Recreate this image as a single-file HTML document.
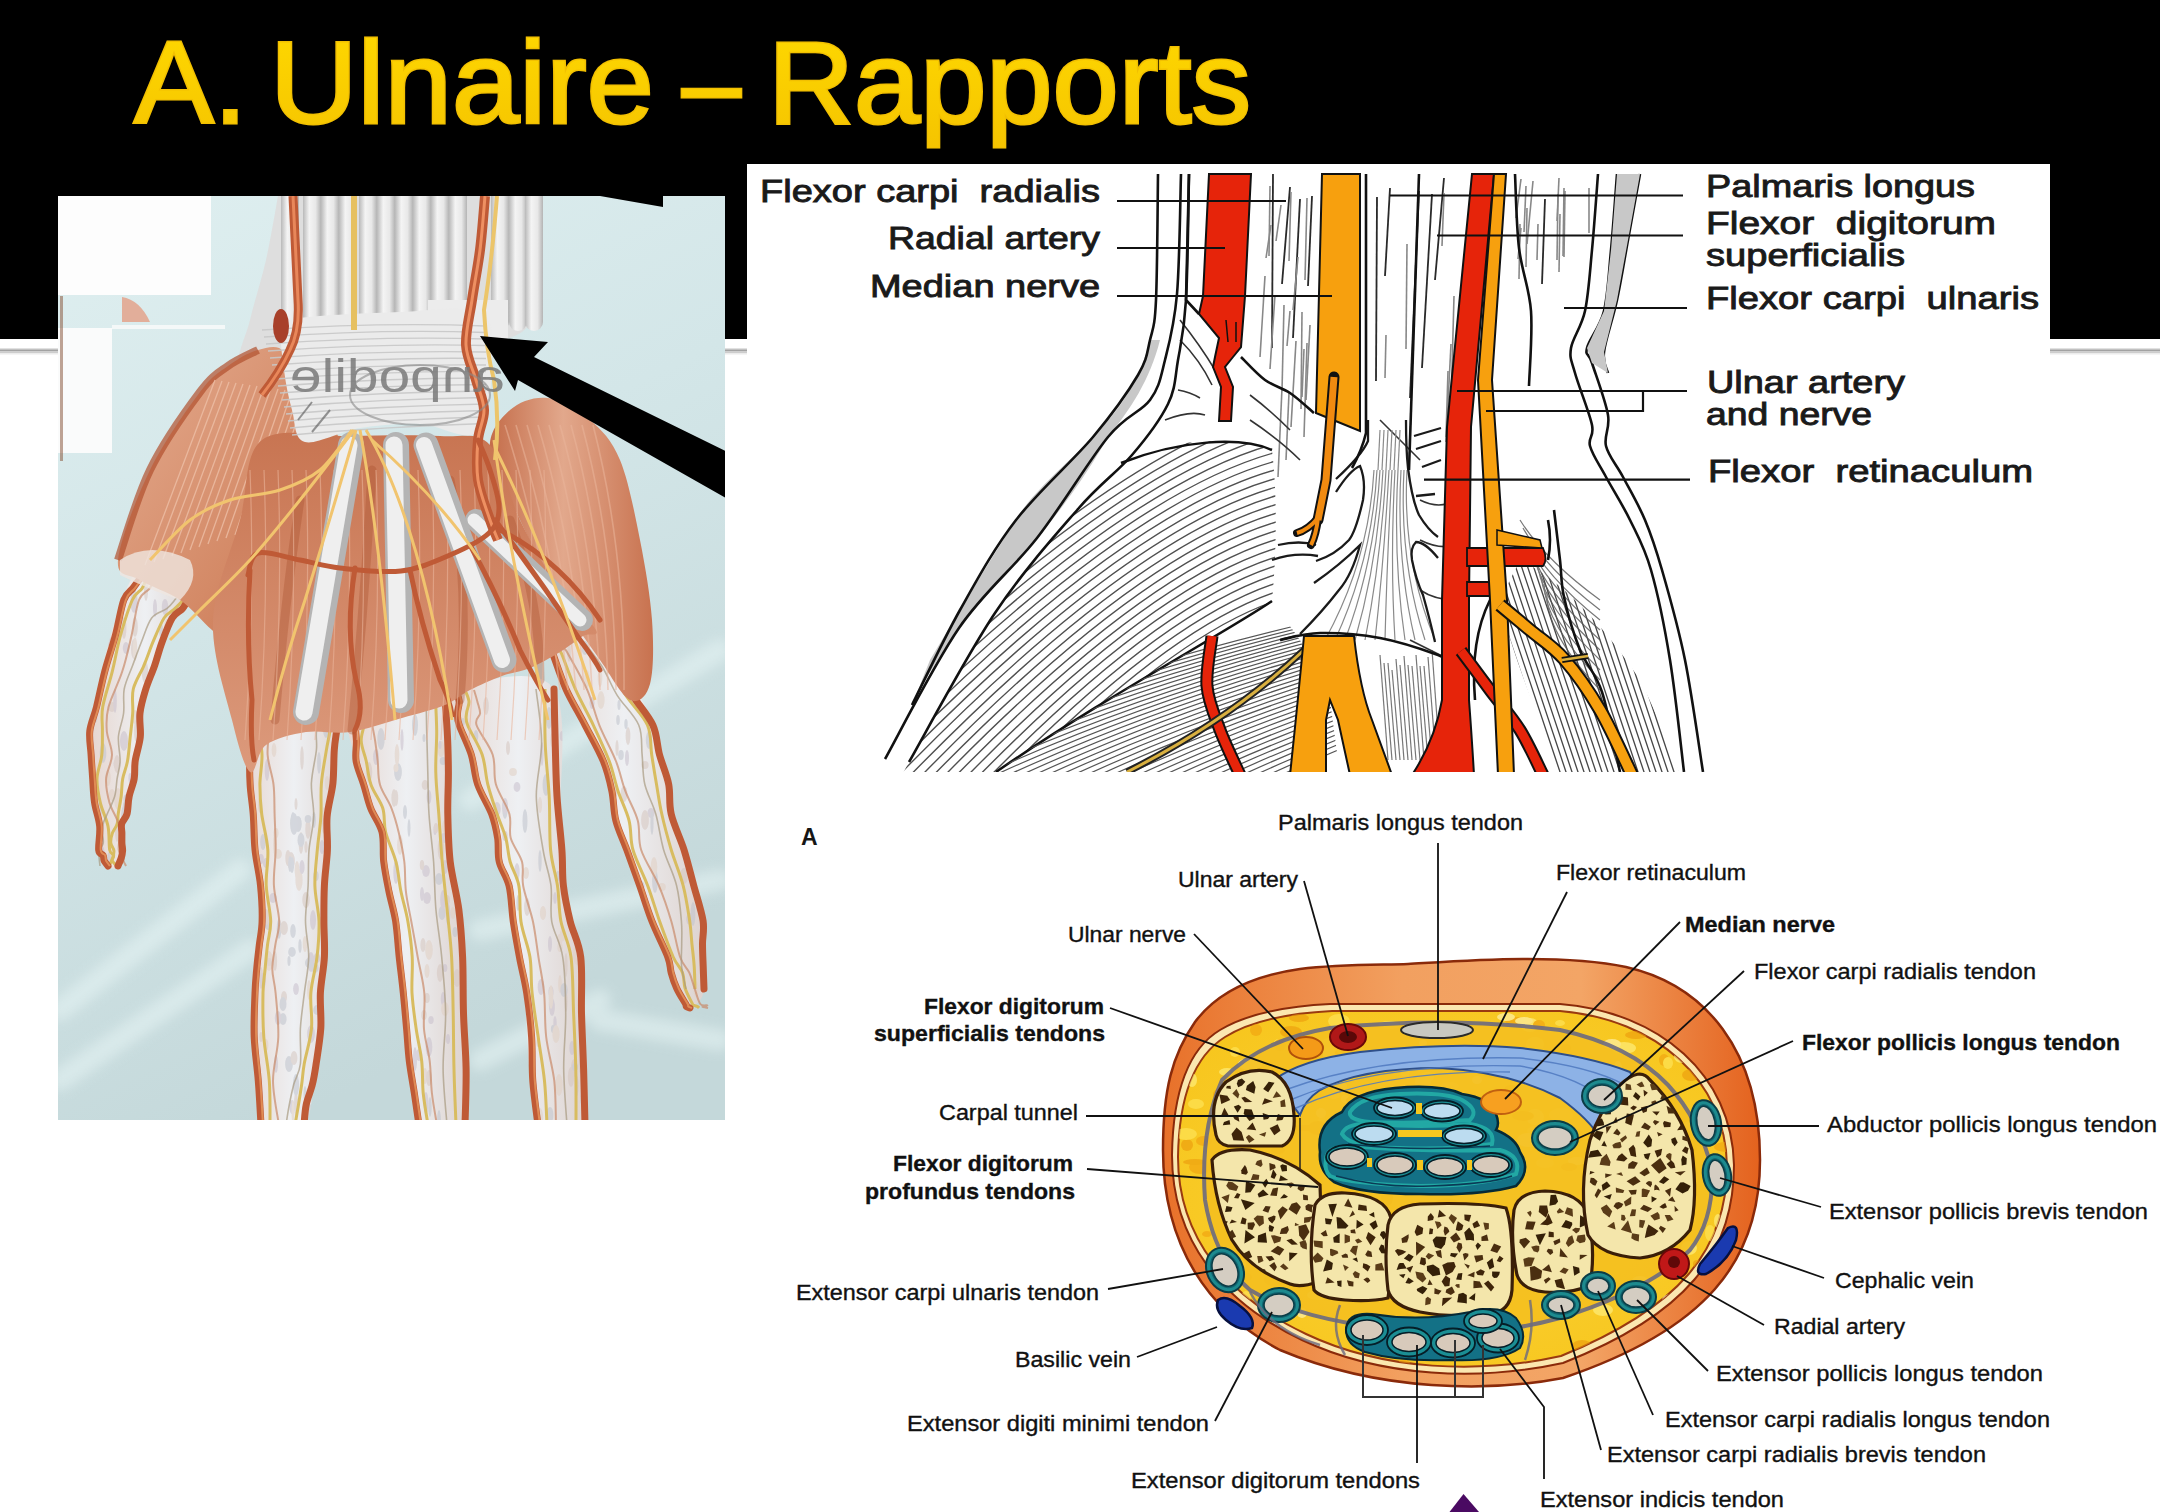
<!DOCTYPE html><html><head><meta charset="utf-8"><style>html,body{margin:0;padding:0}body{width:2160px;height:1512px;background:#fff;position:relative;overflow:hidden;font-family:"Liberation Sans",sans-serif}#title{position:absolute;left:132px;top:14px;font-size:116px;line-height:140px;color:#ffd300;white-space:nowrap;letter-spacing:0.5px;-webkit-text-stroke:3px #f9c800;text-shadow:0 0 1px #a07000}svg{position:absolute;left:0;top:0}</style></head><body><svg width="2160" height="1512" viewBox="0 0 2160 1512"><rect x="0" y="0" width="2160" height="339" fill="#000"/><rect x="0" y="348.5" width="2160" height="1" fill="#c4c4c4"/><rect x="0" y="349.5" width="2160" height="2" fill="#a2a2a2"/><rect x="0" y="351.5" width="2160" height="1.5" fill="#cdcdcd"/><rect x="0" y="353" width="2160" height="1.5" fill="#ececec"/><defs><clipPath id="hc"><rect x="58" y="196" width="667" height="924"/></clipPath><linearGradient id="hbg" x1="0" y1="0" x2="0.35" y2="1"><stop offset="0" stop-color="#dfeff0"/><stop offset="0.45" stop-color="#d3e6e8"/><stop offset="1" stop-color="#c4d8da"/></linearGradient><linearGradient id="msl" x1="0" y1="0" x2="1" y2="0"><stop offset="0" stop-color="#c46d4a"/><stop offset="0.45" stop-color="#e2a88c"/><stop offset="1" stop-color="#c8724f"/></linearGradient><linearGradient id="msl2" x1="0" y1="0" x2="1" y2="1"><stop offset="0" stop-color="#e4ab8f"/><stop offset="0.6" stop-color="#d48a67"/><stop offset="1" stop-color="#c46d4a"/></linearGradient><linearGradient id="palm" x1="0" y1="0" x2="0" y2="1"><stop offset="0" stop-color="#c87552"/><stop offset="1" stop-color="#dc9a7c"/></linearGradient><linearGradient id="tdn" x1="0" y1="0" x2="1" y2="0"><stop offset="0" stop-color="#b9b9b9"/><stop offset="0.35" stop-color="#f4f4f4"/><stop offset="0.7" stop-color="#e8e8e8"/><stop offset="1" stop-color="#b4b4b4"/></linearGradient><linearGradient id="fng" x1="0" y1="0" x2="1" y2="0"><stop offset="0" stop-color="#e6d6cf"/><stop offset="0.5" stop-color="#eef0f3"/><stop offset="1" stop-color="#ddd2ce"/></linearGradient></defs><g clip-path="url(#hc)"><rect x="58" y="196" width="667" height="924" fill="url(#hbg)"/><filter id="blr" x="-20%" y="-20%" width="140%" height="140%"><feGaussianBlur stdDeviation="6"/></filter><g opacity="0.55" stroke="#e6f4f4" stroke-width="22" fill="none" stroke-linecap="round" filter="url(#blr)"><path d="M60 1010 L240 870"/><path d="M60 1080 L250 950"/><path d="M470 800 L720 650"/><path d="M480 930 L720 880"/><path d="M600 1020 L720 1040"/><path d="M480 1060 L600 1000"/></g><rect x="58" y="196" width="153" height="99" fill="#fdfdfd"/><rect x="58" y="328" width="54" height="125" fill="#fafbfb"/><rect x="112" y="325" width="113" height="4" fill="#f4f8f8"/><path d="M122 297 Q140 300 150 322 L122 322Z" fill="#e2ae9a"/><rect x="60" y="296" width="3" height="165" fill="#8a5a40" opacity="0.55"/><path d="M278.0 196.0 C276.0 206.7 270.7 239.3 266.0 260.0 C261.3 280.7 254.2 302.0 250.0 320.0 C245.8 338.0 232.7 361.3 241.0 368.0 C249.3 374.7 270.2 363.0 300.0 360.0 C329.8 357.0 383.0 354.7 420.0 350.0 C457.0 345.3 502.7 345.3 522.0 332.0 C541.3 318.7 532.5 292.7 536.0 270.0 C539.5 247.3 541.8 208.3 543.0 196.0Z" fill="#dedede"/><rect x="281" y="180" width="18" height="151" rx="9" fill="url(#tdn)"/><rect x="303" y="180" width="18" height="151" rx="9" fill="url(#tdn)"/><rect x="321" y="180" width="18" height="151" rx="9" fill="url(#tdn)"/><rect x="339" y="180" width="18" height="151" rx="9" fill="url(#tdn)"/><rect x="359" y="180" width="18" height="151" rx="9" fill="url(#tdn)"/><rect x="377" y="180" width="18" height="151" rx="9" fill="url(#tdn)"/><rect x="395" y="180" width="18" height="151" rx="9" fill="url(#tdn)"/><rect x="413" y="180" width="18" height="151" rx="9" fill="url(#tdn)"/><rect x="431" y="180" width="18" height="151" rx="9" fill="url(#tdn)"/><rect x="449" y="180" width="18" height="151" rx="9" fill="url(#tdn)"/><rect x="491" y="180" width="18" height="151" rx="9" fill="url(#tdn)"/><rect x="509" y="180" width="18" height="151" rx="9" fill="url(#tdn)"/><rect x="525" y="180" width="18" height="151" rx="9" fill="url(#tdn)"/><rect x="428" y="300" width="80" height="40" fill="#ececec"/><path d="M150.0 565.0 C137.0 566.7 131.3 576.3 122.0 600.0 C112.7 623.7 99.3 677.2 94.0 707.0 C88.7 736.8 88.8 755.2 90.0 779.0 C91.2 802.8 98.0 835.5 101.0 850.0 C104.0 864.5 105.2 863.3 108.0 866.0 C110.8 868.7 115.7 869.8 118.0 866.0 C120.3 862.2 120.7 851.7 122.0 843.0 C123.3 834.3 123.7 827.7 126.0 814.0 C128.3 800.3 133.0 781.8 136.0 761.0 C139.0 740.2 138.0 712.8 144.0 689.0 C150.0 665.2 162.7 634.5 172.0 618.0 C181.3 601.5 203.7 598.8 200.0 590.0 C196.3 581.2 163.0 563.3 150.0 565.0Z" fill="url(#fng)"/><path d="M246.0 690.0 C230.8 695.8 249.7 704.3 251.0 725.0 C252.3 745.7 252.3 781.3 254.0 814.0 C255.7 846.7 261.0 891.2 261.0 921.0 C261.0 950.8 254.0 959.0 254.0 993.0 C254.0 1027.0 252.7 1103.0 261.0 1125.0 C269.3 1147.0 295.0 1135.2 304.0 1125.0 C313.0 1114.8 311.3 1092.0 315.0 1064.0 C318.7 1036.0 324.2 992.7 326.0 957.0 C327.8 921.3 324.3 884.5 326.0 850.0 C327.7 815.5 333.3 776.7 336.0 750.0 C338.7 723.3 357.0 700.0 342.0 690.0 C327.0 680.0 261.2 684.2 246.0 690.0Z" fill="url(#fng)"/><path d="M352.0 700.0 C337.3 712.0 351.5 739.0 356.0 761.0 C360.5 783.0 372.2 805.3 379.0 832.0 C385.8 858.7 392.2 888.2 397.0 921.0 C401.8 953.8 404.3 995.0 408.0 1029.0 C411.7 1063.0 409.5 1109.0 419.0 1125.0 C428.5 1141.0 458.0 1153.0 465.0 1125.0 C472.0 1097.0 464.0 1008.8 461.0 957.0 C458.0 905.2 449.8 858.7 447.0 814.0 C444.2 769.3 459.8 708.0 444.0 689.0 C428.2 670.0 366.7 688.0 352.0 700.0Z" fill="url(#fng)"/><path d="M456.0 690.0 C440.5 696.0 455.3 704.3 461.0 725.0 C466.7 745.7 482.2 787.2 490.0 814.0 C497.8 840.8 502.3 856.2 508.0 886.0 C513.7 915.8 519.0 953.2 524.0 993.0 C529.0 1032.8 527.8 1103.0 538.0 1125.0 C548.2 1147.0 578.3 1153.0 585.0 1125.0 C591.7 1097.0 582.2 1002.8 578.0 957.0 C573.8 911.2 564.0 894.7 560.0 850.0 C556.0 805.3 571.3 715.7 554.0 689.0 C536.7 662.3 471.5 684.0 456.0 690.0Z" fill="url(#fng)"/><path d="M548.0 640.0 C540.3 643.0 542.2 633.8 551.0 654.0 C559.8 674.2 588.5 728.3 601.0 761.0 C613.5 793.7 615.3 817.3 626.0 850.0 C636.7 882.7 655.5 931.3 665.0 957.0 C674.5 982.7 678.8 995.5 683.0 1004.0 C687.2 1012.5 686.5 1010.5 690.0 1008.0 C693.5 1005.5 702.2 1003.5 704.0 989.0 C705.8 974.5 706.3 950.2 701.0 921.0 C695.7 891.8 679.8 846.7 672.0 814.0 C664.2 781.3 666.5 754.7 654.0 725.0 C641.5 695.3 614.7 650.2 597.0 636.0 C579.3 621.8 555.7 637.0 548.0 640.0Z" fill="url(#fng)"/><clipPath id="fgc"><path d="M150.0 565.0 C137.0 566.7 131.3 576.3 122.0 600.0 C112.7 623.7 99.3 677.2 94.0 707.0 C88.7 736.8 88.8 755.2 90.0 779.0 C91.2 802.8 98.0 835.5 101.0 850.0 C104.0 864.5 105.2 863.3 108.0 866.0 C110.8 868.7 115.7 869.8 118.0 866.0 C120.3 862.2 120.7 851.7 122.0 843.0 C123.3 834.3 123.7 827.7 126.0 814.0 C128.3 800.3 133.0 781.8 136.0 761.0 C139.0 740.2 138.0 712.8 144.0 689.0 C150.0 665.2 162.7 634.5 172.0 618.0 C181.3 601.5 203.7 598.8 200.0 590.0 C196.3 581.2 163.0 563.3 150.0 565.0Z"/><path d="M246.0 690.0 C230.8 695.8 249.7 704.3 251.0 725.0 C252.3 745.7 252.3 781.3 254.0 814.0 C255.7 846.7 261.0 891.2 261.0 921.0 C261.0 950.8 254.0 959.0 254.0 993.0 C254.0 1027.0 252.7 1103.0 261.0 1125.0 C269.3 1147.0 295.0 1135.2 304.0 1125.0 C313.0 1114.8 311.3 1092.0 315.0 1064.0 C318.7 1036.0 324.2 992.7 326.0 957.0 C327.8 921.3 324.3 884.5 326.0 850.0 C327.7 815.5 333.3 776.7 336.0 750.0 C338.7 723.3 357.0 700.0 342.0 690.0 C327.0 680.0 261.2 684.2 246.0 690.0Z"/><path d="M352.0 700.0 C337.3 712.0 351.5 739.0 356.0 761.0 C360.5 783.0 372.2 805.3 379.0 832.0 C385.8 858.7 392.2 888.2 397.0 921.0 C401.8 953.8 404.3 995.0 408.0 1029.0 C411.7 1063.0 409.5 1109.0 419.0 1125.0 C428.5 1141.0 458.0 1153.0 465.0 1125.0 C472.0 1097.0 464.0 1008.8 461.0 957.0 C458.0 905.2 449.8 858.7 447.0 814.0 C444.2 769.3 459.8 708.0 444.0 689.0 C428.2 670.0 366.7 688.0 352.0 700.0Z"/><path d="M456.0 690.0 C440.5 696.0 455.3 704.3 461.0 725.0 C466.7 745.7 482.2 787.2 490.0 814.0 C497.8 840.8 502.3 856.2 508.0 886.0 C513.7 915.8 519.0 953.2 524.0 993.0 C529.0 1032.8 527.8 1103.0 538.0 1125.0 C548.2 1147.0 578.3 1153.0 585.0 1125.0 C591.7 1097.0 582.2 1002.8 578.0 957.0 C573.8 911.2 564.0 894.7 560.0 850.0 C556.0 805.3 571.3 715.7 554.0 689.0 C536.7 662.3 471.5 684.0 456.0 690.0Z"/><path d="M548.0 640.0 C540.3 643.0 542.2 633.8 551.0 654.0 C559.8 674.2 588.5 728.3 601.0 761.0 C613.5 793.7 615.3 817.3 626.0 850.0 C636.7 882.7 655.5 931.3 665.0 957.0 C674.5 982.7 678.8 995.5 683.0 1004.0 C687.2 1012.5 686.5 1010.5 690.0 1008.0 C693.5 1005.5 702.2 1003.5 704.0 989.0 C705.8 974.5 706.3 950.2 701.0 921.0 C695.7 891.8 679.8 846.7 672.0 814.0 C664.2 781.3 666.5 754.7 654.0 725.0 C641.5 695.3 614.7 650.2 597.0 636.0 C579.3 621.8 555.7 637.0 548.0 640.0Z"/></clipPath><g opacity="0.55" clip-path="url(#fgc)"><ellipse cx="311" cy="962" rx="3.6" ry="10" fill="#c8c0cc"/><ellipse cx="260" cy="805" rx="1.8" ry="8" fill="#d6c6c0"/><ellipse cx="296" cy="804" rx="1.5" ry="6" fill="#d6c6c0"/><ellipse cx="324" cy="817" rx="1.9" ry="10" fill="#e0cfc4"/><ellipse cx="302" cy="758" rx="1.8" ry="12" fill="#d6c6c0"/><ellipse cx="313" cy="702" rx="3.7" ry="6" fill="#d6c6c0"/><ellipse cx="296" cy="1104" rx="2.0" ry="12" fill="#d6c6c0"/><ellipse cx="327" cy="783" rx="2.2" ry="7" fill="#e0cfc4"/><ellipse cx="267" cy="770" rx="2.3" ry="11" fill="#c8c0cc"/><ellipse cx="300" cy="946" rx="1.7" ry="7" fill="#bfc4cc"/><ellipse cx="308" cy="829" rx="2.7" ry="10" fill="#d6c6c0"/><ellipse cx="328" cy="724" rx="3.9" ry="7" fill="#c8c0cc"/><ellipse cx="297" cy="870" rx="2.4" ry="9" fill="#e0cfc4"/><ellipse cx="259" cy="704" rx="3.1" ry="12" fill="#d6c6c0"/><ellipse cx="274" cy="750" rx="2.4" ry="7" fill="#e0cfc4"/><ellipse cx="313" cy="920" rx="3.0" ry="10" fill="#c8c0cc"/><ellipse cx="278" cy="854" rx="3.9" ry="5" fill="#e0cfc4"/><ellipse cx="301" cy="843" rx="2.3" ry="11" fill="#d6c6c0"/><ellipse cx="279" cy="929" rx="2.3" ry="10" fill="#bfc4cc"/><ellipse cx="309" cy="963" rx="4.0" ry="5" fill="#bfc4cc"/><ellipse cx="329" cy="720" rx="1.6" ry="10" fill="#e0cfc4"/><ellipse cx="275" cy="844" rx="1.9" ry="12" fill="#e0cfc4"/><ellipse cx="315" cy="968" rx="3.6" ry="5" fill="#bfc4cc"/><ellipse cx="326" cy="1007" rx="1.8" ry="7" fill="#e0cfc4"/><ellipse cx="319" cy="763" rx="1.9" ry="11" fill="#bfc4cc"/><ellipse cx="269" cy="961" rx="3.9" ry="10" fill="#e0cfc4"/><ellipse cx="276" cy="833" rx="2.5" ry="5" fill="#e0cfc4"/><ellipse cx="329" cy="858" rx="3.1" ry="8" fill="#d6c6c0"/><ellipse cx="263" cy="842" rx="2.8" ry="8" fill="#bfc4cc"/><ellipse cx="261" cy="911" rx="3.2" ry="9" fill="#bfc4cc"/><ellipse cx="283" cy="1019" rx="3.6" ry="6" fill="#bfc4cc"/><ellipse cx="309" cy="1112" rx="3.1" ry="9" fill="#bfc4cc"/><ellipse cx="296" cy="705" rx="2.3" ry="6" fill="#bfc4cc"/><ellipse cx="293" cy="821" rx="2.4" ry="9" fill="#bfc4cc"/><ellipse cx="317" cy="1010" rx="3.8" ry="5" fill="#bfc4cc"/><ellipse cx="289" cy="1064" rx="3.9" ry="8" fill="#bfc4cc"/><ellipse cx="268" cy="922" rx="3.8" ry="8" fill="#bfc4cc"/><ellipse cx="309" cy="990" rx="1.9" ry="10" fill="#e0cfc4"/><ellipse cx="305" cy="944" rx="2.3" ry="8" fill="#e0cfc4"/><ellipse cx="276" cy="1064" rx="2.0" ry="9" fill="#c8c0cc"/><ellipse cx="269" cy="962" rx="3.1" ry="4" fill="#d6c6c0"/><ellipse cx="273" cy="898" rx="3.7" ry="5" fill="#c8c0cc"/><ellipse cx="292" cy="1107" rx="2.5" ry="7" fill="#c8c0cc"/><ellipse cx="261" cy="978" rx="2.1" ry="11" fill="#d6c6c0"/><ellipse cx="286" cy="700" rx="3.6" ry="11" fill="#bfc4cc"/><ellipse cx="296" cy="989" rx="2.9" ry="6" fill="#c8c0cc"/><ellipse cx="294" cy="824" rx="3.9" ry="11" fill="#bfc4cc"/><ellipse cx="316" cy="876" rx="2.7" ry="5" fill="#bfc4cc"/><ellipse cx="291" cy="861" rx="3.9" ry="9" fill="#d6c6c0"/><ellipse cx="322" cy="847" rx="2.5" ry="7" fill="#c8c0cc"/><ellipse cx="296" cy="1085" rx="3.1" ry="11" fill="#bfc4cc"/><ellipse cx="288" cy="858" rx="2.7" ry="8" fill="#d6c6c0"/><ellipse cx="284" cy="997" rx="3.0" ry="6" fill="#d6c6c0"/><ellipse cx="293" cy="1112" rx="1.5" ry="12" fill="#e0cfc4"/><ellipse cx="325" cy="829" rx="2.7" ry="5" fill="#d6c6c0"/><ellipse cx="289" cy="961" rx="1.6" ry="5" fill="#bfc4cc"/><ellipse cx="292" cy="865" rx="2.1" ry="8" fill="#bfc4cc"/><ellipse cx="292" cy="715" rx="3.3" ry="6" fill="#d6c6c0"/><ellipse cx="329" cy="907" rx="1.5" ry="5" fill="#c8c0cc"/><ellipse cx="308" cy="819" rx="3.3" ry="4" fill="#bfc4cc"/><ellipse cx="306" cy="847" rx="1.6" ry="6" fill="#d6c6c0"/><ellipse cx="324" cy="891" rx="1.5" ry="10" fill="#d6c6c0"/><ellipse cx="299" cy="880" rx="3.6" ry="11" fill="#e0cfc4"/><ellipse cx="306" cy="900" rx="3.7" ry="8" fill="#d6c6c0"/><ellipse cx="278" cy="1018" rx="3.2" ry="7" fill="#c8c0cc"/><ellipse cx="314" cy="820" rx="1.9" ry="8" fill="#bfc4cc"/><ellipse cx="293" cy="931" rx="2.8" ry="7" fill="#bfc4cc"/><ellipse cx="260" cy="927" rx="2.2" ry="5" fill="#d6c6c0"/><ellipse cx="326" cy="726" rx="3.3" ry="12" fill="#bfc4cc"/><ellipse cx="308" cy="1119" rx="1.8" ry="5" fill="#c8c0cc"/><ellipse cx="317" cy="958" rx="3.3" ry="5" fill="#c8c0cc"/><ellipse cx="324" cy="823" rx="2.0" ry="5" fill="#d6c6c0"/><ellipse cx="261" cy="1037" rx="1.6" ry="5" fill="#d6c6c0"/><ellipse cx="261" cy="859" rx="2.9" ry="5" fill="#c8c0cc"/><ellipse cx="302" cy="867" rx="2.6" ry="7" fill="#c8c0cc"/><ellipse cx="292" cy="952" rx="3.8" ry="5" fill="#bfc4cc"/><ellipse cx="298" cy="824" rx="3.8" ry="8" fill="#bfc4cc"/><ellipse cx="275" cy="961" rx="2.1" ry="10" fill="#d6c6c0"/><ellipse cx="266" cy="917" rx="3.7" ry="8" fill="#d6c6c0"/><ellipse cx="266" cy="863" rx="3.1" ry="5" fill="#c8c0cc"/><ellipse cx="263" cy="981" rx="2.8" ry="8" fill="#c8c0cc"/><ellipse cx="290" cy="864" rx="1.8" ry="8" fill="#bfc4cc"/><ellipse cx="284" cy="928" rx="3.9" ry="7" fill="#d6c6c0"/><ellipse cx="311" cy="1034" rx="3.9" ry="9" fill="#c8c0cc"/><ellipse cx="266" cy="1045" rx="2.4" ry="6" fill="#e0cfc4"/><ellipse cx="301" cy="840" rx="3.5" ry="7" fill="#bfc4cc"/><ellipse cx="283" cy="1004" rx="3.5" ry="7" fill="#bfc4cc"/><ellipse cx="294" cy="1058" rx="3.4" ry="7" fill="#d6c6c0"/><ellipse cx="258" cy="741" rx="2.0" ry="8" fill="#d6c6c0"/><ellipse cx="305" cy="1094" rx="1.5" ry="8" fill="#bfc4cc"/><ellipse cx="425" cy="1076" rx="2.3" ry="8" fill="#e0cfc4"/><ellipse cx="429" cy="797" rx="2.4" ry="7" fill="#c8c0cc"/><ellipse cx="376" cy="1072" rx="1.8" ry="11" fill="#bfc4cc"/><ellipse cx="431" cy="1020" rx="2.7" ry="4" fill="#c8c0cc"/><ellipse cx="399" cy="1090" rx="3.2" ry="9" fill="#c8c0cc"/><ellipse cx="459" cy="909" rx="3.5" ry="7" fill="#c8c0cc"/><ellipse cx="385" cy="902" rx="1.6" ry="10" fill="#d6c6c0"/><ellipse cx="429" cy="950" rx="3.8" ry="10" fill="#e0cfc4"/><ellipse cx="379" cy="992" rx="2.2" ry="10" fill="#bfc4cc"/><ellipse cx="377" cy="1007" rx="1.9" ry="6" fill="#d6c6c0"/><ellipse cx="424" cy="738" rx="1.5" ry="4" fill="#bfc4cc"/><ellipse cx="403" cy="1032" rx="1.6" ry="11" fill="#c8c0cc"/><ellipse cx="419" cy="1055" rx="3.3" ry="6" fill="#c8c0cc"/><ellipse cx="370" cy="1041" rx="1.6" ry="6" fill="#e0cfc4"/><ellipse cx="402" cy="740" rx="1.6" ry="11" fill="#c8c0cc"/><ellipse cx="427" cy="898" rx="3.9" ry="6" fill="#c8c0cc"/><ellipse cx="427" cy="998" rx="2.8" ry="5" fill="#d6c6c0"/><ellipse cx="371" cy="846" rx="3.0" ry="11" fill="#d6c6c0"/><ellipse cx="362" cy="806" rx="2.7" ry="9" fill="#bfc4cc"/><ellipse cx="426" cy="871" rx="3.8" ry="6" fill="#c8c0cc"/><ellipse cx="447" cy="900" rx="2.9" ry="5" fill="#d6c6c0"/><ellipse cx="442" cy="913" rx="3.5" ry="7" fill="#bfc4cc"/><ellipse cx="369" cy="772" rx="3.2" ry="10" fill="#d6c6c0"/><ellipse cx="430" cy="1107" rx="1.7" ry="10" fill="#bfc4cc"/><ellipse cx="381" cy="739" rx="3.7" ry="11" fill="#bfc4cc"/><ellipse cx="441" cy="749" rx="3.4" ry="8" fill="#e0cfc4"/><ellipse cx="429" cy="1078" rx="2.9" ry="8" fill="#d6c6c0"/><ellipse cx="429" cy="1047" rx="3.3" ry="10" fill="#c8c0cc"/><ellipse cx="445" cy="827" rx="2.9" ry="7" fill="#e0cfc4"/><ellipse cx="374" cy="843" rx="3.2" ry="6" fill="#e0cfc4"/><ellipse cx="440" cy="745" rx="1.6" ry="4" fill="#c8c0cc"/><ellipse cx="398" cy="772" rx="3.9" ry="9" fill="#bfc4cc"/><ellipse cx="405" cy="812" rx="2.0" ry="7" fill="#bfc4cc"/><ellipse cx="425" cy="785" rx="3.3" ry="5" fill="#d6c6c0"/><ellipse cx="378" cy="932" rx="2.6" ry="12" fill="#d6c6c0"/><ellipse cx="372" cy="1038" rx="2.6" ry="6" fill="#bfc4cc"/><ellipse cx="378" cy="958" rx="3.4" ry="11" fill="#c8c0cc"/><ellipse cx="462" cy="933" rx="1.8" ry="11" fill="#c8c0cc"/><ellipse cx="365" cy="888" rx="1.6" ry="9" fill="#c8c0cc"/><ellipse cx="453" cy="913" rx="2.7" ry="6" fill="#e0cfc4"/><ellipse cx="392" cy="1049" rx="3.4" ry="10" fill="#bfc4cc"/><ellipse cx="445" cy="867" rx="3.0" ry="7" fill="#c8c0cc"/><ellipse cx="447" cy="777" rx="2.5" ry="5" fill="#e0cfc4"/><ellipse cx="439" cy="879" rx="3.8" ry="6" fill="#bfc4cc"/><ellipse cx="394" cy="1039" rx="3.7" ry="9" fill="#e0cfc4"/><ellipse cx="400" cy="1040" rx="1.8" ry="9" fill="#c8c0cc"/><ellipse cx="445" cy="968" rx="2.3" ry="4" fill="#c8c0cc"/><ellipse cx="400" cy="845" rx="2.9" ry="10" fill="#e0cfc4"/><ellipse cx="443" cy="900" rx="2.8" ry="10" fill="#c8c0cc"/><ellipse cx="422" cy="865" rx="2.2" ry="5" fill="#d6c6c0"/><ellipse cx="397" cy="755" rx="2.3" ry="11" fill="#e0cfc4"/><ellipse cx="435" cy="830" rx="1.6" ry="5" fill="#c8c0cc"/><ellipse cx="392" cy="1105" rx="3.2" ry="11" fill="#bfc4cc"/><ellipse cx="424" cy="1015" rx="2.7" ry="5" fill="#d6c6c0"/><ellipse cx="396" cy="768" rx="2.5" ry="4" fill="#e0cfc4"/><ellipse cx="379" cy="876" rx="3.8" ry="9" fill="#d6c6c0"/><ellipse cx="371" cy="875" rx="2.1" ry="5" fill="#bfc4cc"/><ellipse cx="444" cy="838" rx="3.7" ry="5" fill="#c8c0cc"/><ellipse cx="440" cy="973" rx="3.1" ry="9" fill="#d6c6c0"/><ellipse cx="427" cy="971" rx="2.5" ry="7" fill="#e0cfc4"/><ellipse cx="455" cy="932" rx="2.5" ry="5" fill="#bfc4cc"/><ellipse cx="395" cy="1076" rx="1.6" ry="5" fill="#e0cfc4"/><ellipse cx="423" cy="945" rx="2.6" ry="7" fill="#d6c6c0"/><ellipse cx="443" cy="761" rx="3.3" ry="4" fill="#bfc4cc"/><ellipse cx="448" cy="914" rx="2.3" ry="11" fill="#c8c0cc"/><ellipse cx="457" cy="978" rx="3.7" ry="9" fill="#d6c6c0"/><ellipse cx="448" cy="1039" rx="2.0" ry="5" fill="#c8c0cc"/><ellipse cx="376" cy="757" rx="2.9" ry="8" fill="#c8c0cc"/><ellipse cx="441" cy="849" rx="3.3" ry="11" fill="#d6c6c0"/><ellipse cx="426" cy="1103" rx="2.4" ry="11" fill="#c8c0cc"/><ellipse cx="394" cy="798" rx="2.6" ry="9" fill="#d6c6c0"/><ellipse cx="369" cy="1017" rx="3.9" ry="8" fill="#e0cfc4"/><ellipse cx="463" cy="722" rx="1.8" ry="4" fill="#bfc4cc"/><ellipse cx="396" cy="872" rx="2.7" ry="12" fill="#c8c0cc"/><ellipse cx="362" cy="1005" rx="4.0" ry="10" fill="#e0cfc4"/><ellipse cx="396" cy="798" rx="2.2" ry="8" fill="#d6c6c0"/><ellipse cx="443" cy="999" rx="2.2" ry="7" fill="#c8c0cc"/><ellipse cx="415" cy="1059" rx="2.1" ry="12" fill="#c8c0cc"/><ellipse cx="436" cy="828" rx="2.2" ry="5" fill="#d6c6c0"/><ellipse cx="463" cy="911" rx="3.6" ry="6" fill="#e0cfc4"/><ellipse cx="374" cy="901" rx="1.5" ry="10" fill="#c8c0cc"/><ellipse cx="362" cy="864" rx="2.9" ry="12" fill="#bfc4cc"/><ellipse cx="368" cy="1067" rx="2.0" ry="10" fill="#d6c6c0"/><ellipse cx="415" cy="725" rx="3.0" ry="11" fill="#bfc4cc"/><ellipse cx="362" cy="908" rx="2.5" ry="10" fill="#d6c6c0"/><ellipse cx="422" cy="894" rx="2.0" ry="7" fill="#c8c0cc"/><ellipse cx="445" cy="1009" rx="3.8" ry="7" fill="#e0cfc4"/><ellipse cx="439" cy="1120" rx="1.9" ry="10" fill="#bfc4cc"/><ellipse cx="462" cy="889" rx="2.0" ry="7" fill="#bfc4cc"/><ellipse cx="409" cy="828" rx="1.5" ry="9" fill="#bfc4cc"/><ellipse cx="555" cy="1023" rx="1.7" ry="7" fill="#c8c0cc"/><ellipse cx="571" cy="1077" rx="3.1" ry="10" fill="#d6c6c0"/><ellipse cx="500" cy="907" rx="1.8" ry="6" fill="#e0cfc4"/><ellipse cx="577" cy="1086" rx="1.5" ry="10" fill="#c8c0cc"/><ellipse cx="476" cy="736" rx="2.3" ry="6" fill="#bfc4cc"/><ellipse cx="572" cy="823" rx="2.2" ry="5" fill="#c8c0cc"/><ellipse cx="498" cy="868" rx="2.9" ry="8" fill="#e0cfc4"/><ellipse cx="581" cy="1066" rx="2.2" ry="8" fill="#d6c6c0"/><ellipse cx="477" cy="1007" rx="3.2" ry="4" fill="#e0cfc4"/><ellipse cx="486" cy="706" rx="2.8" ry="9" fill="#d6c6c0"/><ellipse cx="467" cy="1033" rx="1.6" ry="7" fill="#d6c6c0"/><ellipse cx="463" cy="845" rx="2.6" ry="5" fill="#bfc4cc"/><ellipse cx="573" cy="752" rx="3.3" ry="11" fill="#bfc4cc"/><ellipse cx="584" cy="1099" rx="3.6" ry="9" fill="#bfc4cc"/><ellipse cx="541" cy="987" rx="3.3" ry="8" fill="#c8c0cc"/><ellipse cx="576" cy="863" rx="3.5" ry="7" fill="#bfc4cc"/><ellipse cx="517" cy="872" rx="2.7" ry="9" fill="#c8c0cc"/><ellipse cx="517" cy="787" rx="3.4" ry="5" fill="#c8c0cc"/><ellipse cx="507" cy="1072" rx="2.2" ry="6" fill="#bfc4cc"/><ellipse cx="553" cy="1029" rx="2.1" ry="4" fill="#bfc4cc"/><ellipse cx="481" cy="806" rx="3.3" ry="9" fill="#d6c6c0"/><ellipse cx="574" cy="1068" rx="3.0" ry="9" fill="#d6c6c0"/><ellipse cx="504" cy="1079" rx="1.5" ry="4" fill="#c8c0cc"/><ellipse cx="522" cy="1046" rx="1.6" ry="7" fill="#c8c0cc"/><ellipse cx="526" cy="873" rx="3.0" ry="6" fill="#e0cfc4"/><ellipse cx="474" cy="1099" rx="3.3" ry="9" fill="#c8c0cc"/><ellipse cx="549" cy="718" rx="3.1" ry="11" fill="#bfc4cc"/><ellipse cx="469" cy="1003" rx="1.8" ry="10" fill="#bfc4cc"/><ellipse cx="497" cy="809" rx="3.7" ry="7" fill="#c8c0cc"/><ellipse cx="522" cy="976" rx="1.9" ry="6" fill="#e0cfc4"/><ellipse cx="578" cy="811" rx="2.6" ry="5" fill="#d6c6c0"/><ellipse cx="540" cy="1117" rx="3.1" ry="9" fill="#e0cfc4"/><ellipse cx="477" cy="773" rx="1.9" ry="8" fill="#e0cfc4"/><ellipse cx="503" cy="1093" rx="1.9" ry="6" fill="#c8c0cc"/><ellipse cx="527" cy="907" rx="2.9" ry="9" fill="#d6c6c0"/><ellipse cx="558" cy="876" rx="2.2" ry="5" fill="#bfc4cc"/><ellipse cx="505" cy="809" rx="2.7" ry="10" fill="#bfc4cc"/><ellipse cx="562" cy="736" rx="2.3" ry="5" fill="#c8c0cc"/><ellipse cx="566" cy="965" rx="1.6" ry="12" fill="#d6c6c0"/><ellipse cx="540" cy="861" rx="1.7" ry="11" fill="#bfc4cc"/><ellipse cx="499" cy="1071" rx="3.3" ry="7" fill="#bfc4cc"/><ellipse cx="468" cy="1065" rx="1.7" ry="4" fill="#bfc4cc"/><ellipse cx="552" cy="740" rx="1.8" ry="7" fill="#e0cfc4"/><ellipse cx="463" cy="795" rx="3.1" ry="9" fill="#bfc4cc"/><ellipse cx="505" cy="836" rx="2.7" ry="5" fill="#c8c0cc"/><ellipse cx="474" cy="1023" rx="1.7" ry="12" fill="#c8c0cc"/><ellipse cx="515" cy="928" rx="2.3" ry="8" fill="#bfc4cc"/><ellipse cx="465" cy="1045" rx="2.5" ry="9" fill="#d6c6c0"/><ellipse cx="501" cy="1086" rx="1.8" ry="4" fill="#c8c0cc"/><ellipse cx="518" cy="1094" rx="2.9" ry="10" fill="#e0cfc4"/><ellipse cx="492" cy="967" rx="3.4" ry="6" fill="#d6c6c0"/><ellipse cx="555" cy="898" rx="1.8" ry="6" fill="#c8c0cc"/><ellipse cx="551" cy="992" rx="2.6" ry="6" fill="#c8c0cc"/><ellipse cx="540" cy="805" rx="2.1" ry="8" fill="#e0cfc4"/><ellipse cx="560" cy="984" rx="1.8" ry="9" fill="#e0cfc4"/><ellipse cx="505" cy="806" rx="2.9" ry="8" fill="#c8c0cc"/><ellipse cx="463" cy="787" rx="3.1" ry="8" fill="#e0cfc4"/><ellipse cx="575" cy="1067" rx="3.0" ry="4" fill="#bfc4cc"/><ellipse cx="525" cy="821" rx="2.5" ry="12" fill="#bfc4cc"/><ellipse cx="542" cy="754" rx="1.5" ry="12" fill="#c8c0cc"/><ellipse cx="567" cy="831" rx="2.6" ry="11" fill="#bfc4cc"/><ellipse cx="502" cy="984" rx="3.3" ry="9" fill="#bfc4cc"/><ellipse cx="480" cy="1034" rx="3.1" ry="8" fill="#e0cfc4"/><ellipse cx="518" cy="903" rx="1.6" ry="8" fill="#bfc4cc"/><ellipse cx="475" cy="901" rx="1.9" ry="5" fill="#d6c6c0"/><ellipse cx="543" cy="913" rx="3.1" ry="7" fill="#e0cfc4"/><ellipse cx="489" cy="971" rx="3.8" ry="6" fill="#bfc4cc"/><ellipse cx="468" cy="799" rx="2.6" ry="6" fill="#bfc4cc"/><ellipse cx="507" cy="1009" rx="3.5" ry="10" fill="#e0cfc4"/><ellipse cx="526" cy="1075" rx="1.9" ry="4" fill="#c8c0cc"/><ellipse cx="556" cy="706" rx="1.9" ry="11" fill="#c8c0cc"/><ellipse cx="519" cy="1078" rx="2.8" ry="4" fill="#bfc4cc"/><ellipse cx="556" cy="1034" rx="3.6" ry="9" fill="#e0cfc4"/><ellipse cx="566" cy="1001" rx="1.6" ry="11" fill="#d6c6c0"/><ellipse cx="485" cy="1116" rx="3.2" ry="6" fill="#c8c0cc"/><ellipse cx="571" cy="924" rx="2.1" ry="4" fill="#d6c6c0"/><ellipse cx="498" cy="880" rx="2.5" ry="10" fill="#e0cfc4"/><ellipse cx="508" cy="748" rx="2.0" ry="7" fill="#d6c6c0"/><ellipse cx="511" cy="889" rx="2.2" ry="8" fill="#c8c0cc"/><ellipse cx="546" cy="785" rx="3.4" ry="11" fill="#bfc4cc"/><ellipse cx="559" cy="1085" rx="3.6" ry="11" fill="#e0cfc4"/><ellipse cx="563" cy="935" rx="3.3" ry="6" fill="#e0cfc4"/><ellipse cx="550" cy="944" rx="2.0" ry="8" fill="#c8c0cc"/><ellipse cx="506" cy="1053" rx="3.3" ry="7" fill="#c8c0cc"/><ellipse cx="538" cy="1042" rx="1.5" ry="5" fill="#d6c6c0"/><ellipse cx="473" cy="879" rx="3.3" ry="8" fill="#c8c0cc"/><ellipse cx="572" cy="1048" rx="2.7" ry="7" fill="#c8c0cc"/><ellipse cx="550" cy="1115" rx="3.4" ry="8" fill="#bfc4cc"/><ellipse cx="516" cy="1037" rx="3.0" ry="8" fill="#bfc4cc"/><ellipse cx="513" cy="772" rx="3.9" ry="4" fill="#e0cfc4"/><ellipse cx="567" cy="818" rx="3.4" ry="8" fill="#c8c0cc"/><ellipse cx="652" cy="671" rx="1.7" ry="10" fill="#bfc4cc"/><ellipse cx="600" cy="791" rx="2.3" ry="9" fill="#c8c0cc"/><ellipse cx="630" cy="686" rx="3.4" ry="11" fill="#c8c0cc"/><ellipse cx="563" cy="892" rx="2.8" ry="8" fill="#e0cfc4"/><ellipse cx="573" cy="804" rx="3.0" ry="9" fill="#bfc4cc"/><ellipse cx="630" cy="999" rx="3.6" ry="9" fill="#bfc4cc"/><ellipse cx="608" cy="667" rx="1.7" ry="7" fill="#e0cfc4"/><ellipse cx="564" cy="990" rx="3.7" ry="7" fill="#bfc4cc"/><ellipse cx="600" cy="678" rx="2.3" ry="9" fill="#e0cfc4"/><ellipse cx="685" cy="808" rx="3.0" ry="11" fill="#c8c0cc"/><ellipse cx="621" cy="755" rx="2.8" ry="5" fill="#bfc4cc"/><ellipse cx="687" cy="829" rx="3.1" ry="9" fill="#e0cfc4"/><ellipse cx="616" cy="790" rx="1.7" ry="7" fill="#d6c6c0"/><ellipse cx="672" cy="654" rx="3.0" ry="9" fill="#e0cfc4"/><ellipse cx="619" cy="705" rx="1.6" ry="5" fill="#bfc4cc"/><ellipse cx="690" cy="919" rx="3.8" ry="6" fill="#c8c0cc"/><ellipse cx="617" cy="748" rx="1.6" ry="8" fill="#d6c6c0"/><ellipse cx="601" cy="700" rx="3.6" ry="9" fill="#e0cfc4"/><ellipse cx="577" cy="954" rx="4.0" ry="11" fill="#e0cfc4"/><ellipse cx="618" cy="673" rx="2.4" ry="10" fill="#bfc4cc"/><ellipse cx="696" cy="989" rx="2.5" ry="8" fill="#e0cfc4"/><ellipse cx="572" cy="738" rx="2.4" ry="5" fill="#e0cfc4"/><ellipse cx="551" cy="1004" rx="2.3" ry="6" fill="#e0cfc4"/><ellipse cx="691" cy="698" rx="1.8" ry="7" fill="#e0cfc4"/><ellipse cx="580" cy="712" rx="2.1" ry="8" fill="#e0cfc4"/><ellipse cx="628" cy="855" rx="3.4" ry="6" fill="#c8c0cc"/><ellipse cx="645" cy="765" rx="3.6" ry="4" fill="#d6c6c0"/><ellipse cx="555" cy="713" rx="2.8" ry="4" fill="#e0cfc4"/><ellipse cx="703" cy="723" rx="2.1" ry="8" fill="#bfc4cc"/><ellipse cx="569" cy="652" rx="1.8" ry="10" fill="#d6c6c0"/><ellipse cx="689" cy="684" rx="3.4" ry="11" fill="#c8c0cc"/><ellipse cx="693" cy="856" rx="3.5" ry="6" fill="#bfc4cc"/><ellipse cx="592" cy="703" rx="2.5" ry="6" fill="#c8c0cc"/><ellipse cx="680" cy="996" rx="2.7" ry="6" fill="#bfc4cc"/><ellipse cx="666" cy="660" rx="2.5" ry="9" fill="#d6c6c0"/><ellipse cx="556" cy="744" rx="1.5" ry="5" fill="#bfc4cc"/><ellipse cx="693" cy="914" rx="2.4" ry="12" fill="#bfc4cc"/><ellipse cx="680" cy="820" rx="3.0" ry="7" fill="#c8c0cc"/><ellipse cx="599" cy="785" rx="3.6" ry="10" fill="#d6c6c0"/><ellipse cx="573" cy="749" rx="3.0" ry="6" fill="#c8c0cc"/><ellipse cx="637" cy="977" rx="2.1" ry="6" fill="#c8c0cc"/><ellipse cx="641" cy="886" rx="3.6" ry="5" fill="#bfc4cc"/><ellipse cx="576" cy="921" rx="2.1" ry="8" fill="#e0cfc4"/><ellipse cx="589" cy="753" rx="3.0" ry="10" fill="#d6c6c0"/><ellipse cx="655" cy="881" rx="2.9" ry="12" fill="#bfc4cc"/><ellipse cx="552" cy="1007" rx="2.9" ry="9" fill="#c8c0cc"/><ellipse cx="598" cy="882" rx="3.6" ry="11" fill="#bfc4cc"/><ellipse cx="602" cy="864" rx="2.6" ry="8" fill="#d6c6c0"/><ellipse cx="566" cy="712" rx="3.8" ry="5" fill="#c8c0cc"/><ellipse cx="581" cy="842" rx="2.2" ry="11" fill="#d6c6c0"/><ellipse cx="649" cy="740" rx="3.2" ry="9" fill="#bfc4cc"/><ellipse cx="585" cy="648" rx="3.5" ry="7" fill="#bfc4cc"/><ellipse cx="560" cy="939" rx="2.7" ry="5" fill="#e0cfc4"/><ellipse cx="662" cy="887" rx="3.8" ry="4" fill="#e0cfc4"/><ellipse cx="612" cy="1006" rx="2.0" ry="10" fill="#c8c0cc"/><ellipse cx="628" cy="736" rx="2.4" ry="9" fill="#d6c6c0"/><ellipse cx="654" cy="867" rx="3.3" ry="10" fill="#e0cfc4"/><ellipse cx="586" cy="901" rx="2.2" ry="12" fill="#c8c0cc"/><ellipse cx="624" cy="794" rx="3.4" ry="8" fill="#d6c6c0"/><ellipse cx="619" cy="988" rx="4.0" ry="7" fill="#d6c6c0"/><ellipse cx="698" cy="904" rx="1.8" ry="8" fill="#c8c0cc"/><ellipse cx="651" cy="813" rx="3.6" ry="5" fill="#c8c0cc"/><ellipse cx="645" cy="820" rx="3.9" ry="10" fill="#d6c6c0"/><ellipse cx="560" cy="947" rx="2.6" ry="5" fill="#e0cfc4"/><ellipse cx="553" cy="684" rx="2.8" ry="9" fill="#e0cfc4"/><ellipse cx="684" cy="876" rx="3.9" ry="8" fill="#d6c6c0"/><ellipse cx="652" cy="823" rx="1.6" ry="12" fill="#bfc4cc"/><ellipse cx="627" cy="758" rx="2.0" ry="8" fill="#c8c0cc"/><ellipse cx="701" cy="734" rx="3.5" ry="6" fill="#d6c6c0"/><ellipse cx="638" cy="887" rx="2.1" ry="7" fill="#e0cfc4"/><ellipse cx="618" cy="720" rx="1.8" ry="5" fill="#bfc4cc"/><ellipse cx="669" cy="756" rx="3.4" ry="12" fill="#bfc4cc"/><ellipse cx="637" cy="679" rx="1.8" ry="8" fill="#bfc4cc"/><ellipse cx="572" cy="740" rx="1.8" ry="6" fill="#c8c0cc"/><ellipse cx="694" cy="694" rx="2.3" ry="12" fill="#d6c6c0"/><ellipse cx="689" cy="656" rx="2.5" ry="5" fill="#e0cfc4"/><ellipse cx="631" cy="949" rx="3.3" ry="10" fill="#e0cfc4"/><ellipse cx="598" cy="642" rx="1.8" ry="10" fill="#e0cfc4"/><ellipse cx="606" cy="872" rx="2.2" ry="7" fill="#bfc4cc"/><ellipse cx="551" cy="997" rx="2.3" ry="12" fill="#e0cfc4"/><ellipse cx="598" cy="816" rx="2.1" ry="7" fill="#c8c0cc"/><ellipse cx="587" cy="679" rx="2.8" ry="9" fill="#e0cfc4"/><ellipse cx="631" cy="889" rx="2.0" ry="10" fill="#bfc4cc"/><ellipse cx="646" cy="649" rx="1.5" ry="9" fill="#e0cfc4"/><ellipse cx="586" cy="765" rx="3.8" ry="6" fill="#bfc4cc"/><ellipse cx="626" cy="724" rx="1.7" ry="5" fill="#bfc4cc"/><ellipse cx="640" cy="969" rx="4.0" ry="7" fill="#bfc4cc"/><ellipse cx="623" cy="888" rx="3.2" ry="4" fill="#c8c0cc"/><ellipse cx="680" cy="798" rx="2.0" ry="6" fill="#d6c6c0"/><ellipse cx="146" cy="589" rx="2.1" ry="12" fill="#d6c6c0"/><ellipse cx="160" cy="857" rx="2.6" ry="5" fill="#d6c6c0"/><ellipse cx="101" cy="677" rx="2.2" ry="12" fill="#e0cfc4"/><ellipse cx="192" cy="666" rx="1.7" ry="6" fill="#d6c6c0"/><ellipse cx="190" cy="764" rx="3.4" ry="7" fill="#c8c0cc"/><ellipse cx="183" cy="803" rx="2.8" ry="7" fill="#e0cfc4"/><ellipse cx="134" cy="649" rx="3.0" ry="10" fill="#d6c6c0"/><ellipse cx="91" cy="846" rx="1.7" ry="6" fill="#c8c0cc"/><ellipse cx="172" cy="789" rx="3.2" ry="5" fill="#e0cfc4"/><ellipse cx="129" cy="865" rx="1.8" ry="4" fill="#e0cfc4"/><ellipse cx="194" cy="852" rx="1.9" ry="7" fill="#bfc4cc"/><ellipse cx="123" cy="818" rx="1.9" ry="11" fill="#bfc4cc"/><ellipse cx="93" cy="845" rx="2.3" ry="5" fill="#e0cfc4"/><ellipse cx="196" cy="717" rx="2.3" ry="9" fill="#c8c0cc"/><ellipse cx="143" cy="719" rx="2.7" ry="12" fill="#d6c6c0"/><ellipse cx="177" cy="700" rx="3.5" ry="10" fill="#c8c0cc"/><ellipse cx="135" cy="627" rx="2.8" ry="10" fill="#d6c6c0"/><ellipse cx="166" cy="740" rx="3.6" ry="11" fill="#c8c0cc"/><ellipse cx="194" cy="736" rx="3.3" ry="6" fill="#c8c0cc"/><ellipse cx="109" cy="863" rx="2.2" ry="11" fill="#bfc4cc"/><ellipse cx="168" cy="751" rx="3.0" ry="8" fill="#d6c6c0"/><ellipse cx="133" cy="865" rx="2.3" ry="6" fill="#e0cfc4"/><ellipse cx="198" cy="668" rx="2.7" ry="8" fill="#e0cfc4"/><ellipse cx="117" cy="764" rx="3.5" ry="5" fill="#c8c0cc"/><ellipse cx="134" cy="601" rx="3.6" ry="12" fill="#c8c0cc"/><ellipse cx="135" cy="717" rx="3.0" ry="7" fill="#e0cfc4"/><ellipse cx="117" cy="764" rx="3.0" ry="9" fill="#d6c6c0"/><ellipse cx="103" cy="604" rx="2.4" ry="5" fill="#c8c0cc"/><ellipse cx="172" cy="811" rx="2.5" ry="5" fill="#c8c0cc"/><ellipse cx="112" cy="795" rx="3.2" ry="6" fill="#e0cfc4"/><ellipse cx="154" cy="571" rx="3.0" ry="12" fill="#d6c6c0"/><ellipse cx="170" cy="638" rx="2.8" ry="8" fill="#e0cfc4"/><ellipse cx="104" cy="602" rx="3.0" ry="11" fill="#e0cfc4"/><ellipse cx="144" cy="749" rx="3.1" ry="7" fill="#d6c6c0"/><ellipse cx="164" cy="649" rx="3.4" ry="7" fill="#e0cfc4"/><ellipse cx="154" cy="863" rx="3.1" ry="8" fill="#e0cfc4"/><ellipse cx="125" cy="812" rx="2.7" ry="12" fill="#bfc4cc"/><ellipse cx="101" cy="855" rx="3.9" ry="10" fill="#c8c0cc"/><ellipse cx="90" cy="774" rx="3.8" ry="7" fill="#e0cfc4"/><ellipse cx="160" cy="767" rx="2.3" ry="7" fill="#c8c0cc"/><ellipse cx="165" cy="607" rx="3.2" ry="8" fill="#c8c0cc"/><ellipse cx="188" cy="592" rx="2.6" ry="11" fill="#e0cfc4"/><ellipse cx="155" cy="683" rx="4.0" ry="6" fill="#d6c6c0"/><ellipse cx="187" cy="838" rx="2.2" ry="10" fill="#bfc4cc"/><ellipse cx="154" cy="838" rx="3.7" ry="7" fill="#d6c6c0"/><ellipse cx="155" cy="608" rx="2.0" ry="9" fill="#c8c0cc"/><ellipse cx="88" cy="584" rx="3.5" ry="8" fill="#bfc4cc"/><ellipse cx="139" cy="716" rx="3.2" ry="7" fill="#c8c0cc"/><ellipse cx="147" cy="742" rx="3.1" ry="9" fill="#c8c0cc"/><ellipse cx="99" cy="814" rx="2.7" ry="11" fill="#c8c0cc"/><ellipse cx="148" cy="821" rx="3.0" ry="11" fill="#d6c6c0"/><ellipse cx="130" cy="778" rx="1.6" ry="5" fill="#c8c0cc"/><ellipse cx="124" cy="628" rx="2.4" ry="11" fill="#d6c6c0"/><ellipse cx="112" cy="707" rx="3.9" ry="5" fill="#d6c6c0"/><ellipse cx="170" cy="628" rx="3.1" ry="4" fill="#e0cfc4"/><ellipse cx="192" cy="830" rx="2.0" ry="6" fill="#e0cfc4"/><ellipse cx="136" cy="731" rx="1.9" ry="11" fill="#d6c6c0"/><ellipse cx="126" cy="648" rx="3.2" ry="6" fill="#c8c0cc"/><ellipse cx="161" cy="630" rx="2.0" ry="7" fill="#bfc4cc"/><ellipse cx="116" cy="619" rx="1.6" ry="12" fill="#bfc4cc"/><ellipse cx="150" cy="850" rx="3.5" ry="12" fill="#bfc4cc"/><ellipse cx="197" cy="839" rx="2.8" ry="6" fill="#c8c0cc"/><ellipse cx="118" cy="799" rx="3.9" ry="11" fill="#e0cfc4"/><ellipse cx="192" cy="637" rx="3.5" ry="6" fill="#e0cfc4"/><ellipse cx="106" cy="622" rx="3.1" ry="6" fill="#bfc4cc"/><ellipse cx="194" cy="765" rx="2.2" ry="7" fill="#c8c0cc"/><ellipse cx="153" cy="680" rx="3.3" ry="10" fill="#c8c0cc"/><ellipse cx="124" cy="741" rx="4.0" ry="10" fill="#c8c0cc"/><ellipse cx="144" cy="706" rx="3.0" ry="6" fill="#c8c0cc"/><ellipse cx="143" cy="767" rx="4.0" ry="12" fill="#d6c6c0"/><ellipse cx="93" cy="851" rx="2.4" ry="7" fill="#c8c0cc"/><ellipse cx="200" cy="679" rx="1.8" ry="6" fill="#d6c6c0"/><ellipse cx="104" cy="608" rx="2.0" ry="5" fill="#c8c0cc"/><ellipse cx="103" cy="753" rx="3.3" ry="10" fill="#bfc4cc"/><ellipse cx="135" cy="649" rx="2.2" ry="12" fill="#e0cfc4"/><ellipse cx="115" cy="701" rx="1.8" ry="12" fill="#c8c0cc"/><ellipse cx="182" cy="679" rx="2.2" ry="5" fill="#d6c6c0"/><ellipse cx="181" cy="674" rx="3.0" ry="6" fill="#e0cfc4"/><ellipse cx="145" cy="672" rx="3.2" ry="11" fill="#d6c6c0"/><ellipse cx="159" cy="773" rx="1.8" ry="11" fill="#e0cfc4"/><ellipse cx="91" cy="657" rx="2.8" ry="4" fill="#e0cfc4"/><ellipse cx="95" cy="717" rx="2.3" ry="6" fill="#bfc4cc"/><ellipse cx="150" cy="757" rx="1.9" ry="5" fill="#bfc4cc"/><ellipse cx="127" cy="799" rx="3.7" ry="5" fill="#bfc4cc"/><ellipse cx="117" cy="831" rx="2.0" ry="11" fill="#d6c6c0"/><ellipse cx="108" cy="778" rx="2.7" ry="8" fill="#e0cfc4"/><ellipse cx="108" cy="641" rx="3.7" ry="5" fill="#c8c0cc"/><ellipse cx="154" cy="803" rx="3.4" ry="12" fill="#c8c0cc"/><ellipse cx="167" cy="631" rx="3.1" ry="12" fill="#e0cfc4"/><ellipse cx="175" cy="752" rx="1.8" ry="8" fill="#c8c0cc"/></g><path d="M159.0 565.0 C157.1 566.9 150.7 572.8 147.8 576.7 C145.0 580.6 144.7 584.4 142.1 588.3 C139.5 592.2 135.9 592.1 132.3 600.0 C128.7 607.9 123.8 623.8 120.4 635.7 C117.1 647.6 115.3 659.4 112.3 671.3 C109.4 683.2 104.4 697.1 102.7 707.0 C101.1 716.9 102.6 723.0 102.4 731.0 C102.3 739.0 102.7 747.0 101.8 755.0 C100.9 763.0 97.2 771.1 97.0 779.0 C96.7 786.9 98.5 794.8 100.3 802.7 C102.1 810.6 106.5 818.4 108.0 826.3 C109.6 834.2 108.7 845.2 109.7 850.0 C110.6 854.8 113.2 853.6 113.6 855.3 C114.1 857.1 111.6 858.9 112.2 860.7 C112.7 862.4 116.2 865.1 117.0 866.0" stroke="#d8bc60" stroke-width="3" fill="none"/><path d="M109.0 866.0 C109.6 864.7 111.8 860.9 112.6 858.3 C113.4 855.8 114.2 853.2 113.9 850.7 C113.6 848.1 111.1 845.9 110.8 843.0 C110.5 840.1 111.2 836.6 112.3 833.3 C113.4 830.1 116.4 826.9 117.3 823.7 C118.3 820.4 117.5 818.6 118.2 814.0 C118.8 809.4 120.4 802.2 121.2 796.3 C121.9 790.4 121.6 784.6 122.7 778.7 C123.8 772.8 126.3 767.9 127.5 761.0 C128.8 754.1 129.3 745.0 130.2 737.0 C131.1 729.0 132.2 721.0 132.7 713.0 C133.3 705.0 131.4 696.9 133.3 689.0 C135.2 681.1 140.7 673.2 144.0 665.3 C147.3 657.4 149.8 649.6 153.1 641.7 C156.5 633.8 160.5 623.5 164.1 618.0 C167.7 612.5 171.5 611.8 174.8 608.7 C178.1 605.6 181.2 602.4 183.9 599.3 C186.6 596.2 189.8 591.6 191.0 590.0" stroke="#d8bc60" stroke-width="3" fill="none"/><path d="M168.0 565.0 C166.1 566.9 159.6 572.8 156.6 576.7 C153.5 580.6 152.6 584.4 149.7 588.3 C146.8 592.2 142.0 592.1 139.0 600.0 C135.9 607.9 134.3 623.8 131.5 635.7 C128.7 647.6 126.2 659.4 122.3 671.3 C118.5 683.2 111.1 697.1 108.5 707.0 C105.9 716.9 106.2 723.0 106.8 731.0 C107.4 739.0 112.1 747.0 112.0 755.0 C111.9 763.0 106.5 771.1 106.1 779.0 C105.7 786.9 107.3 794.8 109.5 802.7 C111.7 810.6 117.8 818.4 119.3 826.3 C120.8 834.2 118.0 845.2 118.8 850.0 C119.5 854.8 123.2 853.6 124.0 855.3 C124.8 857.1 123.1 858.9 123.5 860.7 C123.8 862.4 125.6 865.1 126.0 866.0" stroke="#c98a6a" stroke-width="2" fill="none" opacity="0.7"/><path d="M100.0 866.0 C99.9 864.7 99.3 860.9 99.2 858.3 C99.1 855.8 98.8 853.2 99.5 850.7 C100.1 848.1 102.7 845.9 103.2 843.0 C103.7 840.1 102.6 836.6 102.6 833.3 C102.6 830.1 102.4 826.9 103.2 823.7 C104.0 820.4 105.3 818.6 107.2 814.0 C109.1 809.4 113.0 802.2 114.7 796.3 C116.3 790.4 116.2 784.6 117.1 778.7 C118.0 772.8 119.9 767.9 120.1 761.0 C120.3 754.1 117.9 745.0 118.4 737.0 C119.0 729.0 122.7 721.0 123.6 713.0 C124.6 705.0 122.7 696.9 124.2 689.0 C125.7 681.1 129.8 673.2 132.7 665.3 C135.6 657.4 138.3 649.6 141.5 641.7 C144.7 633.8 147.5 623.5 151.7 618.0 C155.9 612.5 162.8 611.8 166.8 608.7 C170.7 605.6 172.8 602.4 175.3 599.3 C177.8 596.2 180.9 591.6 182.0 590.0" stroke="#a89a80" stroke-width="1.6" fill="none" opacity="0.7"/><path d="M150.0 565.0 C148.6 566.9 144.3 572.8 141.4 576.7 C138.5 580.6 135.7 584.4 132.8 588.3 C129.8 592.2 126.7 592.1 123.8 600.0 C120.9 607.9 118.5 623.8 115.3 635.7 C112.2 647.6 107.9 659.4 104.8 671.3 C101.6 683.2 99.0 697.1 96.5 707.0 C94.0 716.9 90.7 723.0 89.8 731.0 C88.9 739.0 90.7 747.0 91.1 755.0 C91.6 763.0 92.1 771.1 92.7 779.0 C93.2 786.9 93.4 794.8 94.6 802.7 C95.7 810.6 99.1 818.4 99.7 826.3 C100.4 834.2 98.1 845.2 98.7 850.0 C99.2 854.8 102.2 853.6 103.1 855.3 C104.1 857.1 103.3 858.9 104.1 860.7 C105.0 862.4 107.4 865.1 108.0 866.0" stroke="#bf5a36" stroke-width="7" fill="none" stroke-linecap="round"/><path d="M118.0 866.0 C118.5 864.7 120.3 860.9 121.1 858.3 C121.9 855.8 122.5 853.2 122.6 850.7 C122.7 848.1 122.0 845.9 121.9 843.0 C121.8 840.1 121.9 836.6 121.9 833.3 C121.9 830.1 120.8 826.9 121.7 823.7 C122.5 820.4 125.7 818.6 127.0 814.0 C128.2 809.4 127.9 802.2 129.2 796.3 C130.4 790.4 133.2 784.6 134.2 778.7 C135.2 772.8 134.2 767.9 135.2 761.0 C136.2 754.1 139.5 745.0 140.3 737.0 C141.1 729.0 139.0 721.0 140.0 713.0 C140.9 705.0 143.4 696.9 145.8 689.0 C148.3 681.1 152.0 673.2 154.7 665.3 C157.4 657.4 159.2 649.6 162.2 641.7 C165.1 633.8 168.9 623.5 172.2 618.0 C175.6 612.5 179.7 611.8 182.4 608.7 C185.2 605.6 185.9 602.4 188.8 599.3 C191.8 596.2 198.1 591.6 200.0 590.0" stroke="#bf5a36" stroke-width="7" fill="none" stroke-linecap="round"/><path d="M152.0 565.0 C150.6 566.9 146.3 572.8 143.4 576.7 C140.5 580.6 137.7 584.4 134.8 588.3 C131.8 592.2 128.7 592.1 125.8 600.0 C122.9 607.9 120.5 623.8 117.3 635.7 C114.2 647.6 109.9 659.4 106.8 671.3 C103.6 683.2 101.0 697.1 98.5 707.0 C96.0 716.9 92.7 723.0 91.8 731.0 C90.9 739.0 92.7 747.0 93.1 755.0 C93.6 763.0 94.1 771.1 94.7 779.0 C95.2 786.9 95.4 794.8 96.6 802.7 C97.7 810.6 101.1 818.4 101.7 826.3 C102.4 834.2 100.1 845.2 100.7 850.0 C101.2 854.8 104.2 853.6 105.1 855.3 C106.1 857.1 105.3 858.9 106.1 860.7 C107.0 862.4 109.4 865.1 110.0 866.0" stroke="#e8975e" stroke-width="2" fill="none" opacity="0.8"/><path d="M255.0 690.0 C255.1 691.9 254.4 697.8 255.3 701.7 C256.2 705.6 260.2 709.4 260.6 713.3 C261.1 717.2 257.9 718.1 258.1 725.0 C258.4 731.9 261.7 744.8 262.0 754.7 C262.3 764.6 260.0 774.4 259.9 784.3 C259.9 794.2 260.4 803.1 261.7 814.0 C263.1 824.9 267.1 837.8 267.8 849.7 C268.6 861.6 265.7 873.4 266.2 885.3 C266.7 897.2 270.5 911.1 270.7 921.0 C270.9 930.9 268.4 937.0 267.5 945.0 C266.5 953.0 265.8 961.0 265.1 969.0 C264.4 977.0 263.2 981.7 263.0 993.0 C262.8 1004.3 262.7 1022.3 263.8 1037.0 C264.9 1051.7 268.3 1066.3 269.3 1081.0 C270.4 1095.7 269.9 1117.7 270.0 1125.0" stroke="#d8bc60" stroke-width="3" fill="none"/><path d="M295.0 1125.0 C295.6 1121.6 297.4 1111.4 298.5 1104.7 C299.6 1097.9 300.7 1091.1 301.7 1084.3 C302.7 1077.6 302.6 1073.3 304.2 1064.0 C305.8 1054.7 310.4 1040.2 311.5 1028.3 C312.6 1016.4 309.9 1004.6 310.9 992.7 C311.8 980.8 315.7 968.9 317.0 957.0 C318.4 945.1 319.3 933.2 319.0 921.3 C318.6 909.4 315.2 897.6 314.9 885.7 C314.6 873.8 316.3 861.5 317.3 850.0 C318.3 838.5 320.2 827.8 320.9 816.7 C321.6 805.6 320.5 794.4 321.4 783.3 C322.3 772.2 325.0 758.9 326.4 750.0 C327.8 741.1 329.3 736.7 330.0 730.0 C330.7 723.3 330.3 716.7 330.8 710.0 C331.3 703.3 332.6 693.3 333.0 690.0" stroke="#d8bc60" stroke-width="3" fill="none"/><path d="M264.0 690.0 C264.4 691.9 265.8 697.8 266.2 701.7 C266.7 705.6 266.2 709.4 266.8 713.3 C267.3 717.2 269.5 718.1 269.6 725.0 C269.8 731.9 267.0 744.8 267.6 754.7 C268.3 764.6 272.3 774.4 273.5 784.3 C274.7 794.2 274.2 803.1 274.6 814.0 C274.9 824.9 275.7 837.8 275.6 849.7 C275.5 861.6 273.3 873.4 273.9 885.3 C274.5 897.2 278.9 911.1 279.2 921.0 C279.4 930.9 276.4 937.0 275.3 945.0 C274.2 953.0 272.3 961.0 272.3 969.0 C272.4 977.0 274.6 981.7 275.6 993.0 C276.6 1004.3 278.7 1022.3 278.3 1037.0 C277.9 1051.7 272.9 1066.3 273.0 1081.0 C273.1 1095.7 278.0 1117.7 279.0 1125.0" stroke="#c98a6a" stroke-width="2" fill="none" opacity="0.7"/><path d="M286.0 1125.0 C286.5 1121.6 288.0 1111.4 289.3 1104.7 C290.6 1097.9 292.0 1091.1 293.8 1084.3 C295.7 1077.6 299.3 1073.3 300.4 1064.0 C301.5 1054.7 299.7 1040.2 300.4 1028.3 C301.1 1016.4 303.0 1004.6 304.4 992.7 C305.8 980.8 308.5 968.9 308.7 957.0 C308.9 945.1 305.6 933.2 305.5 921.3 C305.4 909.4 307.5 897.6 308.1 885.7 C308.7 873.8 308.1 861.5 309.0 850.0 C310.0 838.5 313.3 827.8 313.7 816.7 C314.1 805.6 311.0 794.4 311.4 783.3 C311.9 772.2 315.5 758.9 316.4 750.0 C317.3 741.1 315.4 736.7 316.7 730.0 C318.1 723.3 323.3 716.7 324.5 710.0 C325.7 703.3 324.1 693.3 324.0 690.0" stroke="#a89a80" stroke-width="1.6" fill="none" opacity="0.7"/><path d="M246.0 690.0 C246.3 691.9 246.8 697.8 247.5 701.7 C248.2 705.6 249.5 709.4 250.3 713.3 C251.0 717.2 252.1 718.1 252.0 725.0 C251.9 731.9 250.2 744.8 249.9 754.7 C249.5 764.6 249.5 774.4 250.1 784.3 C250.6 794.2 252.4 803.1 253.2 814.0 C254.1 824.9 253.8 837.8 255.0 849.7 C256.2 861.6 259.3 873.4 260.5 885.3 C261.7 897.2 262.4 911.1 262.1 921.0 C261.9 930.9 260.2 937.0 259.3 945.0 C258.4 953.0 257.4 961.0 256.7 969.0 C256.0 977.0 255.4 981.7 255.0 993.0 C254.6 1004.3 253.6 1022.3 254.2 1037.0 C254.8 1051.7 257.2 1066.3 258.3 1081.0 C259.4 1095.7 260.6 1117.7 261.0 1125.0" stroke="#bf5a36" stroke-width="7" fill="none" stroke-linecap="round"/><path d="M304.0 1125.0 C304.4 1121.6 304.8 1111.4 306.2 1104.7 C307.6 1097.9 310.8 1091.1 312.4 1084.3 C314.1 1077.6 314.7 1073.3 316.1 1064.0 C317.5 1054.7 320.0 1040.2 320.8 1028.3 C321.5 1016.4 319.8 1004.6 320.4 992.7 C321.1 980.8 323.8 968.9 324.4 957.0 C325.0 945.1 323.9 933.2 323.9 921.3 C323.9 909.4 323.8 897.6 324.4 885.7 C324.9 873.8 326.9 861.5 327.4 850.0 C327.9 838.5 326.2 827.8 327.1 816.7 C328.0 805.6 331.7 794.4 332.9 783.3 C334.0 772.2 333.6 758.9 334.3 750.0 C334.9 741.1 335.9 736.7 336.8 730.0 C337.7 723.3 338.7 716.7 339.6 710.0 C340.5 703.3 341.6 693.3 342.0 690.0" stroke="#bf5a36" stroke-width="7" fill="none" stroke-linecap="round"/><path d="M248.0 690.0 C248.3 691.9 248.8 697.8 249.5 701.7 C250.2 705.6 251.5 709.4 252.3 713.3 C253.0 717.2 254.1 718.1 254.0 725.0 C253.9 731.9 252.2 744.8 251.9 754.7 C251.5 764.6 251.5 774.4 252.1 784.3 C252.6 794.2 254.4 803.1 255.2 814.0 C256.1 824.9 255.8 837.8 257.0 849.7 C258.2 861.6 261.3 873.4 262.5 885.3 C263.7 897.2 264.4 911.1 264.1 921.0 C263.9 930.9 262.2 937.0 261.3 945.0 C260.4 953.0 259.4 961.0 258.7 969.0 C258.0 977.0 257.4 981.7 257.0 993.0 C256.6 1004.3 255.6 1022.3 256.2 1037.0 C256.8 1051.7 259.2 1066.3 260.3 1081.0 C261.4 1095.7 262.6 1117.7 263.0 1125.0" stroke="#e8975e" stroke-width="2" fill="none" opacity="0.8"/><path d="M361.0 700.0 C361.6 703.4 364.6 713.6 364.7 720.3 C364.7 727.1 361.0 733.9 361.2 740.7 C361.5 747.4 364.6 753.7 366.2 761.0 C367.8 768.3 368.2 776.8 371.0 784.7 C373.7 792.6 380.3 800.4 382.8 808.3 C385.2 816.2 383.4 823.1 385.6 832.0 C387.8 840.9 393.3 851.8 395.9 861.7 C398.5 871.6 398.9 881.4 400.9 891.3 C402.9 901.2 405.9 910.1 407.8 921.0 C409.7 931.9 411.5 945.0 412.2 957.0 C412.9 969.0 411.4 981.0 412.0 993.0 C412.7 1005.0 414.6 1017.7 416.2 1029.0 C417.8 1040.3 420.5 1050.3 421.7 1061.0 C422.9 1071.7 422.2 1082.3 423.2 1093.0 C424.3 1103.7 427.2 1119.7 428.0 1125.0" stroke="#d8bc60" stroke-width="3" fill="none"/><path d="M456.0 1125.0 C455.7 1115.7 454.4 1087.7 454.0 1069.0 C453.5 1050.3 453.6 1031.7 453.2 1013.0 C452.8 994.3 452.6 974.3 451.6 957.0 C450.6 939.7 448.6 925.2 447.1 909.3 C445.5 893.4 443.6 877.6 442.2 861.7 C440.8 845.8 439.9 828.9 438.8 814.0 C437.7 799.1 436.1 786.2 435.8 772.3 C435.4 758.4 436.8 744.6 436.7 730.7 C436.5 716.8 435.3 695.9 435.0 689.0" stroke="#d8bc60" stroke-width="3" fill="none"/><path d="M370.0 700.0 C370.3 703.4 370.7 713.6 371.5 720.3 C372.4 727.1 374.1 733.9 375.1 740.7 C376.1 747.4 376.9 753.7 377.7 761.0 C378.5 768.3 377.7 776.8 380.0 784.7 C382.3 792.6 388.4 800.4 391.5 808.3 C394.6 816.2 396.5 823.1 398.6 832.0 C400.8 840.9 403.1 851.8 404.3 861.7 C405.5 871.6 404.7 881.4 405.9 891.3 C407.0 901.2 409.2 910.1 411.2 921.0 C413.2 931.9 415.6 945.0 417.7 957.0 C419.9 969.0 423.3 981.0 424.3 993.0 C425.4 1005.0 423.1 1017.7 424.0 1029.0 C424.9 1040.3 428.4 1050.3 429.7 1061.0 C431.0 1071.7 430.7 1082.3 431.9 1093.0 C433.1 1103.7 436.1 1119.7 437.0 1125.0" stroke="#c98a6a" stroke-width="2" fill="none" opacity="0.7"/><path d="M447.0 1125.0 C446.4 1115.7 443.3 1087.7 443.1 1069.0 C442.9 1050.3 445.9 1031.7 445.6 1013.0 C445.4 994.3 443.3 974.3 441.7 957.0 C440.1 939.7 437.3 925.2 435.9 909.3 C434.6 893.4 434.7 877.6 433.6 861.7 C432.4 845.8 429.9 828.9 429.0 814.0 C428.0 799.1 428.2 786.2 427.8 772.3 C427.5 758.4 427.0 744.6 426.7 730.7 C426.4 716.8 426.1 695.9 426.0 689.0" stroke="#a89a80" stroke-width="1.6" fill="none" opacity="0.7"/><path d="M352.0 700.0 C352.4 703.4 353.7 713.6 354.4 720.3 C355.1 727.1 356.1 733.9 356.4 740.7 C356.7 747.4 354.9 753.7 356.1 761.0 C357.3 768.3 361.3 776.8 363.7 784.7 C366.2 792.6 367.7 800.4 370.7 808.3 C373.7 816.2 379.8 823.1 382.0 832.0 C384.2 840.9 382.6 851.8 383.7 861.7 C384.9 871.6 386.9 881.4 388.9 891.3 C390.9 901.2 393.8 910.1 395.6 921.0 C397.3 931.9 397.9 945.0 399.2 957.0 C400.5 969.0 402.1 981.0 403.3 993.0 C404.5 1005.0 405.6 1017.7 406.6 1029.0 C407.6 1040.3 408.0 1050.3 409.3 1061.0 C410.6 1071.7 412.7 1082.3 414.3 1093.0 C415.9 1103.7 418.2 1119.7 419.0 1125.0" stroke="#bf5a36" stroke-width="7" fill="none" stroke-linecap="round"/><path d="M465.0 1125.0 C465.2 1115.7 466.4 1087.7 466.1 1069.0 C465.8 1050.3 464.0 1031.7 463.5 1013.0 C462.9 994.3 463.4 974.3 462.6 957.0 C461.8 939.7 460.8 925.2 458.8 909.3 C456.7 893.4 452.1 877.6 450.2 861.7 C448.4 845.8 448.1 828.9 447.8 814.0 C447.5 799.1 448.5 786.2 448.4 772.3 C448.3 758.4 448.0 744.6 447.2 730.7 C446.5 716.8 444.5 695.9 444.0 689.0" stroke="#bf5a36" stroke-width="7" fill="none" stroke-linecap="round"/><path d="M354.0 700.0 C354.4 703.4 355.7 713.6 356.4 720.3 C357.1 727.1 358.1 733.9 358.4 740.7 C358.7 747.4 356.9 753.7 358.1 761.0 C359.3 768.3 363.3 776.8 365.7 784.7 C368.2 792.6 369.7 800.4 372.7 808.3 C375.7 816.2 381.8 823.1 384.0 832.0 C386.2 840.9 384.6 851.8 385.7 861.7 C386.9 871.6 388.9 881.4 390.9 891.3 C392.9 901.2 395.8 910.1 397.6 921.0 C399.3 931.9 399.9 945.0 401.2 957.0 C402.5 969.0 404.1 981.0 405.3 993.0 C406.5 1005.0 407.6 1017.7 408.6 1029.0 C409.6 1040.3 410.0 1050.3 411.3 1061.0 C412.6 1071.7 414.7 1082.3 416.3 1093.0 C417.9 1103.7 420.2 1119.7 421.0 1125.0" stroke="#e8975e" stroke-width="2" fill="none" opacity="0.8"/><path d="M465.0 690.0 C465.7 691.9 468.7 697.8 469.0 701.7 C469.2 705.6 466.8 709.4 466.5 713.3 C466.3 717.2 465.0 718.1 467.6 725.0 C470.2 731.9 478.8 744.8 482.2 754.7 C485.5 764.6 485.3 774.4 487.8 784.3 C490.2 794.2 494.1 805.1 497.1 814.0 C500.1 822.9 503.6 830.0 505.8 838.0 C507.9 846.0 508.0 854.0 510.2 862.0 C512.4 870.0 517.2 876.1 518.9 886.0 C520.7 895.9 519.2 909.8 521.0 921.7 C522.8 933.6 528.1 945.4 530.0 957.3 C531.8 969.2 530.7 979.7 532.1 993.0 C533.5 1006.3 536.1 1022.3 538.2 1037.0 C540.2 1051.7 543.0 1066.3 544.5 1081.0 C546.0 1095.7 546.6 1117.7 547.0 1125.0" stroke="#d8bc60" stroke-width="3" fill="none"/><path d="M576.0 1125.0 C576.0 1115.7 576.2 1087.7 575.8 1069.0 C575.4 1050.3 574.4 1031.7 573.6 1013.0 C572.8 994.3 573.1 972.3 571.0 957.0 C568.9 941.7 563.2 933.2 560.9 921.3 C558.7 909.4 559.2 897.6 557.5 885.7 C555.7 873.8 552.0 864.9 550.6 850.0 C549.2 835.1 550.1 814.2 549.2 796.3 C548.2 778.4 545.8 760.6 545.2 742.7 C544.5 724.8 545.0 697.9 545.0 689.0" stroke="#d8bc60" stroke-width="3" fill="none"/><path d="M474.0 690.0 C474.6 691.9 476.4 697.8 477.4 701.7 C478.4 705.6 480.2 709.4 480.1 713.3 C479.9 717.2 474.4 718.1 476.5 725.0 C478.6 731.9 489.4 744.8 492.7 754.7 C495.9 764.6 493.1 774.4 495.9 784.3 C498.7 794.2 506.9 805.1 509.4 814.0 C511.8 822.9 508.6 830.0 510.7 838.0 C512.9 846.0 520.0 854.0 522.1 862.0 C524.1 870.0 521.4 876.1 523.2 886.0 C525.0 895.9 530.4 909.8 533.0 921.7 C535.5 933.6 536.6 945.4 538.5 957.3 C540.3 969.2 542.8 979.7 544.1 993.0 C545.4 1006.3 544.5 1022.3 546.2 1037.0 C547.9 1051.7 552.6 1066.3 554.3 1081.0 C555.9 1095.7 555.7 1117.7 556.0 1125.0" stroke="#c98a6a" stroke-width="2" fill="none" opacity="0.7"/><path d="M567.0 1125.0 C566.4 1115.7 563.9 1087.7 563.7 1069.0 C563.5 1050.3 565.9 1031.7 565.7 1013.0 C565.6 994.3 565.1 972.3 562.7 957.0 C560.4 941.7 553.7 933.2 551.7 921.3 C549.8 909.4 552.4 897.6 551.0 885.7 C549.5 873.8 545.5 864.9 543.1 850.0 C540.7 835.1 536.6 814.2 536.3 796.3 C536.1 778.4 541.7 760.6 541.6 742.7 C541.6 724.8 536.9 697.9 536.0 689.0" stroke="#a89a80" stroke-width="1.6" fill="none" opacity="0.7"/><path d="M456.0 690.0 C456.5 691.9 458.9 697.8 459.2 701.7 C459.4 705.6 457.5 709.4 457.5 713.3 C457.6 717.2 456.9 718.1 459.2 725.0 C461.5 731.9 468.2 744.8 471.3 754.7 C474.3 764.6 474.3 774.4 477.7 784.3 C481.1 794.2 488.3 805.1 491.7 814.0 C495.0 822.9 496.3 830.0 497.6 838.0 C498.9 846.0 497.3 854.0 499.3 862.0 C501.2 870.0 506.8 876.1 509.1 886.0 C511.5 895.9 511.6 909.8 513.3 921.7 C515.1 933.6 517.3 945.4 519.5 957.3 C521.7 969.2 524.7 979.7 526.7 993.0 C528.7 1006.3 530.6 1022.3 531.6 1037.0 C532.6 1051.7 531.7 1066.3 532.8 1081.0 C533.9 1095.7 537.1 1117.7 538.0 1125.0" stroke="#bf5a36" stroke-width="7" fill="none" stroke-linecap="round"/><path d="M585.0 1125.0 C584.8 1115.7 584.1 1087.7 583.6 1069.0 C583.0 1050.3 582.0 1031.7 581.5 1013.0 C581.1 994.3 582.6 972.3 580.7 957.0 C578.8 941.7 573.1 933.2 570.2 921.3 C567.3 909.4 564.8 897.6 563.4 885.7 C562.0 873.8 563.0 864.9 561.9 850.0 C560.9 835.1 558.1 814.2 557.0 796.3 C555.9 778.4 555.7 760.6 555.2 742.7 C554.7 724.8 554.2 697.9 554.0 689.0" stroke="#bf5a36" stroke-width="7" fill="none" stroke-linecap="round"/><path d="M458.0 690.0 C458.5 691.9 460.9 697.8 461.2 701.7 C461.4 705.6 459.5 709.4 459.5 713.3 C459.6 717.2 458.9 718.1 461.2 725.0 C463.5 731.9 470.2 744.8 473.3 754.7 C476.3 764.6 476.3 774.4 479.7 784.3 C483.1 794.2 490.3 805.1 493.7 814.0 C497.0 822.9 498.3 830.0 499.6 838.0 C500.9 846.0 499.3 854.0 501.3 862.0 C503.2 870.0 508.8 876.1 511.1 886.0 C513.5 895.9 513.6 909.8 515.3 921.7 C517.1 933.6 519.3 945.4 521.5 957.3 C523.7 969.2 526.7 979.7 528.7 993.0 C530.7 1006.3 532.6 1022.3 533.6 1037.0 C534.6 1051.7 533.7 1066.3 534.8 1081.0 C535.9 1095.7 539.1 1117.7 540.0 1125.0" stroke="#e8975e" stroke-width="2" fill="none" opacity="0.8"/><path d="M557.0 640.0 C557.2 640.8 558.0 643.1 558.2 644.7 C558.4 646.2 557.6 647.8 558.2 649.3 C558.8 650.9 558.8 647.3 561.7 654.0 C564.6 660.7 570.3 677.8 575.6 689.7 C580.9 701.6 587.8 713.4 593.4 725.3 C599.0 737.2 605.1 750.1 609.2 761.0 C613.3 771.9 614.6 780.8 617.9 790.7 C621.2 800.6 626.5 810.4 629.0 820.3 C631.6 830.2 629.9 839.1 633.0 850.0 C636.1 860.9 643.3 873.8 647.7 885.7 C652.2 897.6 655.4 909.4 659.6 921.3 C663.9 933.2 669.4 948.4 673.2 957.0 C677.1 965.6 680.5 967.4 682.5 972.7 C684.5 977.9 683.5 983.1 685.1 988.3 C686.8 993.6 691.1 1001.2 692.5 1004.0 C694.0 1006.8 693.1 1004.9 693.9 1005.3 C694.8 1005.8 697.0 1006.2 697.8 1006.7 C698.7 1007.1 698.8 1007.8 699.0 1008.0" stroke="#d8bc60" stroke-width="3" fill="none"/><path d="M695.0 989.0 C694.9 985.2 694.7 973.9 694.2 966.3 C693.7 958.8 692.7 951.2 691.9 943.7 C691.2 936.1 691.1 930.7 689.7 921.0 C688.2 911.3 686.2 897.2 683.1 885.3 C680.0 873.4 674.8 861.6 671.2 849.7 C667.7 837.8 664.2 824.9 661.8 814.0 C659.3 803.1 658.2 794.2 656.5 784.3 C654.8 774.4 653.2 764.6 651.7 754.7 C650.2 744.8 651.8 734.9 647.4 725.0 C643.1 715.1 632.1 705.2 625.8 695.3 C619.5 685.4 615.8 675.6 609.5 665.7 C603.2 655.8 591.6 640.9 588.0 636.0" stroke="#d8bc60" stroke-width="3" fill="none"/><path d="M566.0 640.0 C565.5 640.8 563.3 643.1 563.1 644.7 C562.9 646.2 564.1 647.8 564.9 649.3 C565.7 650.9 564.4 647.3 568.1 654.0 C571.8 660.7 581.9 677.8 587.1 689.7 C592.4 701.6 594.6 713.4 599.4 725.3 C604.2 737.2 611.6 750.1 615.9 761.0 C620.2 771.9 621.5 780.8 625.2 790.7 C628.8 800.6 635.1 810.4 637.7 820.3 C640.4 830.2 637.6 839.1 641.2 850.0 C644.7 860.9 653.9 873.8 658.9 885.7 C663.9 897.6 667.8 909.4 671.3 921.3 C674.8 933.2 677.1 948.4 680.1 957.0 C683.1 965.6 686.9 967.4 689.3 972.7 C691.7 977.9 692.7 983.1 694.6 988.3 C696.4 993.6 698.2 1001.2 700.3 1004.0 C702.4 1006.8 707.0 1004.9 707.3 1005.3 C707.7 1005.8 702.3 1006.2 702.4 1006.7 C702.5 1007.1 707.1 1007.8 708.0 1008.0" stroke="#c98a6a" stroke-width="2" fill="none" opacity="0.7"/><path d="M686.0 989.0 C685.3 985.2 682.3 973.9 681.6 966.3 C680.9 958.8 681.7 951.2 681.7 943.7 C681.7 936.1 682.3 930.7 681.4 921.0 C680.6 911.3 679.5 897.2 676.5 885.3 C673.6 873.4 667.1 861.6 663.6 849.7 C660.2 837.8 658.9 824.9 655.8 814.0 C652.6 803.1 647.1 794.2 644.8 784.3 C642.5 774.4 643.1 764.6 642.1 754.7 C641.1 744.8 642.9 734.9 638.7 725.0 C634.6 715.1 623.4 705.2 617.2 695.3 C611.0 685.4 607.9 675.6 601.6 665.7 C595.2 655.8 582.8 640.9 579.0 636.0" stroke="#a89a80" stroke-width="1.6" fill="none" opacity="0.7"/><path d="M548.0 640.0 C548.2 640.8 549.0 643.1 549.4 644.7 C549.9 646.2 550.2 647.8 550.8 649.3 C551.4 650.9 550.3 647.3 552.9 654.0 C555.5 660.7 560.9 677.8 566.3 689.7 C571.7 701.6 579.1 713.4 585.2 725.3 C591.4 737.2 598.9 750.1 603.3 761.0 C607.8 771.9 609.7 780.8 611.8 790.7 C613.9 800.6 613.3 810.4 615.8 820.3 C618.3 830.2 622.9 839.1 626.9 850.0 C630.9 860.9 635.5 873.8 639.7 885.7 C643.9 897.6 647.3 909.4 652.0 921.3 C656.7 933.2 664.6 948.4 667.8 957.0 C671.0 965.6 669.7 967.4 671.2 972.7 C672.6 977.9 674.3 983.1 676.7 988.3 C679.1 993.6 684.1 1001.2 685.7 1004.0 C687.2 1006.8 686.0 1004.9 686.1 1005.3 C686.3 1005.8 685.8 1006.2 686.5 1006.7 C687.1 1007.1 689.4 1007.8 690.0 1008.0" stroke="#bf5a36" stroke-width="7" fill="none" stroke-linecap="round"/><path d="M704.0 989.0 C703.9 985.2 703.4 973.9 703.2 966.3 C702.9 958.8 702.5 951.2 702.5 943.7 C702.5 936.1 704.5 930.7 703.1 921.0 C701.6 911.3 696.9 897.2 693.7 885.3 C690.5 873.4 687.7 861.6 684.0 849.7 C680.2 837.8 673.7 824.9 671.2 814.0 C668.6 803.1 670.6 794.2 668.7 784.3 C666.8 774.4 662.2 764.6 659.5 754.7 C656.9 744.8 657.3 734.9 652.8 725.0 C648.3 715.1 638.7 705.2 632.6 695.3 C626.4 685.4 622.0 675.6 616.1 665.7 C610.1 655.8 600.2 640.9 597.0 636.0" stroke="#bf5a36" stroke-width="7" fill="none" stroke-linecap="round"/><path d="M550.0 640.0 C550.2 640.8 551.0 643.1 551.4 644.7 C551.9 646.2 552.2 647.8 552.8 649.3 C553.4 650.9 552.3 647.3 554.9 654.0 C557.5 660.7 562.9 677.8 568.3 689.7 C573.7 701.6 581.1 713.4 587.2 725.3 C593.4 737.2 600.9 750.1 605.3 761.0 C609.8 771.9 611.7 780.8 613.8 790.7 C615.9 800.6 615.3 810.4 617.8 820.3 C620.3 830.2 624.9 839.1 628.9 850.0 C632.9 860.9 637.5 873.8 641.7 885.7 C645.9 897.6 649.3 909.4 654.0 921.3 C658.7 933.2 666.6 948.4 669.8 957.0 C673.0 965.6 671.7 967.4 673.2 972.7 C674.6 977.9 676.3 983.1 678.7 988.3 C681.1 993.6 686.1 1001.2 687.7 1004.0 C689.2 1006.8 688.0 1004.9 688.1 1005.3 C688.3 1005.8 687.8 1006.2 688.5 1006.7 C689.1 1007.1 691.4 1007.8 692.0 1008.0" stroke="#e8975e" stroke-width="2" fill="none" opacity="0.8"/><path d="M200.0 392.0 C213.0 374.7 218.3 373.0 228.0 366.0 C237.7 359.0 248.7 352.3 258.0 350.0 C267.3 347.7 277.7 343.7 284.0 352.0 C290.3 360.3 287.0 386.0 296.0 400.0 C305.0 414.0 334.0 422.7 338.0 436.0 C342.0 449.3 328.0 462.7 320.0 480.0 C312.0 497.3 299.7 520.0 290.0 540.0 C280.3 560.0 270.7 581.7 262.0 600.0 C253.3 618.3 246.3 645.0 238.0 650.0 C229.7 655.0 221.7 638.3 212.0 630.0 C202.3 621.7 192.0 608.3 180.0 600.0 C168.0 591.7 150.3 586.7 140.0 580.0 C129.7 573.3 116.3 578.3 118.0 560.0 C119.7 541.7 136.3 498.0 150.0 470.0 C163.7 442.0 187.0 409.3 200.0 392.0Z" fill="url(#msl2)"/><path d="M118.0 560.0 C123.3 545.0 136.3 498.0 150.0 470.0 C163.7 442.0 187.0 409.3 200.0 392.0 C213.0 374.7 218.3 373.0 228.0 366.0 C237.7 359.0 253.0 352.7 258.0 350.0" stroke="#b0502e" stroke-width="8" fill="none" opacity="0.7"/><g stroke="#efc2aa" stroke-width="1.3" opacity="0.75"><path d="M145 565 L215 380"/><path d="M154 562 L222 381"/><path d="M163 559 L229 382"/><path d="M172 556 L236 383"/><path d="M181 553 L243 384"/><path d="M190 550 L250 385"/><path d="M199 547 L257 386"/><path d="M208 544 L264 387"/><path d="M217 541 L271 388"/><path d="M226 538 L278 389"/><path d="M235 535 L285 390"/><path d="M244 532 L292 391"/><path d="M253 529 L299 392"/><path d="M262 526 L306 393"/><path d="M271 523 L313 394"/></g><path d="M120 560 Q150 540 190 560 Q200 580 180 600 Q150 590 120 575Z" fill="#efe6e0" opacity="0.8"/><path d="M548.0 398.0 C561.3 399.7 578.0 409.7 590.0 420.0 C602.0 430.3 611.7 440.0 620.0 460.0 C628.3 480.0 634.7 513.3 640.0 540.0 C645.3 566.7 650.3 596.0 652.0 620.0 C653.7 644.0 653.7 670.7 650.0 684.0 C646.3 697.3 638.3 704.0 630.0 700.0 C621.7 696.0 611.7 676.7 600.0 660.0 C588.3 643.3 573.3 623.3 560.0 600.0 C546.7 576.7 531.7 545.0 520.0 520.0 C508.3 495.0 491.7 468.3 490.0 450.0 C488.3 431.7 500.3 418.7 510.0 410.0 C519.7 401.3 534.7 396.3 548.0 398.0Z" fill="url(#msl)"/><g stroke="#eab59b" stroke-width="1.6" opacity="0.55" fill="none"><path d="M505 425 Q545 550 560 690"/><path d="M516 425 Q555 550 568 690"/><path d="M527 425 Q565 550 576 690"/><path d="M538 425 Q575 550 584 690"/><path d="M549 425 Q585 550 592 690"/><path d="M560 425 Q595 550 600 690"/><path d="M571 425 Q605 550 608 690"/><path d="M582 425 Q615 550 616 690"/><path d="M593 425 Q625 550 624 690"/></g><path d="M262.0 440.0 C280.3 426.0 320.3 436.7 350.0 436.0 C379.7 435.3 416.7 434.5 440.0 436.0 C463.3 437.5 476.7 431.0 490.0 445.0 C503.3 459.0 508.3 495.8 520.0 520.0 C531.7 544.2 547.3 571.7 560.0 590.0 C572.7 608.3 592.2 622.3 596.0 630.0 C599.8 637.7 589.0 632.3 583.0 636.0 C577.0 639.7 568.8 646.7 560.0 652.0 C551.2 657.3 539.7 664.0 530.0 668.0 C520.3 672.0 512.0 672.3 502.0 676.0 C492.0 679.7 479.5 685.2 470.0 690.0 C460.5 694.8 456.3 700.3 445.0 705.0 C433.7 709.7 417.8 713.5 402.0 718.0 C386.2 722.5 366.0 729.7 350.0 732.0 C334.0 734.3 320.0 729.8 306.0 732.0 C292.0 734.2 275.3 738.3 266.0 745.0 C256.7 751.7 255.7 776.2 250.0 772.0 C244.3 767.8 238.2 745.2 232.0 720.0 C225.8 694.8 211.7 654.3 213.0 621.0 C214.3 587.7 231.8 550.2 240.0 520.0 C248.2 489.8 243.7 454.0 262.0 440.0Z" fill="url(#palm)"/><g stroke="#a8502e" stroke-width="9" opacity="0.35" fill="none" stroke-linecap="round"><path d="M300 500 Q285 600 275 720"/><path d="M372 470 Q365 600 352 730"/><path d="M450 480 Q470 580 460 700"/><path d="M510 520 Q540 600 540 680"/></g><g stroke="#eab49a" stroke-width="1.2" opacity="0.6" fill="none"><path d="M250 470 Q255 600 245 740"/><path d="M264 470 Q269 600 259 740"/><path d="M278 470 Q283 600 273 740"/><path d="M292 470 Q297 600 287 740"/><path d="M306 470 Q311 600 301 740"/><path d="M320 470 Q325 600 315 740"/><path d="M334 470 Q339 600 329 740"/><path d="M348 470 Q353 600 343 740"/><path d="M362 470 Q367 600 357 740"/><path d="M376 470 Q381 600 371 740"/><path d="M390 470 Q395 600 385 740"/><path d="M404 470 Q409 600 399 740"/><path d="M418 470 Q423 600 413 740"/><path d="M432 470 Q437 600 427 740"/><path d="M446 470 Q451 600 441 740"/><path d="M460 470 Q465 600 455 740"/><path d="M474 470 Q479 600 469 740"/><path d="M488 470 Q493 600 483 740"/><path d="M502 470 Q507 600 497 740"/><path d="M516 470 Q521 600 511 740"/><path d="M530 470 Q535 600 525 740"/><path d="M544 470 Q549 600 539 740"/></g><path d="M351 445 L306 712" stroke="#b4b4b4" stroke-width="26" stroke-linecap="round"/><path d="M349 445 L304 712" stroke="#efefef" stroke-width="17" stroke-linecap="round"/><path d="M396 445 L401 700" stroke="#b4b4b4" stroke-width="26" stroke-linecap="round"/><path d="M394 445 L399 700" stroke="#efefef" stroke-width="17" stroke-linecap="round"/><path d="M426 445 L504 660" stroke="#b4b4b4" stroke-width="25" stroke-linecap="round"/><path d="M424 445 L502 660" stroke="#efefef" stroke-width="16" stroke-linecap="round"/><path d="M476 520 L582 620" stroke="#b4b4b4" stroke-width="22" stroke-linecap="round"/><path d="M474 520 L580 620" stroke="#efefef" stroke-width="13" stroke-linecap="round"/><path d="M282.0 330.0 C284.7 321.3 280.3 321.0 300.0 318.0 C319.7 315.0 370.0 313.0 400.0 312.0 C430.0 311.0 464.7 304.0 480.0 312.0 C495.3 320.0 492.3 340.0 492.0 360.0 C491.7 380.0 490.0 421.3 478.0 432.0 C466.0 442.7 439.7 424.7 420.0 424.0 C400.3 423.3 379.2 425.0 360.0 428.0 C340.8 431.0 316.3 445.0 305.0 442.0 C293.7 439.0 295.5 422.0 292.0 410.0 C288.5 398.0 285.7 383.3 284.0 370.0 C282.3 356.7 279.3 338.7 282.0 330.0Z" fill="#ebebeb"/><g stroke="#c8c8c8" stroke-width="1.3" fill="none" opacity="0.9"><path d="M262 330 Q380 322 486 326.0"/><path d="M264 337 Q380 329 486 332.5"/><path d="M266 344 Q380 336 486 339.0"/><path d="M268 351 Q380 343 486 345.5"/><path d="M270 358 Q380 350 486 352.0"/><path d="M272 365 Q380 357 486 358.5"/><path d="M274 372 Q380 364 486 365.0"/><path d="M276 379 Q380 371 486 371.5"/><path d="M278 386 Q380 378 486 378.0"/><path d="M280 393 Q380 385 486 384.5"/><path d="M282 400 Q380 392 486 391.0"/><path d="M284 407 Q380 399 486 397.5"/><path d="M286 414 Q380 406 486 404.0"/><path d="M288 421 Q380 413 486 410.5"/><path d="M290 428 Q380 420 486 417.0"/><path d="M292 435 Q380 427 486 423.5"/></g><g stroke="#555" stroke-width="2" opacity="0.6"><path d="M298 420 L312 402"/><path d="M312 432 L330 410"/></g><path d="M293 196 L298 300 Q300 330 290 350 Q280 372 262 395" stroke="#bf5a36" stroke-width="9" fill="none"/><path d="M293 196 L298 300 Q300 330 290 350 Q280 372 262 395" stroke="#e8875a" stroke-width="3" fill="none"/><ellipse cx="281" cy="326" rx="8" ry="17" fill="#a8402a"/><path d="M354 196 L354 330" stroke="#e6c060" stroke-width="6" fill="none"/><path d="M485.0 196.0 C484.2 205.0 482.2 232.7 480.0 250.0 C477.8 267.3 474.3 284.2 472.0 300.0 C469.7 315.8 465.3 331.7 466.0 345.0 C466.7 358.3 473.0 369.2 476.0 380.0 C479.0 390.8 483.7 400.0 484.0 410.0 C484.3 420.0 479.0 428.3 478.0 440.0 C477.0 451.7 476.0 466.7 478.0 480.0 C480.0 493.3 486.7 510.0 490.0 520.0 C493.3 530.0 496.7 536.7 498.0 540.0" stroke="#bf5a36" stroke-width="10" fill="none"/><path d="M485.0 196.0 C484.2 205.0 482.2 232.7 480.0 250.0 C477.8 267.3 474.3 284.2 472.0 300.0 C469.7 315.8 465.3 331.7 466.0 345.0 C466.7 358.3 473.0 369.2 476.0 380.0 C479.0 390.8 483.7 400.0 484.0 410.0 C484.3 420.0 479.0 428.3 478.0 440.0 C477.0 451.7 476.0 466.7 478.0 480.0 C480.0 493.3 486.7 510.0 490.0 520.0 C493.3 530.0 496.7 536.7 498.0 540.0" stroke="#ee9062" stroke-width="3" fill="none"/><path d="M497 196 Q492 260 484 310 Q486 350 494 380 Q500 420 495 460" stroke="#ecc56a" stroke-width="4" fill="none"/><text x="-505" y="392" transform="scale(-1,1)" font-family="Liberation Sans" font-size="46" fill="#7a7a7a" opacity="0.85" textLength="215" lengthAdjust="spacingAndGlyphs">anpodile</text><ellipse cx="420" cy="395" rx="70" ry="30" fill="none" stroke="#888" stroke-width="2" opacity="0.6"/><g stroke="#bf5a36" stroke-width="5" fill="none" stroke-linecap="round"><path d="M248.0 575.0 C249.7 571.3 249.3 555.5 258.0 553.0 C266.7 550.5 286.3 557.5 300.0 560.0 C313.7 562.5 323.2 566.2 340.0 568.0 C356.8 569.8 382.7 573.2 401.0 571.0 C419.3 568.8 435.3 561.3 450.0 555.0 C464.7 548.7 480.8 540.8 489.0 533.0 C497.2 525.2 498.8 518.5 499.0 508.0 C499.2 497.5 493.5 481.3 490.0 470.0 C486.5 458.7 480.0 445.0 478.0 440.0"/><path d="M250 570 Q246 640 252 700 Q250 740 254 760"/><path d="M355 568 Q345 630 356 680 Q365 710 355 730"/><path d="M410 570 Q420 620 440 680 Q450 700 452 715"/><path d="M470 545 Q500 600 520 650 Q535 680 548 700"/><path d="M495 520 Q540 580 580 640 Q595 660 600 670"/><path d="M500 530 Q560 560 600 620"/></g><g stroke="#f1c46e" stroke-width="3" fill="none"><path d="M352.0 430.0 C346.7 436.7 332.0 460.0 320.0 470.0 C308.0 480.0 295.0 485.0 280.0 490.0 C265.0 495.0 245.0 495.0 230.0 500.0 C215.0 505.0 203.3 510.0 190.0 520.0 C176.7 530.0 156.7 553.3 150.0 560.0"/><path d="M354.0 430.0 C345.0 441.7 317.3 478.3 300.0 500.0 C282.7 521.7 266.7 541.7 250.0 560.0 C233.3 578.3 213.3 596.7 200.0 610.0 C186.7 623.3 175.0 635.0 170.0 640.0"/><path d="M356 430 Q330 520 305 600 Q285 660 270 720"/><path d="M360 430 Q380 540 395 720"/><path d="M366 430 Q420 520 452 720"/><path d="M372 440 Q440 500 480 560"/><path d="M494 440 Q510 560 548 720"/><path d="M496 450 Q550 560 595 700"/></g><path d="M480 336 L548 342 L534 357 L740 458 L740 506 L518 380 L515 391 Z" fill="#000"/><path d="M600 196 L663 196 L663 207 Z" fill="#000"/></g><rect x="747" y="164" width="1303" height="620" fill="#fff"/><clipPath id="tc"><rect x="747" y="164" width="1303" height="608"/></clipPath><g clip-path="url(#tc)"><clipPath id="thc"><path d="M906.0 775.0 C906.5 772.8 894.2 789.0 909.0 762.0 C923.8 735.0 966.8 655.2 995.0 613.0 C1023.2 570.8 1055.2 535.3 1078.0 509.0 C1100.8 482.7 1121.7 464.5 1132.0 455.0 C1142.3 445.5 1138.7 452.5 1140.0 452.0 C1180 440 1240 436 1272 450 C1278 500 1276 560 1272 601 C1230 630 1100 700 996 772Z"/></clipPath><g clip-path="url(#thc)" stroke="#505050" stroke-width="1.4" fill="none"><path d="M760.0 800 Q1136.2 405.0 1330 401.0"/><path d="M771.5 800 Q1139.5 413.6 1330 409.6"/><path d="M783.0 800 Q1142.8 422.2 1330 418.2"/><path d="M794.5 800 Q1146.1 430.8 1330 426.8"/><path d="M806.0 800 Q1149.4 439.4 1330 435.4"/><path d="M817.5 800 Q1152.7 448.0 1330 444.0"/><path d="M829.0 800 Q1156.0 456.6 1330 452.6"/><path d="M840.5 800 Q1159.4 465.2 1330 461.2"/><path d="M852.0 800 Q1162.7 473.8 1330 469.8"/><path d="M863.5 800 Q1166.0 482.4 1330 478.4"/><path d="M875.0 800 Q1169.3 491.0 1330 487.0"/><path d="M886.5 800 Q1172.6 499.6 1330 495.6"/><path d="M898.0 800 Q1175.9 508.2 1330 504.2"/><path d="M909.5 800 Q1179.2 516.8 1330 512.8"/><path d="M921.0 800 Q1182.5 525.4 1330 521.4"/><path d="M932.5 800 Q1185.8 534.0 1330 530.0"/><path d="M944.0 800 Q1189.1 542.6 1330 538.6"/><path d="M955.5 800 Q1192.5 551.2 1330 547.2"/><path d="M967.0 800 Q1195.8 559.8 1330 555.8"/><path d="M978.5 800 Q1199.1 568.4 1330 564.4"/><path d="M990.0 800 Q1202.4 577.0 1330 573.0"/><path d="M1001.5 800 Q1205.7 585.6 1330 581.6"/><path d="M1013.0 800 Q1209.0 594.2 1330 590.2"/><path d="M1024.5 800 Q1212.3 602.8 1330 598.8"/><path d="M1036.0 800 Q1215.6 611.4 1330 607.4"/><path d="M1047.5 800 Q1218.9 620.0 1330 616.0"/><path d="M1059.0 800 Q1222.2 628.6 1330 624.6"/><path d="M1070.5 800 Q1225.5 637.2 1330 633.2"/><path d="M1082.0 800 Q1228.9 645.8 1330 641.8"/><path d="M1093.5 800 Q1232.2 654.4 1330 650.4"/><path d="M1105.0 800 Q1235.5 663.0 1330 659.0"/><path d="M1116.5 800 Q1238.8 671.6 1330 667.6"/><path d="M1128.0 800 Q1240.0 680.2 1330 676.2"/><path d="M1139.5 800 Q1240.0 688.8 1330 684.8"/><path d="M1151.0 800 Q1240.0 697.4 1330 693.4"/><path d="M1162.5 800 Q1240.0 706.0 1330 702.0"/><path d="M1174.0 800 Q1240.0 714.6 1330 710.6"/><path d="M1185.5 800 Q1240.0 723.2 1330 719.2"/><path d="M1197.0 800 Q1240.0 731.8 1330 727.8"/><path d="M1208.5 800 Q1240.0 740.4 1330 736.4"/><path d="M1220.0 800 Q1240.0 749.0 1330 745.0"/><path d="M1231.5 800 Q1240.0 757.6 1330 753.6"/><path d="M1243.0 800 Q1240.0 766.2 1330 762.2"/><path d="M1254.5 800 Q1240.0 774.8 1330 770.8"/><path d="M1266.0 800 Q1240.0 783.4 1330 779.4"/><path d="M1277.5 800 Q1240.0 792.0 1330 788.0"/><path d="M1289.0 800 Q1240.0 800.6 1330 796.6"/><path d="M1300.5 800 Q1240.0 809.2 1330 805.2"/><path d="M1312.0 800 Q1240.0 817.8 1330 813.8"/><path d="M1323.5 800 Q1240.0 826.4 1330 822.4"/><path d="M1335.0 800 Q1240.0 835.0 1330 831.0"/><path d="M1346.5 800 Q1240.0 843.6 1330 839.6"/></g><path d="M1121 463 C1180 440 1240 436 1272 450" fill="none" stroke="#111" stroke-width="2.5"/><path d="M1272 601 C1230 630 1100 700 996 772" fill="none" stroke="#111" stroke-width="2.5"/><clipPath id="m2c"><path d="M996 772 C1100 700 1230 630 1272 601 L1300 640 L1330 700 L1340 775Z"/></clipPath><g clip-path="url(#m2c)" stroke="#555" stroke-width="1.2" fill="none"><path d="M800 800 Q1020 690 1320 620"/><path d="M813 800 Q1033 690 1333 620"/><path d="M826 800 Q1046 690 1346 620"/><path d="M839 800 Q1059 690 1359 620"/><path d="M852 800 Q1072 690 1372 620"/><path d="M865 800 Q1085 690 1385 620"/><path d="M878 800 Q1098 690 1398 620"/><path d="M891 800 Q1111 690 1411 620"/><path d="M904 800 Q1124 690 1424 620"/><path d="M917 800 Q1137 690 1437 620"/><path d="M930 800 Q1150 690 1450 620"/><path d="M943 800 Q1163 690 1463 620"/><path d="M956 800 Q1176 690 1476 620"/><path d="M969 800 Q1189 690 1489 620"/><path d="M982 800 Q1202 690 1502 620"/><path d="M995 800 Q1215 690 1515 620"/><path d="M1008 800 Q1228 690 1528 620"/><path d="M1021 800 Q1241 690 1541 620"/><path d="M1034 800 Q1254 690 1554 620"/><path d="M1047 800 Q1267 690 1567 620"/><path d="M1060 800 Q1280 690 1580 620"/><path d="M1073 800 Q1293 690 1593 620"/><path d="M1086 800 Q1306 690 1606 620"/><path d="M1099 800 Q1319 690 1619 620"/><path d="M1112 800 Q1332 690 1632 620"/><path d="M1125 800 Q1345 690 1645 620"/><path d="M1138 800 Q1358 690 1658 620"/><path d="M1151 800 Q1371 690 1671 620"/><path d="M1164 800 Q1384 690 1684 620"/><path d="M1177 800 Q1397 690 1697 620"/><path d="M1190 800 Q1410 690 1710 620"/><path d="M1203 800 Q1423 690 1723 620"/><path d="M1216 800 Q1436 690 1736 620"/><path d="M1229 800 Q1449 690 1749 620"/></g><clipPath id="hyc"><path d="M1520 560 C1560 580 1600 620 1640 680 C1660 720 1670 750 1680 775 L1560 775 C1540 720 1510 650 1500 600Z"/></clipPath><g clip-path="url(#hyc)" stroke="#444" stroke-width="1.3" fill="none"><path d="M1440 520 Q1480 640 1530 790"/><path d="M1446 520 Q1486 640 1536 790"/><path d="M1452 520 Q1492 640 1542 790"/><path d="M1458 520 Q1498 640 1548 790"/><path d="M1464 520 Q1504 640 1554 790"/><path d="M1470 520 Q1510 640 1560 790"/><path d="M1476 520 Q1516 640 1566 790"/><path d="M1482 520 Q1522 640 1572 790"/><path d="M1488 520 Q1528 640 1578 790"/><path d="M1494 520 Q1534 640 1584 790"/><path d="M1500 520 Q1540 640 1590 790"/><path d="M1506 520 Q1546 640 1596 790"/><path d="M1512 520 Q1552 640 1602 790"/><path d="M1518 520 Q1558 640 1608 790"/><path d="M1524 520 Q1564 640 1614 790"/><path d="M1530 520 Q1570 640 1620 790"/><path d="M1536 520 Q1576 640 1626 790"/><path d="M1542 520 Q1582 640 1632 790"/><path d="M1548 520 Q1588 640 1638 790"/><path d="M1554 520 Q1594 640 1644 790"/><path d="M1560 520 Q1600 640 1650 790"/><path d="M1566 520 Q1606 640 1656 790"/><path d="M1572 520 Q1612 640 1662 790"/><path d="M1578 520 Q1618 640 1668 790"/><path d="M1584 520 Q1624 640 1674 790"/><path d="M1590 520 Q1630 640 1680 790"/><path d="M1596 520 Q1636 640 1686 790"/><path d="M1602 520 Q1642 640 1692 790"/><path d="M1608 520 Q1648 640 1698 790"/><path d="M1614 520 Q1654 640 1704 790"/><path d="M1620 520 Q1660 640 1710 790"/><path d="M1626 520 Q1666 640 1716 790"/><path d="M1632 520 Q1672 640 1722 790"/><path d="M1638 520 Q1678 640 1728 790"/><path d="M1644 520 Q1684 640 1734 790"/><path d="M1650 520 Q1690 640 1740 790"/><path d="M1656 520 Q1696 640 1746 790"/><path d="M1662 520 Q1702 640 1752 790"/><path d="M1668 520 Q1708 640 1758 790"/><path d="M1674 520 Q1714 640 1764 790"/></g><g stroke="#555" stroke-width="1.2" fill="none" opacity="0.8"><path d="M1380 655 L1388 760"/><path d="M1384 663 L1392 760"/><path d="M1388 663 L1396 760"/><path d="M1392 670 L1400 760"/><path d="M1396 659 L1404 760"/><path d="M1400 665 L1408 760"/><path d="M1404 656 L1412 760"/><path d="M1408 665 L1416 760"/><path d="M1412 666 L1420 760"/><path d="M1416 655 L1424 760"/><path d="M1420 666 L1428 760"/><path d="M1424 666 L1432 760"/><path d="M1428 657 L1436 760"/><path d="M1432 650 L1440 760"/><path d="M1520 520 Q1545 560 1600 600"/><path d="M1523 528 Q1545 568 1600 610"/><path d="M1526 536 Q1545 576 1600 620"/><path d="M1529 544 Q1545 584 1600 630"/><path d="M1532 552 Q1545 592 1600 640"/><path d="M1535 560 Q1545 600 1600 650"/><path d="M1538 568 Q1545 608 1600 660"/><path d="M1541 576 Q1545 616 1600 670"/><path d="M1544 584 Q1545 624 1600 680"/><path d="M1547 592 Q1545 632 1600 690"/></g><g stroke="#2a2a2a" stroke-width="1.8" fill="none"><path d="M1273 174 L1272 348"/><path d="M1290 187 L1282 284"/><path d="M1300 199 L1293 338"/><path d="M1312 196 L1308 286"/><path d="M1377 197 L1376 381"/><path d="M1390 188 L1385 276"/><path d="M1419 191 L1410 398"/><path d="M1432 194 L1422 368"/><path d="M1444 178 L1435 280"/><path d="M1545 199 L1542 284"/></g><g stroke="#888" stroke-width="1.6" fill="none"><path d="M1271 225 L1266 258"/><path d="M1527 208 L1526 267"/><path d="M1289 393 L1286 460"/><path d="M1407 244 L1406 349"/><path d="M1302 312 L1301 409"/><path d="M1296 341 L1291 427"/><path d="M1281 205 L1276 241"/><path d="M1565 191 L1564 257"/><path d="M1538 224 L1537 260"/><path d="M1444 193 L1442 246"/><path d="M1386 335 L1385 378"/><path d="M1521 179 L1516 218"/><path d="M1454 296 L1451 408"/><path d="M1521 228 L1518 259"/><path d="M1451 344 L1446 442"/><path d="M1270 186 L1269 256"/><path d="M1520 224 L1519 279"/><path d="M1310 325 L1306 400"/><path d="M1265 276 L1260 357"/><path d="M1558 194 L1557 260"/><path d="M1290 311 L1287 346"/><path d="M1533 181 L1527 244"/><path d="M1282 388 L1278 477"/><path d="M1307 343 L1304 437"/><path d="M1291 192 L1289 261"/><path d="M1448 371 L1446 437"/><path d="M1275 295 L1270 369"/><path d="M1560 214 L1559 272"/><path d="M1559 178 L1557 221"/><path d="M1284 305 L1282 391"/><path d="M1304 349 L1302 397"/><path d="M1298 257 L1293 310"/><path d="M1526 186 L1524 232"/><path d="M1564 188 L1563 256"/><path d="M1307 198 L1305 280"/><path d="M1589 188 L1589 233"/></g><g stroke="#333" stroke-width="1.6" fill="none"><path d="M1180 320 Q1200 345 1215 370"/><path d="M1180 340 Q1200 360 1212 385"/><path d="M1178 390 Q1190 392 1200 398"/><path d="M1165 420 Q1190 410 1205 415"/><path d="M1250 395 Q1270 410 1290 430"/><path d="M1250 420 Q1280 440 1300 460"/><path d="M1380 420 Q1400 440 1420 460"/><path d="M1420 500 Q1440 510 1455 500"/><path d="M1420 540 Q1440 550 1455 545"/><path d="M1420 590 Q1435 600 1455 600"/><path d="M1410 640 Q1430 650 1450 660"/></g><path d="M1150 340 C1140 380 1120 410 1093 437 C1060 470 1030 495 1016 520 C990 560 960 610 930 660 L912 705 C930 670 950 640 959 628 C990 590 1010 570 1037 538 C1070 500 1095 460 1108 437 C1130 410 1150 380 1160 340Z" fill="#c8c8c8"/><g stroke="#8a8a8a" stroke-width="1.2" fill="none"><path d="M1374 470 Q1369 560 1325 640"/><path d="M1377 470 Q1372 560 1335 640"/><path d="M1380 470 Q1375 560 1345 640"/><path d="M1383 470 Q1378 560 1355 640"/><path d="M1386 470 Q1381 560 1365 640"/><path d="M1389 470 Q1384 560 1375 640"/><path d="M1392 470 Q1387 560 1385 640"/><path d="M1395 470 Q1390 560 1395 640"/><path d="M1398 470 Q1393 560 1405 640"/><path d="M1401 470 Q1396 560 1415 640"/><path d="M1404 470 Q1399 560 1425 640"/><path d="M1407 470 Q1402 560 1435 640"/><path d="M1380 430 L1378 470"/><path d="M1384 430 L1382 470"/><path d="M1388 430 L1386 470"/><path d="M1392 430 L1390 470"/><path d="M1396 430 L1394 470"/><path d="M1400 430 L1398 470"/></g><g stroke="#1a1a1a" stroke-width="2.3" fill="none"><path d="M1368 420 L1368 441 Q1362 455 1336 479"/><path d="M1336 492 Q1350 470 1360 466 Q1366 480 1363 500 Q1356 531 1349 540 Q1335 555 1316 561"/><path d="M1314 583 Q1340 565 1360 545 Q1352 575 1339 590 Q1322 612 1300 634"/><path d="M1406 420 Q1406 450 1408 468 Q1412 500 1419 515 Q1428 530 1438 537"/><path d="M1438 558 Q1425 542 1416 542 Q1410 548 1412 560 Q1416 580 1423 595 Q1430 620 1435 642"/><path d="M1414 436 L1441 428 M1416 449 L1441 441 M1422 467 L1441 460 M1416 496 L1435 494"/><path d="M1278 545 Q1300 540 1316 545 M1272 560 Q1295 552 1318 556"/></g><g stroke="#111" fill="none" stroke-width="2.6"><path d="M1158.0 174.0 C1157.7 195.0 1157.3 272.3 1156.0 300.0 C1154.7 327.7 1153.0 327.5 1150.0 340.0 C1147.0 352.5 1147.5 358.8 1138.0 375.0 C1128.5 391.2 1113.3 412.8 1093.0 437.0 C1072.7 461.2 1038.2 491.2 1016.0 520.0 C993.8 548.8 977.3 579.2 960.0 610.0 C942.7 640.8 920.0 689.2 912.0 705.0"/><path d="M1181.0 174.0 C1180.3 194.0 1179.7 263.0 1177.0 294.0 C1174.3 325.0 1169.5 342.3 1165.0 360.0 C1160.5 377.7 1159.5 387.2 1150.0 400.0 C1140.5 412.8 1126.8 414.0 1108.0 437.0 C1089.2 460.0 1061.8 506.2 1037.0 538.0 C1012.2 569.8 984.3 591.2 959.0 628.0 C933.7 664.8 897.3 737.2 885.0 759.0"/><path d="M1189.0 174.0 C1188.5 195.0 1187.8 269.0 1186.0 300.0 C1184.2 331.0 1181.0 342.7 1178.0 360.0 C1175.0 377.3 1175.7 388.2 1168.0 404.0 C1160.3 419.8 1147.0 437.5 1132.0 455.0 C1117.0 472.5 1100.8 482.7 1078.0 509.0 C1055.2 535.3 1023.2 570.8 995.0 613.0 C966.8 655.2 923.3 737.2 909.0 762.0"/><path d="M1189 174 L1186 300 L1199 314"/><path d="M1241.0 357.0 C1245.0 360.8 1256.8 374.0 1265.0 380.0 C1273.2 386.0 1281.8 387.5 1290.0 393.0 C1298.2 398.5 1310.0 409.7 1314.0 413.0"/><path d="M1366 174 L1366 433 Q1362 450 1352 468"/><path d="M1419 174 L1409 470"/><path d="M1280.0 640.0 C1286.7 638.8 1303.3 633.3 1320.0 633.0 C1336.7 632.7 1360.3 634.3 1380.0 638.0 C1399.7 641.7 1424.3 650.0 1438.0 655.0 C1451.7 660.0 1458.0 665.8 1462.0 668.0"/><path d="M1598.0 174.0 C1597.0 186.7 1594.2 227.2 1592.0 250.0 C1589.8 272.8 1588.5 294.7 1585.0 311.0 C1581.5 327.3 1572.7 337.7 1571.0 348.0 C1569.3 358.3 1571.5 360.2 1575.0 373.0 C1578.5 385.8 1589.5 412.8 1592.0 425.0 C1594.5 437.2 1587.7 437.3 1590.0 446.0 C1592.3 454.7 1599.3 464.7 1606.0 477.0 C1612.7 489.3 1622.5 504.5 1630.0 520.0 C1637.5 535.5 1644.3 546.7 1651.0 570.0 C1657.7 593.3 1664.5 626.3 1670.0 660.0 C1675.5 693.7 1681.7 753.3 1684.0 772.0"/><path d="M1617.0 174.0 C1616.0 186.7 1613.2 227.2 1611.0 250.0 C1608.8 272.8 1608.0 294.7 1604.0 311.0 C1600.0 327.3 1589.0 339.3 1587.0 348.0 C1585.0 356.7 1588.5 351.8 1592.0 363.0 C1595.5 374.2 1605.7 401.2 1608.0 415.0 C1610.3 428.8 1603.5 435.7 1606.0 446.0 C1608.5 456.3 1616.5 464.7 1623.0 477.0 C1629.5 489.3 1638.5 504.5 1645.0 520.0 C1651.5 535.5 1655.3 546.7 1662.0 570.0 C1668.7 593.3 1678.2 626.3 1685.0 660.0 C1691.8 693.7 1700.0 753.3 1703.0 772.0"/><path d="M1640.0 174.0 C1638.0 185.0 1631.8 219.0 1628.0 240.0 C1624.2 261.0 1621.0 281.3 1617.0 300.0 C1613.0 318.7 1605.5 339.8 1604.0 352.0 C1602.5 364.2 1607.3 369.5 1608.0 373.0"/><path d="M1515.0 174.0 C1515.7 186.3 1516.3 225.2 1519.0 248.0 C1521.7 270.8 1529.3 288.0 1531.0 311.0 C1532.7 334.0 1529.3 373.5 1529.0 386.0"/><path d="M1554.0 510.0 C1555.0 518.3 1558.3 545.5 1560.0 560.0 C1561.7 574.5 1560.7 582.0 1564.0 597.0 C1567.3 612.0 1573.7 634.2 1580.0 650.0 C1586.3 665.8 1595.3 671.7 1602.0 692.0 C1608.7 712.3 1617.0 758.7 1620.0 772.0"/><path d="M1548 520 Q1552 540 1548 560"/><path d="M1490 600 Q1470 640 1475 700"/></g><path d="M1617 174 L1611 250 L1604 311 L1587 348 L1592 363 L1608 373 L1604 352 L1617 300 L1628 240 L1640 174Z" fill="#c8c8c8"/><path d="M1209 174 L1251 174 L1245 296 L1241 347 L1233 357 L1225 367 L1233 387 L1231 421 L1219 421 L1221 387 L1213 367 L1215 357 L1219 338 L1199 314 L1203 296 Z" fill="#e6240a" stroke="#111" stroke-width="2"/><path d="M1228 342 L1226 320 M1236 342 L1236 322" stroke="#111" stroke-width="1.5"/><path d="M1212.0 636.0 C1211.2 644.3 1205.7 670.3 1207.0 686.0 C1208.3 701.7 1214.5 715.2 1220.0 730.0 C1225.5 744.8 1236.7 767.5 1240.0 775.0" stroke="#111" stroke-width="13" fill="none"/><path d="M1212.0 636.0 C1211.2 644.3 1205.7 670.3 1207.0 686.0 C1208.3 701.7 1214.5 715.2 1220.0 730.0 C1225.5 744.8 1236.7 767.5 1240.0 775.0" stroke="#e6240a" stroke-width="9" fill="none"/><path d="M1304 650 Q1230 720 1127 772" stroke="#222" stroke-width="7" fill="none"/><path d="M1304 650 Q1230 720 1127 772" stroke="#d9b040" stroke-width="3" fill="none"/><path d="M1322 174 L1360 174 L1360 431 L1316 413 Z" fill="#f7a00e" stroke="#111" stroke-width="2"/><path d="M1334 377 L1326 480 L1318 520" stroke="#111" stroke-width="11" fill="none" stroke-linecap="round"/><path d="M1318 518 Q1308 530 1297 533 M1318 518 Q1316 535 1311 545" stroke="#111" stroke-width="8" fill="none" stroke-linecap="round"/><path d="M1334 377 L1326 480 L1318 520" stroke="#f08a10" stroke-width="7" fill="none"/><path d="M1318 518 Q1308 530 1297 533 M1318 518 Q1316 535 1311 545" stroke="#f08a10" stroke-width="4" fill="none"/><path d="M1304 636 L1354 636 Q1360 690 1372 720 L1392 775 L1350 775 L1338 720 L1330 700 L1326 720 L1326 775 L1290 775 Q1298 700 1304 636Z" fill="#f7a00e" stroke="#111" stroke-width="2"/><path d="M1472 174 L1494 174 L1471 427 L1469 600 L1469 700 Q1472 740 1474 775 L1412 775 Q1435 740 1442 700 L1442 600 L1447 427 Z" fill="#e6240a" stroke="#111" stroke-width="2"/><path d="M1467 548 L1543 548 Q1548 560 1543 566 L1467 566Z M1467 582 L1490 582 L1490 596 L1467 596Z" fill="#e6240a" stroke="#111" stroke-width="1.8"/><path d="M1461.0 651.0 C1465.8 657.5 1480.2 676.8 1490.0 690.0 C1499.8 703.2 1511.2 715.8 1520.0 730.0 C1528.8 744.2 1539.2 767.5 1543.0 775.0" stroke="#111" stroke-width="13" fill="none"/><path d="M1461.0 651.0 C1465.8 657.5 1480.2 676.8 1490.0 690.0 C1499.8 703.2 1511.2 715.8 1520.0 730.0 C1528.8 744.2 1539.2 767.5 1543.0 775.0" stroke="#e6240a" stroke-width="9" fill="none"/><path d="M1494 174 L1506 174 L1492 380 L1507 600 L1514 775 L1498 775 L1490 600 L1478 380 Z" fill="#f7a00e" stroke="#111" stroke-width="2"/><path d="M1497 530 L1540 540 L1542 548 L1497 545Z" fill="#f7a00e" stroke="#111" stroke-width="1.5"/><path d="M1500.0 605.0 C1505.0 609.2 1519.3 621.0 1530.0 630.0 C1540.7 639.0 1552.3 645.7 1564.0 659.0 C1575.7 672.3 1588.7 690.7 1600.0 710.0 C1611.3 729.3 1626.7 764.2 1632.0 775.0" stroke="#111" stroke-width="14" fill="none"/><path d="M1500.0 605.0 C1505.0 609.2 1519.3 621.0 1530.0 630.0 C1540.7 639.0 1552.3 645.7 1564.0 659.0 C1575.7 672.3 1588.7 690.7 1600.0 710.0 C1611.3 729.3 1626.7 764.2 1632.0 775.0" stroke="#f7a00e" stroke-width="10" fill="none"/><path d="M1562 660 L1588 656" stroke="#111" stroke-width="6"/><path d="M1562 660 L1588 656" stroke="#d9b040" stroke-width="2.5"/><g stroke="#111" stroke-width="2.2" fill="none"><path d="M1117 201 L1286 201"/><path d="M1117 248 L1225 248"/><path d="M1117 296 L1332 296"/><path d="M1390 195.5 L1683 195.5"/><path d="M1437 235.5 L1683 235.5"/><path d="M1564 308 L1687 308"/><path d="M1457 391 L1687 391"/><path d="M1486 411 L1643 411 L1643 391"/><path d="M1424 479.6 L1690 479.6"/></g></g><text x="760" y="202" font-family="Liberation Sans" font-size="31" fill="#1a1a1a" stroke="#1a1a1a" stroke-width="0.9" textLength="340" lengthAdjust="spacingAndGlyphs" xml:space="preserve">Flexor carpi  radialis</text><text x="888" y="249" font-family="Liberation Sans" font-size="31" fill="#1a1a1a" stroke="#1a1a1a" stroke-width="0.9" textLength="212" lengthAdjust="spacingAndGlyphs" xml:space="preserve">Radial artery</text><text x="870" y="297" font-family="Liberation Sans" font-size="31" fill="#1a1a1a" stroke="#1a1a1a" stroke-width="0.9" textLength="230" lengthAdjust="spacingAndGlyphs" xml:space="preserve">Median nerve</text><text x="1706" y="197" font-family="Liberation Sans" font-size="31" fill="#1a1a1a" stroke="#1a1a1a" stroke-width="0.9" textLength="269" lengthAdjust="spacingAndGlyphs" xml:space="preserve">Palmaris longus</text><text x="1706" y="234" font-family="Liberation Sans" font-size="31" fill="#1a1a1a" stroke="#1a1a1a" stroke-width="0.9" textLength="290" lengthAdjust="spacingAndGlyphs" xml:space="preserve">Flexor  digitorum</text><text x="1706" y="266" font-family="Liberation Sans" font-size="31" fill="#1a1a1a" stroke="#1a1a1a" stroke-width="0.9" textLength="199" lengthAdjust="spacingAndGlyphs" xml:space="preserve">superficialis</text><text x="1706" y="309" font-family="Liberation Sans" font-size="31" fill="#1a1a1a" stroke="#1a1a1a" stroke-width="0.9" textLength="333" lengthAdjust="spacingAndGlyphs" xml:space="preserve">Flexor carpi  ulnaris</text><text x="1707" y="392.5" font-family="Liberation Sans" font-size="31" fill="#1a1a1a" stroke="#1a1a1a" stroke-width="0.9" textLength="198" lengthAdjust="spacingAndGlyphs" xml:space="preserve">Ulnar artery</text><text x="1706" y="425" font-family="Liberation Sans" font-size="31" fill="#1a1a1a" stroke="#1a1a1a" stroke-width="0.9" textLength="166" lengthAdjust="spacingAndGlyphs" xml:space="preserve">and nerve</text><text x="1708" y="481.7" font-family="Liberation Sans" font-size="31" fill="#1a1a1a" stroke="#1a1a1a" stroke-width="0.9" textLength="325" lengthAdjust="spacingAndGlyphs" xml:space="preserve">Flexor  retinaculum</text><defs><linearGradient id="skin" x1="0" y1="0" x2="1" y2="0"><stop offset="0" stop-color="#e8712a"/><stop offset="0.4" stop-color="#f2a060"/><stop offset="0.7" stop-color="#f3a566"/><stop offset="1" stop-color="#e4621e"/></linearGradient><radialGradient id="fat" cx="0.5" cy="0.5" r="0.6"><stop offset="0" stop-color="#fbd43a"/><stop offset="1" stop-color="#f7c61e"/></radialGradient></defs><path d="M1163 1150 C1163 1090 1172 1055 1195 1022 C1215 995 1250 976 1300 969 C1340 964 1380 965 1408 964 C1460 961 1560 953 1626 967 C1705 985 1760 1050 1760 1160 C1760 1262 1705 1330 1563 1378 C1490 1392 1380 1392 1280 1350 C1208 1312 1163 1245 1163 1150Z" fill="url(#skin)" stroke="#8a2a0a" stroke-width="2.5"/><path d="M1172 1155 C1173 1090 1190 1048 1220 1030 C1250 1012 1290 1006 1330 1004 L1560 1004 C1660 1012 1732 1075 1734 1165 C1734 1255 1685 1315 1563 1363 C1480 1381 1382 1378 1302 1340 C1222 1302 1172 1240 1172 1155Z" fill="#fbe7b0" stroke="#8a2a0a" stroke-width="2"/><path d="M1178 1157 C1179 1094 1196 1055 1225 1037 C1254 1019 1292 1013 1332 1011 L1560 1011 C1656 1019 1726 1080 1727 1166 C1727 1250 1679 1308 1561 1356 C1480 1374 1384 1371 1306 1334 C1228 1297 1178 1238 1178 1157Z" fill="url(#fat)" stroke="#9a3a10" stroke-width="2"/><clipPath id="fc"><path d="M1178 1157 C1179 1094 1196 1055 1225 1037 C1254 1019 1292 1013 1332 1011 L1560 1011 C1656 1019 1726 1080 1727 1166 C1727 1250 1679 1308 1561 1356 C1480 1374 1384 1371 1306 1334 C1228 1297 1178 1238 1178 1157Z"/></clipPath><g clip-path="url(#fc)" opacity="0.6"><ellipse cx="1311" cy="1209" rx="11" ry="5" fill="#ffe860"/><ellipse cx="1506" cy="1231" rx="6" ry="4" fill="#ec9a0c"/><ellipse cx="1743" cy="1182" rx="8" ry="6" fill="#fff8c0"/><ellipse cx="1261" cy="1242" rx="7" ry="3" fill="#fff8c0"/><ellipse cx="1618" cy="1068" rx="4" ry="7" fill="#fff8c0"/><ellipse cx="1644" cy="1108" rx="10" ry="7" fill="#fff8c0"/><ellipse cx="1582" cy="1346" rx="10" ry="6" fill="#ec9a0c"/><ellipse cx="1725" cy="1059" rx="5" ry="4" fill="#ffe860"/><ellipse cx="1299" cy="1362" rx="10" ry="7" fill="#ec9a0c"/><ellipse cx="1415" cy="1314" rx="7" ry="6" fill="#fff8c0"/><ellipse cx="1508" cy="1340" rx="11" ry="8" fill="#fff48a"/><ellipse cx="1558" cy="1070" rx="12" ry="8" fill="#ffe860"/><ellipse cx="1499" cy="1271" rx="9" ry="8" fill="#f0a010"/><ellipse cx="1327" cy="1055" rx="11" ry="8" fill="#ec9a0c"/><ellipse cx="1225" cy="1302" rx="11" ry="3" fill="#ec9a0c"/><ellipse cx="1418" cy="1162" rx="4" ry="6" fill="#fff48a"/><ellipse cx="1201" cy="1272" rx="8" ry="8" fill="#ffe860"/><ellipse cx="1334" cy="1096" rx="6" ry="3" fill="#fff48a"/><ellipse cx="1517" cy="1021" rx="12" ry="4" fill="#f0a010"/><ellipse cx="1325" cy="1262" rx="7" ry="8" fill="#ffe860"/><ellipse cx="1686" cy="1148" rx="11" ry="5" fill="#ec9a0c"/><ellipse cx="1669" cy="1259" rx="9" ry="8" fill="#fff48a"/><ellipse cx="1464" cy="1167" rx="11" ry="5" fill="#f0a010"/><ellipse cx="1322" cy="1121" rx="4" ry="5" fill="#ffe860"/><ellipse cx="1506" cy="1017" rx="9" ry="4" fill="#fff8c0"/><ellipse cx="1536" cy="1131" rx="9" ry="5" fill="#ffe860"/><ellipse cx="1578" cy="1279" rx="9" ry="8" fill="#fff48a"/><ellipse cx="1187" cy="1145" rx="6" ry="6" fill="#ec9a0c"/><ellipse cx="1276" cy="1078" rx="11" ry="4" fill="#ffe860"/><ellipse cx="1624" cy="1048" rx="12" ry="6" fill="#fff48a"/><ellipse cx="1250" cy="1193" rx="6" ry="4" fill="#ffe860"/><ellipse cx="1423" cy="1265" rx="9" ry="8" fill="#fff48a"/><ellipse cx="1560" cy="1092" rx="5" ry="7" fill="#f0a010"/><ellipse cx="1299" cy="1217" rx="6" ry="4" fill="#ffe860"/><ellipse cx="1477" cy="1080" rx="5" ry="4" fill="#fff8c0"/><ellipse cx="1635" cy="1244" rx="7" ry="4" fill="#fff8c0"/><ellipse cx="1341" cy="1300" rx="8" ry="6" fill="#ffe860"/><ellipse cx="1341" cy="1217" rx="11" ry="4" fill="#fff48a"/><ellipse cx="1178" cy="1354" rx="12" ry="5" fill="#fff8c0"/><ellipse cx="1717" cy="1348" rx="4" ry="5" fill="#f0a010"/><ellipse cx="1604" cy="1283" rx="8" ry="7" fill="#ffe860"/><ellipse cx="1666" cy="1323" rx="5" ry="4" fill="#ffe860"/><ellipse cx="1195" cy="1303" rx="11" ry="7" fill="#fff8c0"/><ellipse cx="1688" cy="1221" rx="8" ry="4" fill="#fff48a"/><ellipse cx="1462" cy="1097" rx="8" ry="5" fill="#fff48a"/><ellipse cx="1710" cy="1233" rx="5" ry="8" fill="#ffe860"/><ellipse cx="1483" cy="1306" rx="7" ry="4" fill="#fff48a"/><ellipse cx="1480" cy="1308" rx="6" ry="4" fill="#f0a010"/><ellipse cx="1682" cy="1057" rx="8" ry="6" fill="#fff48a"/><ellipse cx="1403" cy="1286" rx="6" ry="6" fill="#f0a010"/><ellipse cx="1416" cy="1183" rx="11" ry="7" fill="#fff48a"/><ellipse cx="1201" cy="1028" rx="12" ry="7" fill="#ec9a0c"/><ellipse cx="1224" cy="1193" rx="5" ry="3" fill="#ffe860"/><ellipse cx="1395" cy="1152" rx="7" ry="4" fill="#ffe860"/><ellipse cx="1362" cy="1055" rx="4" ry="7" fill="#fff8c0"/><ellipse cx="1628" cy="1217" rx="7" ry="6" fill="#fff48a"/><ellipse cx="1621" cy="1149" rx="9" ry="5" fill="#fff48a"/><ellipse cx="1387" cy="1191" rx="7" ry="6" fill="#ffe860"/><ellipse cx="1438" cy="1099" rx="6" ry="6" fill="#fff8c0"/><ellipse cx="1633" cy="1092" rx="11" ry="8" fill="#f0a010"/><ellipse cx="1388" cy="1338" rx="5" ry="6" fill="#ffe860"/><ellipse cx="1710" cy="1277" rx="10" ry="6" fill="#fff8c0"/><ellipse cx="1593" cy="1216" rx="10" ry="7" fill="#fff48a"/><ellipse cx="1445" cy="1096" rx="4" ry="3" fill="#ec9a0c"/><ellipse cx="1232" cy="1331" rx="11" ry="5" fill="#f0a010"/><ellipse cx="1661" cy="1019" rx="9" ry="7" fill="#fff48a"/><ellipse cx="1718" cy="1221" rx="4" ry="7" fill="#fff48a"/><ellipse cx="1466" cy="1271" rx="8" ry="3" fill="#fff48a"/><ellipse cx="1490" cy="1211" rx="5" ry="3" fill="#fff8c0"/><ellipse cx="1744" cy="1246" rx="9" ry="7" fill="#ec9a0c"/><ellipse cx="1399" cy="1144" rx="12" ry="6" fill="#ec9a0c"/><ellipse cx="1726" cy="1147" rx="12" ry="5" fill="#f0a010"/><ellipse cx="1601" cy="1069" rx="10" ry="6" fill="#fff8c0"/><ellipse cx="1470" cy="1187" rx="11" ry="4" fill="#ec9a0c"/><ellipse cx="1230" cy="1283" rx="12" ry="6" fill="#fff8c0"/><ellipse cx="1664" cy="1060" rx="5" ry="6" fill="#f0a010"/><ellipse cx="1708" cy="1321" rx="12" ry="4" fill="#fff8c0"/><ellipse cx="1577" cy="1161" rx="9" ry="4" fill="#fff8c0"/><ellipse cx="1299" cy="1018" rx="10" ry="4" fill="#ec9a0c"/><ellipse cx="1500" cy="1097" rx="10" ry="4" fill="#ec9a0c"/><ellipse cx="1740" cy="1185" rx="6" ry="6" fill="#fff8c0"/><ellipse cx="1689" cy="1248" rx="8" ry="7" fill="#fff48a"/><ellipse cx="1663" cy="1156" rx="8" ry="4" fill="#fff48a"/><ellipse cx="1309" cy="1272" rx="12" ry="7" fill="#fff48a"/><ellipse cx="1313" cy="1079" rx="5" ry="6" fill="#ffe860"/><ellipse cx="1560" cy="1023" rx="5" ry="3" fill="#ffe860"/><ellipse cx="1279" cy="1043" rx="5" ry="4" fill="#fff48a"/><ellipse cx="1696" cy="1023" rx="9" ry="6" fill="#ec9a0c"/><ellipse cx="1179" cy="1132" rx="7" ry="3" fill="#ec9a0c"/><ellipse cx="1542" cy="1281" rx="7" ry="6" fill="#ec9a0c"/><ellipse cx="1243" cy="1110" rx="5" ry="7" fill="#ec9a0c"/><ellipse cx="1693" cy="1045" rx="9" ry="5" fill="#ffe860"/><ellipse cx="1432" cy="1252" rx="5" ry="8" fill="#ffe860"/><ellipse cx="1368" cy="1217" rx="5" ry="5" fill="#fff8c0"/><ellipse cx="1376" cy="1272" rx="10" ry="6" fill="#fff8c0"/><ellipse cx="1591" cy="1065" rx="11" ry="6" fill="#ffe860"/><ellipse cx="1245" cy="1350" rx="11" ry="6" fill="#f0a010"/><ellipse cx="1545" cy="1163" rx="9" ry="5" fill="#ffe860"/><ellipse cx="1353" cy="1074" rx="5" ry="4" fill="#fff48a"/><ellipse cx="1491" cy="1220" rx="7" ry="4" fill="#ec9a0c"/><ellipse cx="1394" cy="1328" rx="8" ry="4" fill="#fff48a"/><ellipse cx="1571" cy="1198" rx="12" ry="5" fill="#ffe860"/><ellipse cx="1636" cy="1035" rx="11" ry="4" fill="#ec9a0c"/><ellipse cx="1329" cy="1046" rx="9" ry="8" fill="#fff48a"/><ellipse cx="1239" cy="1265" rx="7" ry="7" fill="#fff8c0"/><ellipse cx="1640" cy="1283" rx="9" ry="7" fill="#fff8c0"/><ellipse cx="1630" cy="1209" rx="9" ry="4" fill="#f0a010"/><ellipse cx="1318" cy="1295" rx="11" ry="5" fill="#fff48a"/><ellipse cx="1407" cy="1307" rx="8" ry="6" fill="#ffe860"/><ellipse cx="1536" cy="1367" rx="11" ry="6" fill="#ffe860"/><ellipse cx="1192" cy="1080" rx="5" ry="7" fill="#fff48a"/><ellipse cx="1308" cy="1073" rx="6" ry="7" fill="#ec9a0c"/><ellipse cx="1296" cy="1307" rx="5" ry="4" fill="#ec9a0c"/><ellipse cx="1550" cy="1066" rx="10" ry="6" fill="#ec9a0c"/><ellipse cx="1204" cy="1141" rx="8" ry="5" fill="#f0a010"/><ellipse cx="1186" cy="1134" rx="11" ry="6" fill="#ffe860"/><ellipse cx="1252" cy="1323" rx="10" ry="3" fill="#fff8c0"/><ellipse cx="1221" cy="1373" rx="11" ry="7" fill="#f0a010"/><ellipse cx="1424" cy="1286" rx="7" ry="7" fill="#ec9a0c"/><ellipse cx="1408" cy="1319" rx="7" ry="5" fill="#f0a010"/><ellipse cx="1214" cy="1321" rx="9" ry="5" fill="#f0a010"/><ellipse cx="1440" cy="1286" rx="8" ry="5" fill="#ec9a0c"/><ellipse cx="1196" cy="1104" rx="8" ry="5" fill="#ffe860"/><ellipse cx="1404" cy="1364" rx="6" ry="5" fill="#f0a010"/><ellipse cx="1663" cy="1205" rx="6" ry="4" fill="#f0a010"/><ellipse cx="1405" cy="1071" rx="5" ry="6" fill="#fff48a"/><ellipse cx="1427" cy="1077" rx="7" ry="5" fill="#fff48a"/><ellipse cx="1194" cy="1271" rx="7" ry="5" fill="#f0a010"/><ellipse cx="1190" cy="1362" rx="6" ry="5" fill="#f0a010"/><ellipse cx="1284" cy="1132" rx="7" ry="4" fill="#fff48a"/><ellipse cx="1205" cy="1276" rx="12" ry="8" fill="#ffe860"/><ellipse cx="1625" cy="1361" rx="6" ry="4" fill="#ec9a0c"/><ellipse cx="1639" cy="1240" rx="7" ry="3" fill="#ffe860"/><ellipse cx="1423" cy="1043" rx="4" ry="3" fill="#fff8c0"/><ellipse cx="1227" cy="1072" rx="8" ry="4" fill="#fff48a"/><ellipse cx="1466" cy="1131" rx="7" ry="5" fill="#ec9a0c"/><ellipse cx="1375" cy="1250" rx="6" ry="6" fill="#ec9a0c"/><ellipse cx="1715" cy="1042" rx="5" ry="5" fill="#ffe860"/><ellipse cx="1464" cy="1210" rx="9" ry="8" fill="#fff8c0"/><ellipse cx="1275" cy="1280" rx="11" ry="6" fill="#ec9a0c"/><ellipse cx="1701" cy="1142" rx="8" ry="5" fill="#ec9a0c"/><ellipse cx="1576" cy="1136" rx="8" ry="7" fill="#f0a010"/><ellipse cx="1697" cy="1264" rx="4" ry="4" fill="#ec9a0c"/><ellipse cx="1603" cy="1310" rx="10" ry="6" fill="#fff48a"/><ellipse cx="1230" cy="1097" rx="11" ry="7" fill="#fff48a"/><ellipse cx="1431" cy="1337" rx="12" ry="3" fill="#ffe860"/><ellipse cx="1286" cy="1297" rx="7" ry="5" fill="#fff48a"/><ellipse cx="1432" cy="1310" rx="6" ry="3" fill="#f0a010"/><ellipse cx="1262" cy="1245" rx="12" ry="4" fill="#fff8c0"/><ellipse cx="1339" cy="1086" rx="8" ry="6" fill="#fff8c0"/><ellipse cx="1692" cy="1126" rx="10" ry="5" fill="#fff8c0"/><ellipse cx="1530" cy="1025" rx="9" ry="7" fill="#fff48a"/><ellipse cx="1233" cy="1354" rx="5" ry="5" fill="#ffe860"/><ellipse cx="1302" cy="1313" rx="5" ry="5" fill="#fff8c0"/><ellipse cx="1556" cy="1265" rx="9" ry="5" fill="#ec9a0c"/><ellipse cx="1238" cy="1315" rx="8" ry="5" fill="#fff8c0"/><ellipse cx="1242" cy="1013" rx="10" ry="3" fill="#ffe860"/><ellipse cx="1372" cy="1187" rx="11" ry="6" fill="#fff48a"/><ellipse cx="1383" cy="1296" rx="9" ry="4" fill="#fff48a"/><ellipse cx="1375" cy="1373" rx="6" ry="5" fill="#ffe860"/><ellipse cx="1318" cy="1128" rx="10" ry="7" fill="#f0a010"/><ellipse cx="1737" cy="1233" rx="11" ry="5" fill="#fff8c0"/><ellipse cx="1284" cy="1238" rx="8" ry="7" fill="#ec9a0c"/><ellipse cx="1407" cy="1374" rx="6" ry="8" fill="#fff48a"/><ellipse cx="1280" cy="1045" rx="6" ry="6" fill="#f0a010"/><ellipse cx="1539" cy="1025" rx="6" ry="5" fill="#f0a010"/><ellipse cx="1372" cy="1281" rx="5" ry="5" fill="#ffe860"/><ellipse cx="1693" cy="1172" rx="5" ry="7" fill="#f0a010"/><ellipse cx="1574" cy="1366" rx="12" ry="5" fill="#ffe860"/><ellipse cx="1711" cy="1183" rx="6" ry="8" fill="#fff8c0"/><ellipse cx="1339" cy="1021" rx="11" ry="7" fill="#ffe860"/><ellipse cx="1345" cy="1099" rx="4" ry="4" fill="#fff8c0"/><ellipse cx="1478" cy="1206" rx="12" ry="3" fill="#f0a010"/><ellipse cx="1736" cy="1299" rx="12" ry="7" fill="#ffe860"/><ellipse cx="1733" cy="1023" rx="6" ry="4" fill="#f0a010"/><ellipse cx="1691" cy="1315" rx="8" ry="3" fill="#fff8c0"/><ellipse cx="1353" cy="1100" rx="7" ry="4" fill="#ec9a0c"/><ellipse cx="1200" cy="1167" rx="11" ry="7" fill="#f0a010"/><ellipse cx="1316" cy="1060" rx="8" ry="7" fill="#ec9a0c"/><ellipse cx="1490" cy="1112" rx="4" ry="5" fill="#f0a010"/><ellipse cx="1209" cy="1308" rx="8" ry="6" fill="#ec9a0c"/><ellipse cx="1704" cy="1307" rx="8" ry="5" fill="#fff8c0"/><ellipse cx="1535" cy="1117" rx="9" ry="8" fill="#fff48a"/><ellipse cx="1487" cy="1159" rx="8" ry="4" fill="#ffe860"/><ellipse cx="1321" cy="1113" rx="5" ry="5" fill="#fff8c0"/><ellipse cx="1473" cy="1160" rx="11" ry="8" fill="#f0a010"/><ellipse cx="1524" cy="1021" rx="9" ry="4" fill="#fff8c0"/><ellipse cx="1246" cy="1297" rx="5" ry="6" fill="#ffe860"/><ellipse cx="1387" cy="1198" rx="6" ry="8" fill="#ec9a0c"/><ellipse cx="1278" cy="1150" rx="7" ry="4" fill="#ec9a0c"/><ellipse cx="1716" cy="1354" rx="9" ry="6" fill="#ffe860"/><ellipse cx="1195" cy="1162" rx="12" ry="3" fill="#ec9a0c"/><ellipse cx="1306" cy="1083" rx="10" ry="4" fill="#fff48a"/><ellipse cx="1535" cy="1055" rx="12" ry="8" fill="#fff48a"/><ellipse cx="1569" cy="1167" rx="8" ry="4" fill="#ec9a0c"/><ellipse cx="1494" cy="1074" rx="12" ry="4" fill="#ec9a0c"/><ellipse cx="1691" cy="1075" rx="9" ry="6" fill="#ec9a0c"/><ellipse cx="1256" cy="1030" rx="6" ry="6" fill="#f0a010"/><ellipse cx="1250" cy="1064" rx="12" ry="6" fill="#fff8c0"/><ellipse cx="1393" cy="1049" rx="5" ry="3" fill="#ec9a0c"/><ellipse cx="1235" cy="1052" rx="5" ry="5" fill="#ffe860"/><ellipse cx="1697" cy="1038" rx="4" ry="5" fill="#f0a010"/><ellipse cx="1256" cy="1185" rx="7" ry="8" fill="#fff48a"/><ellipse cx="1451" cy="1267" rx="8" ry="7" fill="#ffe860"/><ellipse cx="1478" cy="1322" rx="9" ry="5" fill="#ec9a0c"/><ellipse cx="1482" cy="1171" rx="8" ry="5" fill="#fff8c0"/><ellipse cx="1606" cy="1118" rx="6" ry="7" fill="#f0a010"/><ellipse cx="1722" cy="1126" rx="5" ry="6" fill="#f0a010"/><ellipse cx="1207" cy="1234" rx="5" ry="3" fill="#f0a010"/><ellipse cx="1671" cy="1300" rx="9" ry="6" fill="#fff8c0"/><ellipse cx="1612" cy="1044" rx="9" ry="5" fill="#fff8c0"/><ellipse cx="1512" cy="1090" rx="8" ry="5" fill="#ec9a0c"/><ellipse cx="1356" cy="1141" rx="10" ry="7" fill="#fff8c0"/><ellipse cx="1371" cy="1262" rx="6" ry="8" fill="#ffe860"/><ellipse cx="1329" cy="1055" rx="6" ry="8" fill="#fff8c0"/><ellipse cx="1590" cy="1101" rx="12" ry="5" fill="#ec9a0c"/><ellipse cx="1447" cy="1204" rx="12" ry="6" fill="#f0a010"/><ellipse cx="1427" cy="1235" rx="7" ry="6" fill="#fff48a"/><ellipse cx="1523" cy="1116" rx="11" ry="5" fill="#f0a010"/><ellipse cx="1734" cy="1144" rx="4" ry="5" fill="#f0a010"/><ellipse cx="1242" cy="1277" rx="10" ry="5" fill="#ec9a0c"/><ellipse cx="1346" cy="1194" rx="8" ry="8" fill="#ec9a0c"/><ellipse cx="1566" cy="1048" rx="5" ry="4" fill="#ec9a0c"/><ellipse cx="1386" cy="1234" rx="11" ry="4" fill="#f0a010"/><ellipse cx="1423" cy="1082" rx="8" ry="8" fill="#fff48a"/><ellipse cx="1480" cy="1279" rx="8" ry="6" fill="#f0a010"/><ellipse cx="1244" cy="1331" rx="6" ry="4" fill="#ec9a0c"/><ellipse cx="1350" cy="1212" rx="11" ry="6" fill="#fff48a"/><ellipse cx="1223" cy="1020" rx="7" ry="5" fill="#ffe860"/><ellipse cx="1737" cy="1183" rx="7" ry="6" fill="#f0a010"/><ellipse cx="1421" cy="1239" rx="7" ry="3" fill="#ffe860"/><ellipse cx="1733" cy="1262" rx="5" ry="7" fill="#fff48a"/><ellipse cx="1600" cy="1127" rx="7" ry="8" fill="#fff48a"/><ellipse cx="1535" cy="1044" rx="9" ry="7" fill="#ffe860"/><ellipse cx="1304" cy="1128" rx="12" ry="3" fill="#ec9a0c"/><ellipse cx="1470" cy="1340" rx="8" ry="6" fill="#fff8c0"/><ellipse cx="1224" cy="1095" rx="11" ry="8" fill="#ec9a0c"/><ellipse cx="1401" cy="1136" rx="9" ry="6" fill="#ec9a0c"/><ellipse cx="1290" cy="1119" rx="5" ry="6" fill="#fff8c0"/><ellipse cx="1528" cy="1140" rx="11" ry="7" fill="#fff8c0"/><ellipse cx="1291" cy="1032" rx="11" ry="6" fill="#ec9a0c"/><ellipse cx="1456" cy="1322" rx="11" ry="8" fill="#f0a010"/><ellipse cx="1243" cy="1343" rx="11" ry="5" fill="#ec9a0c"/><ellipse cx="1605" cy="1129" rx="7" ry="7" fill="#f0a010"/><ellipse cx="1650" cy="1031" rx="7" ry="4" fill="#ec9a0c"/><ellipse cx="1337" cy="1136" rx="10" ry="5" fill="#fff48a"/><ellipse cx="1238" cy="1090" rx="5" ry="4" fill="#ec9a0c"/><ellipse cx="1450" cy="1086" rx="9" ry="4" fill="#ffe860"/><ellipse cx="1603" cy="1154" rx="7" ry="4" fill="#fff8c0"/><ellipse cx="1347" cy="1147" rx="10" ry="7" fill="#fff48a"/><ellipse cx="1454" cy="1221" rx="8" ry="5" fill="#ffe860"/><ellipse cx="1457" cy="1152" rx="12" ry="5" fill="#fff8c0"/><ellipse cx="1742" cy="1186" rx="5" ry="5" fill="#f0a010"/><ellipse cx="1668" cy="1063" rx="5" ry="6" fill="#ffe860"/><ellipse cx="1660" cy="1184" rx="5" ry="8" fill="#fff8c0"/><ellipse cx="1389" cy="1025" rx="11" ry="4" fill="#ffe860"/><ellipse cx="1228" cy="1288" rx="9" ry="6" fill="#fff8c0"/><ellipse cx="1561" cy="1115" rx="12" ry="7" fill="#ffe860"/><ellipse cx="1601" cy="1116" rx="7" ry="6" fill="#fff48a"/><ellipse cx="1610" cy="1164" rx="9" ry="4" fill="#ffe860"/></g><path d="M1222 1080 Q1260 1040 1330 1028 Q1450 1016 1560 1030 Q1630 1045 1668 1085 Q1700 1120 1712 1170 Q1714 1220 1690 1250 Q1650 1290 1560 1318 Q1480 1340 1400 1330 Q1300 1320 1250 1290 Q1215 1260 1205 1200 Q1200 1130 1222 1080Z" fill="#f5c020" stroke="#6c6a80" stroke-width="4" opacity="0.9"/><path d="M1274 1080 Q1300 1060 1360 1052 Q1450 1042 1520 1048 Q1590 1056 1630 1072 L1640 1090 Q1612 1120 1600 1138 Q1590 1120 1560 1098 Q1510 1072 1440 1068 Q1360 1068 1320 1090 Q1305 1100 1300 1115 Z" fill="#8db2e6" stroke="#2e4f8a" stroke-width="2"/><g stroke="#4f79c0" stroke-width="1.4" fill="none" opacity="0.85"><path d="M1285 1090 Q1380 1055 1520 1058 Q1590 1066 1625 1085"/><path d="M1290 1100 Q1380 1062 1520 1066 Q1580 1076 1612 1105"/><path d="M1296 1108 Q1380 1070 1510 1072"/></g><path d="M1300 1118 L1300 1185 L1318 1185" stroke="#222" stroke-width="1.5" fill="none"/><path d="M1216 1135 Q1208 1100 1226 1082 Q1248 1066 1272 1072 Q1292 1082 1294 1115 Q1296 1140 1282 1146 L1228 1146 Q1218 1144 1216 1135Z" fill="#f4e6ab" stroke="#3a1e08" stroke-width="3.2"/><clipPath id="bc11"><path d="M1216 1135 Q1208 1100 1226 1082 Q1248 1066 1272 1072 Q1292 1082 1294 1115 Q1296 1140 1282 1146 L1228 1146 Q1218 1144 1216 1135Z"/></clipPath><g clip-path="url(#bc11)" fill="#4a2c0c"><polygon points="1243.7,1113.8 1244.5,1108.9 1251.7,1109.4 1254.9,1118.3 1249.4,1121.1" fill="#342008"/><polygon points="1264.9,1136.8 1259.0,1134.4 1266.2,1132.0" fill="#5a3c18"/><polygon points="1264.6,1098.3 1272.8,1101.2 1262.0,1104.8" fill="#3f250a"/><polygon points="1222.8,1125.3 1224.0,1121.9 1229.5,1120.0 1230.3,1124.5" fill="#342008"/><polygon points="1252.3,1101.9 1244.8,1102.3 1241.3,1097.8 1244.8,1096.7" fill="#3f250a"/><polygon points="1281.3,1096.5 1272.7,1098.1 1276.5,1091.3" fill="#5a3c18"/><polygon points="1284.1,1116.3 1282.4,1120.0 1276.3,1120.7 1277.9,1114.0" fill="#3f250a"/><polygon points="1230.2,1100.1 1221.3,1103.9 1219.4,1094.5 1227.3,1095.7" fill="#3f250a"/><polygon points="1256.2,1130.2 1246.6,1129.3 1252.6,1122.6" fill="#3f250a"/><polygon points="1253.2,1081.0 1255.6,1086.9 1254.3,1093.8 1245.9,1090.0 1246.9,1085.8" fill="#342008"/><polygon points="1233.4,1140.2 1231.5,1134.0 1236.6,1127.6 1241.6,1132.0 1244.2,1140.8" fill="#3f250a"/><polygon points="1268.7,1081.7 1274.5,1082.8 1268.2,1092.2 1263.2,1089.0" fill="#342008"/><polygon points="1280.5,1130.7 1274.3,1135.2 1269.7,1128.1 1277.7,1124.3" fill="#3f250a"/><polygon points="1239.3,1094.5 1238.0,1098.6 1232.4,1093.6 1236.5,1089.0" fill="#5a3c18"/><polygon points="1221.4,1115.1 1224.4,1107.8 1228.9,1115.7" fill="#3f250a"/><polygon points="1233.8,1106.5 1238.6,1104.8 1241.3,1107.0 1237.6,1112.7" fill="#342008"/><polygon points="1263.5,1119.7 1262.7,1113.0 1270.4,1115.8 1267.9,1119.1" fill="#342008"/><polygon points="1280.8,1107.1 1280.3,1101.3 1284.7,1099.2 1285.7,1106.8" fill="#5a3c18"/><polygon points="1254.5,1139.6 1249.2,1143.0 1245.9,1137.3 1248.9,1134.7" fill="#5a3c18"/><polygon points="1241.9,1078.6 1245.3,1081.8 1242.1,1085.6 1238.2,1087.2 1236.8,1083.8 1238.0,1079.9" fill="#342008"/><polygon points="1239.4,1121.8 1234.6,1119.3 1232.7,1115.9 1238.2,1115.0" fill="#3f250a"/><polygon points="1226.1,1088.3 1226.8,1086.0 1230.5,1085.7 1230.9,1089.1" fill="#3f250a"/></g><path d="M1212 1160 Q1220 1148 1250 1150 Q1290 1158 1320 1185 Q1322 1230 1318 1282 Q1300 1288 1290 1284 Q1250 1270 1232 1240 Q1215 1205 1212 1160Z" fill="#f4e6ab" stroke="#3a1e08" stroke-width="3.2"/><clipPath id="bc12"><path d="M1212 1160 Q1220 1148 1250 1150 Q1290 1158 1320 1185 Q1322 1230 1318 1282 Q1300 1288 1290 1284 Q1250 1270 1232 1240 Q1215 1205 1212 1160Z"/></clipPath><g clip-path="url(#bc12)" fill="#4a2c0c"><polygon points="1257.7,1242.2 1258.0,1235.6 1265.8,1232.6 1267.0,1242.8" fill="#342008"/><polygon points="1254.7,1203.1 1245.4,1210.1 1240.9,1199.2" fill="#342008"/><polygon points="1268.9,1220.4 1267.9,1218.1 1273.8,1215.5 1275.6,1216.3 1275.1,1219.6 1272.1,1223.6" fill="#3f250a"/><polygon points="1253.4,1271.9 1249.0,1268.2 1254.7,1267.2" fill="#4a2e10"/><polygon points="1279.6,1255.6 1270.6,1251.2 1277.8,1245.8 1284.3,1249.3" fill="#4a2e10"/><polygon points="1268.6,1182.6 1265.1,1187.7 1262.3,1183.5 1266.4,1178.7" fill="#342008"/><polygon points="1277.8,1211.0 1282.6,1206.3 1287.8,1209.8 1280.4,1219.4" fill="#4a2e10"/><polygon points="1296.7,1202.2 1300.9,1207.0 1296.7,1214.8 1288.5,1209.2 1291.6,1203.8" fill="#4a2e10"/><polygon points="1226.2,1185.7 1228.4,1181.4 1232.7,1182.2 1238.4,1186.5 1236.4,1191.1 1229.2,1189.5" fill="#5a3c18"/><polygon points="1245.5,1224.6 1240.4,1223.5 1242.3,1217.2 1246.6,1218.9" fill="#3f250a"/><polygon points="1299.2,1235.4 1298.4,1226.3 1306.0,1224.3 1309.5,1232.1 1303.5,1241.1" fill="#4a2e10"/><polygon points="1294.8,1226.0 1295.0,1222.7 1299.5,1225.0" fill="#5a3c18"/><polygon points="1263.1,1189.5 1268.6,1194.8 1258.9,1197.6 1257.6,1194.1" fill="#342008"/><polygon points="1236.1,1236.7 1228.1,1239.9 1227.2,1234.0 1232.4,1229.8" fill="#4a2e10"/><polygon points="1253.0,1174.1 1259.3,1175.1 1258.7,1179.8 1250.8,1180.1" fill="#5a3c18"/><polygon points="1231.0,1211.6 1225.0,1212.1 1226.4,1206.1 1232.5,1207.2" fill="#342008"/><polygon points="1241.4,1173.8 1241.3,1170.2 1244.9,1165.0 1246.4,1167.4 1247.9,1172.5 1246.1,1174.7" fill="#3f250a"/><polygon points="1276.9,1266.9 1274.6,1271.2 1269.2,1265.5 1274.3,1262.1" fill="#4a2e10"/><polygon points="1255.0,1237.3 1244.4,1243.5 1245.5,1230.1" fill="#342008"/><polygon points="1245.2,1192.7 1246.0,1180.7 1255.3,1184.9 1250.5,1192.3" fill="#342008"/><polygon points="1279.0,1181.0 1280.5,1175.2 1288.2,1179.9" fill="#342008"/><polygon points="1273.2,1229.4 1272.4,1231.8 1269.1,1231.3 1268.7,1227.4 1269.4,1224.7 1274.2,1227.0" fill="#342008"/><polygon points="1263.4,1216.1 1263.9,1223.6 1259.4,1226.6 1253.6,1218.8 1257.1,1215.6" fill="#5a3c18"/><polygon points="1262.6,1164.8 1260.9,1166.9 1255.3,1164.6 1257.0,1161.1 1261.4,1159.6" fill="#5a3c18"/><polygon points="1308.1,1204.0 1313.4,1204.9 1312.0,1208.0 1311.9,1212.6 1305.8,1209.8 1305.4,1206.0" fill="#4a2e10"/><polygon points="1258.4,1263.3 1257.2,1256.0 1261.7,1256.1 1263.5,1261.0" fill="#5a3c18"/><polygon points="1297.6,1188.9 1298.0,1186.5 1299.9,1185.6 1305.2,1185.7 1303.7,1190.2 1300.9,1191.2" fill="#4a2e10"/><polygon points="1289.3,1261.2 1289.2,1252.6 1297.7,1253.2" fill="#342008"/><polygon points="1272.8,1188.4 1278.2,1187.6 1276.8,1195.9 1270.2,1195.4" fill="#4a2e10"/><polygon points="1265.5,1205.9 1270.6,1206.4 1268.3,1212.8 1262.6,1210.8" fill="#4a2e10"/><polygon points="1279.8,1233.9 1281.3,1228.7 1287.8,1225.9 1288.9,1230.1 1286.7,1233.7" fill="#4a2e10"/><polygon points="1247.0,1259.3 1240.9,1255.1 1249.2,1250.5 1252.2,1256.9" fill="#3f250a"/><polygon points="1269.8,1170.7 1269.3,1162.9 1275.0,1164.8 1275.7,1167.9" fill="#4a2e10"/><polygon points="1231.4,1252.9 1232.9,1246.5 1238.8,1247.8 1237.5,1251.6" fill="#4a2e10"/><polygon points="1290.5,1187.9 1286.6,1183.3 1291.8,1182.6 1294.6,1184.3" fill="#5a3c18"/><polygon points="1225.2,1225.4 1221.6,1227.3 1218.6,1223.3 1219.6,1219.9 1227.9,1221.6" fill="#3f250a"/><polygon points="1286.4,1240.2 1291.5,1238.7 1297.9,1244.4 1291.8,1244.8" fill="#3f250a"/><polygon points="1304.0,1223.1 1304.2,1217.4 1312.5,1216.6 1309.5,1222.1" fill="#5a3c18"/><polygon points="1283.4,1263.6 1288.5,1268.3 1285.1,1270.2 1280.0,1266.6" fill="#5a3c18"/><polygon points="1237.0,1192.9 1240.4,1194.2 1238.4,1198.6 1234.0,1198.1" fill="#3f250a"/><polygon points="1300.6,1246.2 1299.5,1242.0 1305.3,1240.0 1306.8,1244.0 1306.9,1249.5 1302.5,1248.3" fill="#5a3c18"/><polygon points="1227.9,1203.0 1221.4,1197.2 1229.5,1194.3" fill="#5a3c18"/><polygon points="1284.0,1193.9 1288.0,1196.7 1285.6,1198.0 1280.1,1198.5" fill="#342008"/><polygon points="1247.8,1229.0 1247.6,1222.7 1253.9,1222.2 1255.0,1224.8 1252.4,1229.9" fill="#4a2e10"/><polygon points="1265.8,1272.2 1263.8,1277.8 1259.5,1272.5 1261.0,1268.7 1265.1,1269.5" fill="#3f250a"/><polygon points="1286.8,1165.5 1287.0,1170.9 1282.0,1171.6 1280.2,1165.7 1282.3,1164.2" fill="#342008"/><polygon points="1237.0,1222.0 1229.5,1223.6 1231.8,1219.4" fill="#3f250a"/><polygon points="1274.4,1178.9 1270.7,1177.2 1273.2,1169.2 1276.6,1174.4" fill="#342008"/><polygon points="1270.9,1235.4 1274.4,1235.2 1281.2,1237.3 1280.3,1241.6 1274.1,1243.4" fill="#5a3c18"/><polygon points="1307.8,1195.5 1308.1,1200.3 1303.3,1200.1 1302.9,1194.6" fill="#4a2e10"/><polygon points="1269.5,1261.2 1265.5,1256.6 1271.9,1256.0 1274.5,1259.5" fill="#3f250a"/></g><path d="M1315 1205 Q1322 1192 1345 1193 Q1385 1195 1391 1218 Q1394 1260 1388 1298 Q1370 1302 1345 1300 Q1320 1298 1314 1290 Q1308 1250 1315 1205Z" fill="#f4e6ab" stroke="#3a1e08" stroke-width="3.2"/><clipPath id="bc13"><path d="M1315 1205 Q1322 1192 1345 1193 Q1385 1195 1391 1218 Q1394 1260 1388 1298 Q1370 1302 1345 1300 Q1320 1298 1314 1290 Q1308 1250 1315 1205Z"/></clipPath><g clip-path="url(#bc13)" fill="#4a2c0c"><polygon points="1326.8,1259.6 1332.9,1263.0 1331.9,1269.5 1323.1,1271.5" fill="#342008"/><polygon points="1344.6,1243.6 1344.6,1234.2 1349.8,1236.1 1350.0,1241.4" fill="#5a3c18"/><polygon points="1352.7,1273.7 1355.0,1271.1 1359.8,1273.4 1358.8,1278.2 1354.8,1277.7" fill="#5a3c18"/><polygon points="1366.4,1205.8 1367.1,1210.9 1358.0,1209.9 1358.6,1204.6" fill="#3f250a"/><polygon points="1336.9,1203.8 1332.4,1217.0 1328.3,1204.3" fill="#342008"/><polygon points="1341.4,1287.1 1337.7,1285.8 1337.0,1281.0 1341.6,1280.5" fill="#342008"/><polygon points="1325.7,1223.9 1325.0,1218.2 1332.3,1219.2 1330.5,1224.6" fill="#342008"/><polygon points="1356.3,1228.7 1356.7,1219.8 1363.6,1224.6" fill="#342008"/><polygon points="1326.3,1231.8 1327.7,1236.0 1324.0,1236.3 1323.5,1236.3 1320.6,1233.6 1326.0,1229.9" fill="#4a2e10"/><polygon points="1357.9,1245.8 1356.0,1255.8 1349.9,1251.0 1352.9,1245.9" fill="#5a3c18"/><polygon points="1366.0,1237.9 1368.2,1231.9 1375.7,1237.2 1370.5,1245.2" fill="#3f250a"/><polygon points="1375.4,1264.5 1381.9,1262.8 1384.3,1270.6 1375.3,1270.5" fill="#5a3c18"/><polygon points="1381.1,1244.5 1383.7,1245.3 1386.0,1253.5 1381.5,1253.3 1378.8,1249.0" fill="#342008"/><polygon points="1357.9,1262.3 1352.4,1259.0 1356.9,1257.5" fill="#342008"/><polygon points="1373.5,1229.8 1369.5,1224.1 1375.7,1220.3 1377.8,1226.5" fill="#342008"/><polygon points="1322.7,1248.2 1314.3,1246.5 1313.5,1240.6 1322.7,1241.3" fill="#5a3c18"/><polygon points="1331.1,1248.8 1337.5,1251.1 1338.4,1253.2 1332.2,1256.2 1330.2,1255.2 1330.0,1249.0" fill="#5a3c18"/><polygon points="1344.2,1206.1 1348.2,1198.5 1352.5,1207.7" fill="#4a2e10"/><polygon points="1365.2,1254.7 1367.8,1250.3 1371.4,1251.8 1372.2,1257.0 1367.2,1256.6" fill="#4a2e10"/><polygon points="1345.6,1228.5 1337.3,1228.4 1336.5,1217.0 1340.7,1217.8 1348.5,1225.8" fill="#342008"/><polygon points="1353.5,1281.8 1353.3,1286.4 1348.7,1285.9 1346.9,1280.2" fill="#4a2e10"/><polygon points="1370.4,1266.6 1367.8,1271.5 1362.7,1267.6 1363.2,1263.2 1366.9,1264.2" fill="#3f250a"/><polygon points="1370.4,1280.7 1367.6,1283.1 1363.4,1279.6 1366.8,1277.6 1368.6,1277.9" fill="#4a2e10"/><polygon points="1315.0,1262.7 1312.3,1257.8 1317.7,1252.6 1323.5,1258.3 1321.6,1261.5" fill="#5a3c18"/><polygon points="1334.6,1282.6 1325.4,1283.6 1327.4,1277.2" fill="#4a2e10"/><polygon points="1343.0,1264.6 1348.8,1267.3 1345.0,1271.1" fill="#5a3c18"/><polygon points="1355.0,1240.1 1358.6,1238.5 1362.3,1241.7 1357.3,1243.6" fill="#5a3c18"/><polygon points="1333.2,1237.6 1339.7,1233.4 1339.6,1242.9 1333.8,1242.6" fill="#342008"/><polygon points="1379.9,1235.0 1381.2,1231.8 1384.1,1231.1 1387.2,1235.5 1383.4,1239.7 1381.8,1237.0" fill="#342008"/><polygon points="1349.2,1217.2 1352.7,1210.6 1355.0,1214.4" fill="#4a2e10"/><polygon points="1347.5,1254.6 1348.2,1257.7 1342.5,1257.8 1341.4,1255.5 1345.5,1253.5" fill="#4a2e10"/><polygon points="1350.5,1229.9 1354.8,1229.2 1355.8,1233.5 1350.8,1233.1" fill="#4a2e10"/><polygon points="1374.6,1217.5 1368.9,1214.7 1374.0,1211.9" fill="#342008"/></g><path d="M1388 1225 Q1392 1206 1420 1204 Q1480 1202 1506 1208 Q1514 1230 1512 1290 Q1510 1312 1490 1314 Q1450 1318 1420 1312 Q1392 1306 1388 1290 Q1384 1255 1388 1225Z" fill="#f4e6ab" stroke="#3a1e08" stroke-width="3.2"/><clipPath id="bc14"><path d="M1388 1225 Q1392 1206 1420 1204 Q1480 1202 1506 1208 Q1514 1230 1512 1290 Q1510 1312 1490 1314 Q1450 1318 1420 1312 Q1392 1306 1388 1290 Q1384 1255 1388 1225Z"/></clipPath><g clip-path="url(#bc14)" fill="#4a2c0c"><polygon points="1416.7,1236.0 1414.6,1231.9 1417.3,1224.8 1423.2,1227.9 1422.5,1233.7" fill="#3f250a"/><polygon points="1440.3,1274.8 1432.6,1276.2 1427.1,1270.7 1426.8,1265.9 1433.1,1264.6 1439.3,1268.6" fill="#342008"/><polygon points="1444.8,1286.5 1441.6,1281.5 1445.6,1275.4 1450.2,1278.5 1449.4,1286.1" fill="#3f250a"/><polygon points="1468.3,1256.1 1464.4,1260.4 1462.8,1253.9 1465.4,1253.0 1468.4,1253.7" fill="#4a2e10"/><polygon points="1427.4,1288.5 1424.8,1292.1 1422.6,1294.3 1417.2,1290.9 1416.7,1289.0 1422.7,1286.1" fill="#342008"/><polygon points="1405.4,1283.1 1408.3,1277.4 1413.8,1281.3 1409.6,1283.8" fill="#342008"/><polygon points="1457.2,1302.3 1458.5,1294.1 1463.1,1292.7 1466.8,1295.0 1466.8,1303.6 1464.3,1303.0" fill="#342008"/><polygon points="1441.9,1306.3 1442.7,1298.1 1452.3,1297.6" fill="#3f250a"/><polygon points="1494.0,1243.5 1501.2,1246.4 1497.2,1253.1 1490.4,1250.7" fill="#4a2e10"/><polygon points="1437.4,1228.9 1435.7,1223.8 1434.8,1221.3 1440.0,1222.1 1441.7,1225.2" fill="#5a3c18"/><polygon points="1473.4,1288.2 1473.5,1280.7 1479.8,1281.5 1482.8,1287.6" fill="#4a2e10"/><polygon points="1448.6,1218.1 1451.2,1213.9 1457.0,1218.0 1453.5,1224.3" fill="#5a3c18"/><polygon points="1499.2,1274.8 1497.0,1277.7 1494.0,1277.9 1492.1,1275.9 1492.1,1271.4 1499.9,1271.8" fill="#342008"/><polygon points="1406.6,1268.4 1400.6,1268.9 1396.6,1270.0 1398.7,1264.1 1399.9,1263.0 1403.5,1263.1" fill="#342008"/><polygon points="1446.4,1237.0 1444.9,1244.2 1441.2,1248.9 1435.0,1247.1 1432.6,1240.0 1436.1,1236.6" fill="#342008"/><polygon points="1470.6,1240.1 1466.0,1240.2 1464.2,1232.4 1469.2,1227.5 1473.8,1234.3 1474.1,1240.8" fill="#342008"/><polygon points="1442.2,1265.0 1447.5,1262.6 1454.1,1262.1 1455.7,1266.6 1452.5,1272.1 1446.0,1275.6" fill="#3f250a"/><polygon points="1487.0,1234.5 1488.5,1240.8 1481.5,1241.0 1481.4,1236.8" fill="#4a2e10"/><polygon points="1401.4,1238.6 1408.6,1234.2 1408.6,1237.7 1407.1,1242.2 1402.2,1243.0" fill="#4a2e10"/><polygon points="1425.2,1246.9 1416.2,1255.8 1416.0,1241.7" fill="#4a2e10"/><polygon points="1486.8,1262.5 1492.4,1258.0 1494.2,1267.1 1489.5,1269.5" fill="#342008"/><polygon points="1456.1,1232.5 1460.7,1239.3 1453.8,1242.5 1450.1,1237.5" fill="#4a2e10"/><polygon points="1491.0,1291.6 1484.0,1283.4 1488.2,1280.6 1494.3,1287.3" fill="#3f250a"/><polygon points="1461.5,1280.1 1456.2,1279.6 1458.0,1273.5 1462.4,1272.9" fill="#342008"/><polygon points="1450.1,1256.1 1450.9,1253.0 1458.0,1253.5 1455.0,1257.5" fill="#342008"/><polygon points="1474.1,1255.8 1482.6,1254.9 1483.3,1259.4 1476.1,1262.4" fill="#4a2e10"/><polygon points="1425.6,1298.4 1427.7,1296.8 1431.1,1299.0 1430.3,1303.9 1425.2,1305.3" fill="#5a3c18"/><polygon points="1409.9,1261.8 1403.9,1258.4 1408.7,1253.8 1413.7,1256.5" fill="#342008"/><polygon points="1475.9,1272.1 1480.6,1269.2 1484.8,1271.3 1483.0,1275.6 1477.5,1275.0" fill="#3f250a"/><polygon points="1474.1,1228.3 1472.4,1223.8 1477.2,1220.5 1480.1,1226.1" fill="#3f250a"/><polygon points="1435.5,1251.2 1440.9,1250.0 1442.0,1258.2 1437.5,1256.3" fill="#4a2e10"/><polygon points="1416.8,1278.1 1415.4,1271.5 1423.1,1273.1 1426.3,1278.7 1422.6,1282.4" fill="#5a3c18"/><polygon points="1434.3,1293.7 1434.6,1288.0 1437.7,1289.4 1441.6,1290.7 1438.6,1294.4" fill="#4a2e10"/><polygon points="1449.3,1231.8 1445.0,1235.8 1443.6,1231.2 1444.4,1226.4 1447.3,1227.6 1448.9,1229.9" fill="#4a2e10"/><polygon points="1468.1,1268.7 1464.1,1263.5 1469.8,1265.6" fill="#4a2e10"/><polygon points="1402.3,1249.9 1406.3,1251.8 1403.0,1254.0 1398.5,1256.1 1394.9,1250.7 1397.3,1249.0" fill="#3f250a"/><polygon points="1427.7,1220.9 1427.8,1216.4 1430.8,1212.9 1433.9,1217.0 1433.1,1220.0" fill="#3f250a"/><polygon points="1456.5,1226.1 1457.8,1221.2 1463.4,1225.3 1462.1,1229.8 1458.8,1231.1 1455.8,1230.1" fill="#3f250a"/><polygon points="1469.2,1221.8 1464.6,1220.0 1464.3,1214.5 1471.2,1215.1" fill="#3f250a"/><polygon points="1439.3,1209.8 1446.1,1215.9 1437.7,1217.4" fill="#3f250a"/><polygon points="1475.3,1293.1 1474.8,1300.8 1468.7,1298.3" fill="#342008"/><polygon points="1499.6,1255.8 1503.5,1258.6 1500.3,1262.2 1496.7,1261.0" fill="#3f250a"/><polygon points="1413.2,1265.8 1410.2,1272.8 1406.3,1268.1" fill="#3f250a"/><polygon points="1474.6,1271.7 1474.2,1277.6 1467.3,1275.3" fill="#4a2e10"/><polygon points="1457.5,1287.8 1455.1,1285.6 1456.2,1284.3 1459.4,1283.9 1459.7,1287.8" fill="#5a3c18"/><polygon points="1425.5,1258.2 1426.0,1263.5 1424.3,1265.5 1419.7,1263.9 1421.0,1257.2" fill="#3f250a"/><polygon points="1432.6,1284.7 1427.5,1285.0 1429.6,1279.6" fill="#4a2e10"/><polygon points="1433.1,1228.9 1432.5,1233.9 1429.0,1234.2 1429.7,1228.2" fill="#3f250a"/><polygon points="1403.4,1278.2 1398.9,1274.8 1405.4,1273.9" fill="#342008"/><polygon points="1452.0,1286.5 1454.9,1292.2 1450.9,1294.9 1445.6,1292.6 1446.3,1289.6" fill="#4a2e10"/><polygon points="1434.2,1255.4 1428.8,1259.4 1425.6,1256.6 1428.3,1252.9" fill="#5a3c18"/><polygon points="1459.4,1252.7 1456.5,1247.4 1458.0,1242.5 1461.7,1243.4 1462.3,1247.8" fill="#4a2e10"/><polygon points="1475.5,1245.6 1477.8,1242.4 1481.1,1245.5 1477.4,1250.0" fill="#342008"/><polygon points="1488.9,1223.3 1488.8,1228.9 1485.0,1229.9 1483.3,1222.6" fill="#5a3c18"/></g><path d="M1514 1210 Q1518 1192 1545 1191 Q1580 1192 1588 1215 Q1596 1250 1590 1285 Q1572 1294 1545 1292 Q1522 1290 1517 1275 Q1510 1240 1514 1210Z" fill="#f4e6ab" stroke="#3a1e08" stroke-width="3.2"/><clipPath id="bc15"><path d="M1514 1210 Q1518 1192 1545 1191 Q1580 1192 1588 1215 Q1596 1250 1590 1285 Q1572 1294 1545 1292 Q1522 1290 1517 1275 Q1510 1240 1514 1210Z"/></clipPath><g clip-path="url(#bc15)" fill="#4a2c0c"><polygon points="1525.1,1229.2 1526.9,1221.3 1535.6,1221.7 1533.0,1229.8" fill="#4a2e10"/><polygon points="1540.1,1224.5 1545.8,1219.5 1548.4,1213.3 1552.7,1223.1 1547.7,1225.3" fill="#3f250a"/><polygon points="1554.8,1245.2 1553.3,1241.3 1559.7,1238.6 1560.4,1242.3" fill="#4a2e10"/><polygon points="1530.1,1241.5 1524.1,1248.5 1519.5,1242.6 1519.7,1239.6 1525.8,1237.7" fill="#4a2e10"/><polygon points="1572.3,1224.7 1569.9,1228.9 1566.0,1228.0 1561.3,1227.1 1565.7,1219.9 1572.1,1222.4" fill="#342008"/><polygon points="1559.6,1256.4 1560.3,1248.0 1567.9,1257.6" fill="#4a2e10"/><polygon points="1550.6,1195.1 1555.9,1194.7 1558.1,1201.4 1555.6,1204.4 1549.4,1205.7" fill="#342008"/><polygon points="1523.3,1259.1 1528.5,1257.2 1534.8,1257.7 1531.5,1266.0 1524.6,1266.8" fill="#5a3c18"/><polygon points="1542.0,1269.9 1549.0,1264.2 1551.9,1272.2" fill="#4a2e10"/><polygon points="1559.5,1271.8 1563.7,1267.4 1568.7,1269.5 1565.4,1274.0" fill="#5a3c18"/><polygon points="1572.5,1209.1 1573.0,1216.7 1564.7,1213.4 1567.0,1207.3" fill="#5a3c18"/><polygon points="1577.6,1235.6 1584.8,1234.5 1585.7,1239.5 1584.8,1242.0 1579.8,1243.3 1576.2,1240.5" fill="#5a3c18"/><polygon points="1579.8,1254.8 1587.5,1254.9 1579.7,1259.8" fill="#4a2e10"/><polygon points="1548.3,1212.0 1546.1,1217.8 1538.7,1212.0 1539.5,1205.4 1547.1,1205.5" fill="#3f250a"/><polygon points="1531.2,1246.8 1536.1,1245.4 1539.3,1245.9 1539.2,1250.3 1537.7,1252.6 1533.7,1251.3" fill="#5a3c18"/><polygon points="1530.7,1280.8 1529.9,1266.9 1534.4,1265.9 1542.1,1270.8 1541.1,1278.1 1537.9,1279.3" fill="#4a2e10"/><polygon points="1550.8,1278.9 1545.8,1283.8 1543.8,1279.9 1548.6,1277.3" fill="#4a2e10"/><polygon points="1531.7,1213.1 1530.4,1217.1 1527.0,1212.5 1530.6,1210.7" fill="#5a3c18"/><polygon points="1552.4,1249.4 1553.2,1252.8 1550.2,1255.0 1546.6,1251.3 1548.1,1248.8" fill="#4a2e10"/><polygon points="1539.9,1245.3 1535.6,1234.8 1545.9,1233.3" fill="#342008"/><polygon points="1574.3,1242.2 1568.3,1247.1 1565.8,1243.3 1568.6,1237.2 1572.2,1235.2" fill="#5a3c18"/><polygon points="1585.7,1224.9 1579.8,1227.5 1580.1,1215.2 1587.3,1219.2" fill="#342008"/><polygon points="1579.1,1267.8 1579.8,1272.5 1574.2,1275.7 1572.9,1266.0" fill="#342008"/><polygon points="1574.1,1231.4 1572.0,1230.1 1575.2,1227.8 1580.2,1228.3 1579.0,1231.4 1576.1,1233.6" fill="#5a3c18"/><polygon points="1559.6,1207.9 1564.2,1212.1 1557.8,1213.5 1556.8,1211.6" fill="#5a3c18"/><polygon points="1553.8,1237.3 1548.5,1237.1 1548.8,1231.5 1553.7,1232.3" fill="#3f250a"/><polygon points="1556.7,1286.9 1554.6,1280.3 1561.9,1278.4 1565.1,1289.2" fill="#3f250a"/></g><path d="M1590 1140 Q1600 1110 1620 1085 Q1640 1066 1650 1080 Q1680 1110 1692 1150 Q1698 1200 1690 1230 Q1670 1255 1640 1258 Q1600 1256 1588 1235 Q1578 1190 1590 1140Z" fill="#f4e6ab" stroke="#3a1e08" stroke-width="3.2"/><clipPath id="bc16"><path d="M1590 1140 Q1600 1110 1620 1085 Q1640 1066 1650 1080 Q1680 1110 1692 1150 Q1698 1200 1690 1230 Q1670 1255 1640 1258 Q1600 1256 1588 1235 Q1578 1190 1590 1140Z"/></clipPath><g clip-path="url(#bc16)" fill="#4a2c0c"><polygon points="1627.5,1158.6 1624.1,1161.5 1616.2,1160.2 1618.4,1156.0 1622.0,1153.2" fill="#3f250a"/><polygon points="1635.2,1176.3 1640.6,1181.5 1633.1,1185.8 1626.6,1181.3" fill="#4a2e10"/><polygon points="1667.0,1207.2 1663.2,1208.7 1659.4,1206.9 1662.1,1204.7 1665.2,1202.9" fill="#3f250a"/><polygon points="1656.7,1115.6 1652.2,1111.6 1659.7,1111.6" fill="#3f250a"/><polygon points="1601.4,1145.8 1604.2,1140.8 1607.0,1146.5" fill="#342008"/><polygon points="1616.2,1116.7 1617.6,1122.2 1612.4,1123.8" fill="#3f250a"/><polygon points="1664.2,1120.9 1670.9,1122.8 1670.4,1127.1 1664.1,1127.2 1663.0,1122.9" fill="#3f250a"/><polygon points="1651.0,1165.3 1660.3,1158.0 1666.7,1168.3 1659.1,1173.7" fill="#4a2e10"/><polygon points="1602.2,1155.9 1588.1,1157.7 1590.4,1151.3 1598.0,1149.8" fill="#342008"/><polygon points="1616.1,1174.1 1621.3,1172.2 1623.1,1175.9" fill="#5a3c18"/><polygon points="1625.4,1089.7 1625.7,1083.5 1630.7,1084.8 1631.5,1090.0" fill="#5a3c18"/><polygon points="1623.1,1193.0 1616.0,1192.5 1615.8,1187.4 1624.3,1190.2" fill="#5a3c18"/><polygon points="1593.1,1185.1 1589.8,1182.3 1590.7,1177.7 1593.8,1178.1 1597.5,1181.3 1595.4,1185.7" fill="#4a2e10"/><polygon points="1650.5,1153.0 1648.2,1160.1 1645.0,1157.9 1643.7,1154.2" fill="#342008"/><polygon points="1626.8,1113.6 1634.0,1114.5 1631.4,1125.5 1625.2,1123.0" fill="#3f250a"/><polygon points="1601.4,1190.8 1596.8,1198.3 1594.6,1195.3 1598.1,1188.5" fill="#4a2e10"/><polygon points="1677.7,1142.4 1674.7,1146.2 1671.8,1142.5 1671.2,1138.9 1675.2,1137.2" fill="#342008"/><polygon points="1658.6,1187.5 1659.8,1190.5 1656.7,1189.8 1654.2,1190.2 1654.4,1185.8 1655.7,1184.6" fill="#4a2e10"/><polygon points="1647.8,1212.1 1640.0,1209.1 1643.7,1204.8 1652.1,1208.4" fill="#4a2e10"/><polygon points="1674.8,1172.3 1685.7,1171.1 1680.4,1175.4" fill="#4a2e10"/><polygon points="1643.0,1113.0 1640.8,1107.5 1647.5,1105.7 1646.8,1111.4" fill="#3f250a"/><polygon points="1675.4,1201.9 1667.9,1200.5 1672.4,1196.6" fill="#4a2e10"/><polygon points="1605.9,1126.7 1611.5,1126.1 1606.6,1133.7" fill="#4a2e10"/><polygon points="1628.0,1220.2 1632.0,1233.3 1620.8,1229.8" fill="#5a3c18"/><polygon points="1644.8,1237.9 1646.8,1228.5 1648.5,1224.6 1658.5,1231.0 1654.6,1234.9" fill="#3f250a"/><polygon points="1640.2,1130.9 1639.5,1136.5 1635.4,1136.7 1636.7,1131.7" fill="#5a3c18"/><polygon points="1619.0,1104.4 1620.0,1096.2 1627.9,1097.4 1628.3,1105.5" fill="#3f250a"/><polygon points="1636.3,1157.0 1630.7,1155.7 1628.7,1148.8 1633.3,1144.7 1635.2,1148.1" fill="#3f250a"/><polygon points="1647.9,1092.7 1644.1,1096.6 1643.5,1089.7" fill="#3f250a"/><polygon points="1641.7,1196.9 1641.8,1189.0 1643.3,1188.6 1650.1,1190.4 1647.6,1195.3 1647.1,1196.9" fill="#5a3c18"/><polygon points="1660.1,1099.3 1662.9,1093.3 1669.7,1095.2 1665.5,1100.4" fill="#4a2e10"/><polygon points="1685.1,1146.5 1688.6,1148.3 1687.2,1153.9 1681.9,1150.9" fill="#3f250a"/><polygon points="1607.2,1226.4 1614.1,1221.8 1615.6,1229.5" fill="#5a3c18"/><polygon points="1617.4,1209.6 1613.5,1206.2 1615.8,1202.8 1618.9,1202.0 1623.3,1203.9 1621.7,1207.0" fill="#4a2e10"/><polygon points="1635.2,1216.0 1629.8,1216.2 1631.8,1209.2 1636.1,1209.5" fill="#5a3c18"/><polygon points="1615.3,1142.9 1620.5,1141.8 1621.6,1146.9 1619.6,1148.3 1613.6,1148.3 1612.3,1145.1" fill="#5a3c18"/><polygon points="1612.3,1174.7 1605.3,1178.0 1605.2,1173.4" fill="#4a2e10"/><polygon points="1659.5,1214.7 1659.8,1218.8 1654.4,1220.6 1650.4,1215.8 1657.6,1212.1" fill="#5a3c18"/><polygon points="1644.5,1223.2 1642.9,1227.9 1639.2,1227.2 1639.5,1219.7 1645.2,1220.4" fill="#5a3c18"/><polygon points="1643.2,1142.7 1648.8,1134.4 1652.1,1139.8 1651.4,1146.3 1647.7,1147.6" fill="#342008"/><polygon points="1648.4,1130.2 1641.0,1127.6 1644.7,1122.4 1650.9,1126.7" fill="#4a2e10"/><polygon points="1665.8,1156.6 1666.9,1154.3 1669.5,1153.0 1671.6,1153.9 1670.9,1161.5 1669.2,1159.9" fill="#5a3c18"/><polygon points="1599.9,1140.7 1592.6,1135.8 1596.5,1130.7 1603.4,1132.0" fill="#342008"/><polygon points="1611.2,1111.1 1610.8,1114.2 1605.9,1114.6 1604.3,1114.1 1608.0,1109.2" fill="#342008"/><polygon points="1673.5,1219.6 1667.6,1221.6 1664.7,1215.0 1670.0,1215.1" fill="#5a3c18"/><polygon points="1680.3,1182.6 1683.5,1182.3 1690.7,1186.0 1688.0,1190.8 1682.5,1193.4 1675.4,1189.3" fill="#342008"/><polygon points="1663.5,1183.9 1658.9,1181.9 1664.2,1176.2 1669.3,1179.2" fill="#342008"/><polygon points="1668.3,1113.6 1666.5,1105.8 1673.2,1109.6 1676.0,1113.6" fill="#4a2e10"/><polygon points="1606.6,1204.6 1612.2,1211.2 1609.5,1217.6 1603.1,1212.8 1600.8,1208.0" fill="#5a3c18"/><polygon points="1589.6,1174.5 1590.2,1170.9 1594.8,1172.3" fill="#3f250a"/><polygon points="1611.8,1194.0 1610.0,1199.4 1603.7,1196.6" fill="#342008"/><polygon points="1632.5,1161.1 1637.9,1162.8 1634.3,1168.8 1628.0,1168.6 1628.5,1164.1" fill="#4a2e10"/><polygon points="1603.5,1098.3 1608.6,1098.3 1615.4,1103.3 1608.8,1104.7" fill="#342008"/><polygon points="1642.0,1081.6 1644.5,1086.5 1640.4,1087.2 1636.5,1084.5" fill="#5a3c18"/><polygon points="1662.2,1148.8 1661.0,1154.9 1657.2,1157.5 1654.6,1150.8" fill="#3f250a"/><polygon points="1633.4,1105.5 1637.0,1107.1 1633.7,1110.6 1630.2,1108.0" fill="#3f250a"/><polygon points="1639.3,1172.9 1647.0,1167.5 1649.8,1173.0 1644.3,1176.3" fill="#4a2e10"/><polygon points="1680.7,1125.1 1684.8,1129.5 1677.1,1130.2" fill="#3f250a"/><polygon points="1620.6,1133.1 1618.6,1135.6 1613.1,1133.6 1617.0,1128.6" fill="#4a2e10"/><polygon points="1631.2,1194.8 1628.4,1190.3 1636.7,1189.7 1635.9,1194.2" fill="#4a2e10"/><polygon points="1686.8,1158.2 1686.4,1164.6 1681.7,1165.6 1681.6,1162.4 1681.2,1159.6 1682.7,1155.5" fill="#342008"/><polygon points="1631.3,1238.3 1632.1,1233.3 1639.2,1234.6 1638.7,1241.4 1634.6,1240.3" fill="#5a3c18"/><polygon points="1624.2,1221.0 1621.1,1219.9 1621.3,1216.7 1621.3,1214.8 1624.4,1214.9 1625.8,1218.4" fill="#5a3c18"/><polygon points="1606.9,1181.4 1610.6,1186.0 1602.7,1191.1 1601.7,1185.1" fill="#342008"/><polygon points="1670.0,1196.8 1664.9,1190.8 1671.2,1187.7" fill="#4a2e10"/><polygon points="1599.6,1164.7 1601.4,1158.5 1606.6,1153.7 1610.6,1161.9 1609.7,1166.0" fill="#5a3c18"/><polygon points="1640.5,1096.6 1638.1,1100.5 1633.0,1096.3 1635.6,1092.0" fill="#342008"/><polygon points="1662.6,1134.3 1658.4,1136.5 1657.0,1131.9" fill="#4a2e10"/><polygon points="1627.1,1138.1 1622.0,1142.5 1620.0,1139.2 1625.6,1135.3" fill="#5a3c18"/><polygon points="1651.7,1202.5 1651.5,1196.2 1657.0,1198.8" fill="#342008"/><polygon points="1604.2,1125.2 1596.5,1126.6 1597.5,1119.2 1602.0,1118.4 1603.6,1122.3" fill="#342008"/><polygon points="1649.9,1084.2 1654.5,1083.8 1658.7,1089.5 1651.8,1090.3" fill="#5a3c18"/><polygon points="1670.8,1168.4 1666.6,1163.9 1671.3,1160.3 1674.1,1163.2 1675.4,1167.8" fill="#3f250a"/><polygon points="1655.3,1100.3 1657.6,1103.3 1651.9,1104.2 1651.3,1101.7" fill="#5a3c18"/><polygon points="1682.3,1139.8 1682.6,1135.8 1687.7,1137.6 1687.7,1141.6" fill="#4a2e10"/><polygon points="1625.6,1206.6 1623.8,1201.8 1631.3,1196.6 1631.1,1203.9" fill="#5a3c18"/><polygon points="1660.6,1225.7 1665.9,1228.6 1662.7,1233.1 1658.9,1228.3" fill="#4a2e10"/><polygon points="1674.5,1205.8 1678.6,1210.2 1674.8,1211.7" fill="#4a2e10"/><polygon points="1654.6,1119.9 1659.5,1121.7 1655.3,1125.2 1652.9,1122.1" fill="#4a2e10"/><polygon points="1650.5,1187.3 1645.8,1183.5 1647.0,1182.0 1649.0,1180.9 1651.8,1181.8 1651.9,1184.3" fill="#4a2e10"/></g><path d="M1320 1152 Q1316 1124 1342 1112 Q1352 1092 1395 1088 Q1440 1084 1462 1094 Q1490 1098 1496 1114 Q1500 1124 1496 1130 Q1516 1138 1520 1152 Q1532 1170 1516 1186 Q1480 1196 1420 1194 Q1360 1194 1334 1182 Q1318 1170 1320 1152 Z" fill="#137186" stroke="#062a36" stroke-width="2.5"/><g fill="none" stroke="#22a8a4" stroke-width="4"><path d="M1350 1112 Q1360 1096 1400 1094 Q1445 1092 1462 1100 Q1480 1110 1470 1120 Q1420 1124 1370 1122 Q1348 1120 1350 1112Z"/><path d="M1342 1134 Q1346 1122 1375 1124 Q1420 1128 1470 1124 Q1496 1128 1492 1144 Q1450 1150 1400 1148 Q1350 1148 1342 1134Z"/><path d="M1326 1160 Q1326 1146 1350 1146 Q1420 1152 1500 1150 Q1522 1156 1516 1174 Q1480 1186 1420 1186 Q1350 1184 1330 1176 Q1324 1170 1326 1160Z"/></g><g fill="none" stroke="#0a3a56" stroke-width="1.5"><path d="M1336 1176 Q1380 1188 1430 1186 Q1490 1184 1512 1176"/><path d="M1348 1144 Q1420 1152 1490 1146"/></g><ellipse cx="1395" cy="1108" rx="21" ry="10.5" fill="#1b8e94" stroke="#051e28" stroke-width="1.8"/><ellipse cx="1395" cy="1108" rx="18" ry="7.5" fill="#bcdcf0" stroke="#051e28" stroke-width="1.6"/><ellipse cx="1442" cy="1111" rx="21" ry="10.5" fill="#1b8e94" stroke="#051e28" stroke-width="1.8"/><ellipse cx="1442" cy="1111" rx="18" ry="7.5" fill="#bcdcf0" stroke="#051e28" stroke-width="1.6"/><ellipse cx="1374" cy="1134" rx="22" ry="11" fill="#1b8e94" stroke="#051e28" stroke-width="1.8"/><ellipse cx="1374" cy="1134" rx="19" ry="8" fill="#bcdcf0" stroke="#051e28" stroke-width="1.6"/><ellipse cx="1464" cy="1136" rx="22" ry="10.5" fill="#1b8e94" stroke="#051e28" stroke-width="1.8"/><ellipse cx="1464" cy="1136" rx="19" ry="7.5" fill="#bcdcf0" stroke="#051e28" stroke-width="1.6"/><ellipse cx="1347" cy="1157" rx="21" ry="12" fill="#1b8e94" stroke="#051e28" stroke-width="1.8"/><ellipse cx="1347" cy="1157" rx="18" ry="9" fill="#d8cabb" stroke="#051e28" stroke-width="1.6"/><ellipse cx="1395" cy="1165" rx="21" ry="12" fill="#1b8e94" stroke="#051e28" stroke-width="1.8"/><ellipse cx="1395" cy="1165" rx="18" ry="9" fill="#d8cabb" stroke="#051e28" stroke-width="1.6"/><ellipse cx="1445" cy="1167" rx="21" ry="12" fill="#1b8e94" stroke="#051e28" stroke-width="1.8"/><ellipse cx="1445" cy="1167" rx="18" ry="9" fill="#d8cabb" stroke="#051e28" stroke-width="1.6"/><ellipse cx="1491" cy="1165" rx="21" ry="12" fill="#1b8e94" stroke="#051e28" stroke-width="1.8"/><ellipse cx="1491" cy="1165" rx="18" ry="9" fill="#d8cabb" stroke="#051e28" stroke-width="1.6"/><g fill="#f6c81e"><rect x="1416" y="1103" width="6" height="11"/><rect x="1398" y="1130" width="44" height="7"/><rect x="1367" y="1158" width="5" height="9"/><rect x="1417" y="1160" width="6" height="10"/><rect x="1467" y="1160" width="5" height="10"/></g><ellipse cx="1306" cy="1048" rx="17" ry="11" fill="#f49a18" stroke="#b0500a" stroke-width="2"/><ellipse cx="1348" cy="1037" rx="18" ry="13" fill="#b01818" stroke="#6a0808" stroke-width="2"/><ellipse cx="1348" cy="1037" rx="9" ry="6" fill="#5a0808"/><ellipse cx="1437" cy="1030" rx="36" ry="8" fill="#c8c8c0" stroke="#2a2a2a" stroke-width="2"/><ellipse cx="1501" cy="1102" rx="20" ry="12" fill="#f7a020" stroke="#c06010" stroke-width="2"/><g><ellipse cx="1602" cy="1096" rx="20" ry="17" fill="#1d8a8e" stroke="#0b3c46" stroke-width="2"/><ellipse cx="1602" cy="1096" rx="16" ry="13" fill="#0f6470"/><ellipse cx="1602" cy="1096" rx="14" ry="11" fill="#d4cdc2" stroke="#0b3c46" stroke-width="1.5"/></g><g><ellipse cx="1555" cy="1138" rx="23" ry="17" fill="#1d8a8e" stroke="#0b3c46" stroke-width="2"/><ellipse cx="1555" cy="1138" rx="19" ry="13" fill="#0f6470"/><ellipse cx="1555" cy="1138" rx="17" ry="11" fill="#d4cdc2" stroke="#0b3c46" stroke-width="1.5"/></g><g transform="rotate(-10 1706 1123)"><ellipse cx="1706" cy="1123" rx="15" ry="23" fill="#1d8a8e" stroke="#0b3c46" stroke-width="2"/><ellipse cx="1706" cy="1123" rx="11" ry="19" fill="#0f6470"/><ellipse cx="1706" cy="1123" rx="9" ry="17" fill="#d4cdc2" stroke="#0b3c46" stroke-width="1.5"/></g><g transform="rotate(-10 1717 1175)"><ellipse cx="1717" cy="1175" rx="14" ry="21" fill="#1d8a8e" stroke="#0b3c46" stroke-width="2"/><ellipse cx="1717" cy="1175" rx="10" ry="17" fill="#0f6470"/><ellipse cx="1717" cy="1175" rx="8" ry="15" fill="#d4cdc2" stroke="#0b3c46" stroke-width="1.5"/></g><g><ellipse cx="1636" cy="1297" rx="20" ry="16" fill="#1d8a8e" stroke="#0b3c46" stroke-width="2"/><ellipse cx="1636" cy="1297" rx="16" ry="12" fill="#0f6470"/><ellipse cx="1636" cy="1297" rx="14" ry="10" fill="#d4cdc2" stroke="#0b3c46" stroke-width="1.5"/></g><g><ellipse cx="1598" cy="1286" rx="17" ry="14" fill="#1d8a8e" stroke="#0b3c46" stroke-width="2"/><ellipse cx="1598" cy="1286" rx="13" ry="10" fill="#0f6470"/><ellipse cx="1598" cy="1286" rx="11" ry="8" fill="#d4cdc2" stroke="#0b3c46" stroke-width="1.5"/></g><g><ellipse cx="1561" cy="1305" rx="19" ry="14" fill="#1d8a8e" stroke="#0b3c46" stroke-width="2"/><ellipse cx="1561" cy="1305" rx="15" ry="10" fill="#0f6470"/><ellipse cx="1561" cy="1305" rx="13" ry="8" fill="#d4cdc2" stroke="#0b3c46" stroke-width="1.5"/></g><g transform="rotate(-25 1225 1270)"><ellipse cx="1225" cy="1270" rx="18" ry="23" fill="#1d8a8e" stroke="#0b3c46" stroke-width="2"/><ellipse cx="1225" cy="1270" rx="14" ry="19" fill="#0f6470"/><ellipse cx="1225" cy="1270" rx="12" ry="17" fill="#d4cdc2" stroke="#0b3c46" stroke-width="1.5"/></g><g><ellipse cx="1279" cy="1305" rx="21" ry="17" fill="#1d8a8e" stroke="#0b3c46" stroke-width="2"/><ellipse cx="1279" cy="1305" rx="17" ry="13" fill="#0f6470"/><ellipse cx="1279" cy="1305" rx="15" ry="11" fill="#d4cdc2" stroke="#0b3c46" stroke-width="1.5"/></g><path d="M1346 1328 Q1348 1312 1372 1314 Q1420 1322 1470 1312 Q1500 1304 1516 1318 Q1528 1334 1520 1348 Q1500 1362 1450 1360 Q1400 1362 1365 1352 Q1345 1345 1346 1328Z" fill="#137186" stroke="#062a36" stroke-width="2"/><ellipse cx="1367" cy="1330" rx="21" ry="15" fill="#1b8e94" stroke="#051e28" stroke-width="1.8"/><ellipse cx="1367" cy="1330" rx="16" ry="10" fill="#d8cabb" stroke="#051e28" stroke-width="1.5"/><ellipse cx="1409" cy="1342" rx="22" ry="14.5" fill="#1b8e94" stroke="#051e28" stroke-width="1.8"/><ellipse cx="1409" cy="1342" rx="17" ry="9.5" fill="#d8cabb" stroke="#051e28" stroke-width="1.5"/><ellipse cx="1453" cy="1343" rx="22" ry="14.5" fill="#1b8e94" stroke="#051e28" stroke-width="1.8"/><ellipse cx="1453" cy="1343" rx="17" ry="9.5" fill="#d8cabb" stroke="#051e28" stroke-width="1.5"/><ellipse cx="1498" cy="1338" rx="21" ry="14.5" fill="#1b8e94" stroke="#051e28" stroke-width="1.8"/><ellipse cx="1498" cy="1338" rx="16" ry="9.5" fill="#d8cabb" stroke="#051e28" stroke-width="1.5"/><ellipse cx="1483" cy="1321" rx="19" ry="12" fill="#1b8e94" stroke="#051e28" stroke-width="1.8"/><ellipse cx="1483" cy="1321" rx="14" ry="7" fill="#d8cabb" stroke="#051e28" stroke-width="1.5"/><path d="M1728 1228 Q1740 1222 1736 1240 Q1728 1262 1706 1274 Q1694 1276 1700 1264 Q1716 1245 1728 1228Z" fill="#1a3ab0" stroke="#061040" stroke-width="2.5"/><circle cx="1674" cy="1264" r="15" fill="#c01818" stroke="#6a0808" stroke-width="2"/><circle cx="1674" cy="1262" r="6" fill="#600808"/><path d="M1218 1300 Q1226 1294 1240 1306 Q1256 1318 1252 1328 Q1240 1332 1226 1320 Q1214 1310 1218 1300Z" fill="#1a3ab0" stroke="#061040" stroke-width="2.5"/><g stroke="#6c6a80" stroke-width="2.5" fill="none" opacity="0.8"><path d="M1340 1305 Q1330 1330 1345 1355"/><path d="M1530 1300 Q1535 1330 1525 1360"/><path d="M1250 1292 Q1270 1330 1320 1345"/></g><path d="M1363 1335 L1363 1397 L1483 1397 L1483 1345 M1455 1340 L1455 1397" stroke="#333" stroke-width="2" fill="none"/><g stroke="#111" stroke-width="1.8" fill="none"><path d="M1438 843 L1438 1030"/><path d="M1304 881 L1348 1036"/><path d="M1194 934 L1303 1049"/><path d="M1110 1008 L1392 1108"/><path d="M1567 892 L1483 1059"/><path d="M1680 922 L1505 1099"/><path d="M1744 971 L1604 1100"/><path d="M1793 1041 L1570 1142"/><path d="M1708 1126 L1819 1126"/><path d="M1086 1116 L1299 1116"/><path d="M1087 1169 L1318 1187"/><path d="M1720 1178 L1821 1207"/><path d="M1732 1246 L1824 1278"/><path d="M1677 1276 L1764 1325"/><path d="M1637 1300 L1708 1371"/><path d="M1598 1291 L1653 1415"/><path d="M1561 1305 L1601 1450"/><path d="M1108 1289 L1223 1269"/><path d="M1137 1357 L1217 1327"/><path d="M1215 1421 L1272 1312"/><path d="M1417 1345 L1417 1463"/><path d="M1500 1349 L1544 1407 L1544 1479"/></g><text x="1278" y="830" font-family="Liberation Sans" font-size="21.5" fill="#111" stroke="#111" stroke-width="0.35" textLength="245" lengthAdjust="spacingAndGlyphs">Palmaris longus tendon</text><text x="1178" y="887" font-family="Liberation Sans" font-size="21.5" fill="#111" stroke="#111" stroke-width="0.35" textLength="120" lengthAdjust="spacingAndGlyphs">Ulnar artery</text><text x="1068" y="942" font-family="Liberation Sans" font-size="21.5" fill="#111" stroke="#111" stroke-width="0.35" textLength="118" lengthAdjust="spacingAndGlyphs">Ulnar nerve</text><text x="924" y="1013.6" font-family="Liberation Sans" font-size="21.5" font-weight="bold" fill="#111" stroke="#111" stroke-width="0.35" textLength="180" lengthAdjust="spacingAndGlyphs">Flexor digitorum</text><text x="874" y="1041" font-family="Liberation Sans" font-size="21.5" font-weight="bold" fill="#111" stroke="#111" stroke-width="0.35" textLength="231" lengthAdjust="spacingAndGlyphs">superficialis tendons</text><text x="1556" y="880" font-family="Liberation Sans" font-size="21.5" fill="#111" stroke="#111" stroke-width="0.35" textLength="190" lengthAdjust="spacingAndGlyphs">Flexor retinaculum</text><text x="1685" y="932" font-family="Liberation Sans" font-size="21.5" font-weight="bold" fill="#111" stroke="#111" stroke-width="0.35" textLength="150" lengthAdjust="spacingAndGlyphs">Median nerve</text><text x="1754" y="979" font-family="Liberation Sans" font-size="21.5" fill="#111" stroke="#111" stroke-width="0.35" textLength="282" lengthAdjust="spacingAndGlyphs">Flexor carpi radialis tendon</text><text x="1802" y="1050" font-family="Liberation Sans" font-size="21.5" font-weight="bold" fill="#111" stroke="#111" stroke-width="0.35" textLength="318" lengthAdjust="spacingAndGlyphs">Flexor pollicis longus tendon</text><text x="1827" y="1132" font-family="Liberation Sans" font-size="21.5" fill="#111" stroke="#111" stroke-width="0.35" textLength="330" lengthAdjust="spacingAndGlyphs">Abductor pollicis longus tendon</text><text x="939" y="1120" font-family="Liberation Sans" font-size="21.5" fill="#111" stroke="#111" stroke-width="0.35" textLength="139" lengthAdjust="spacingAndGlyphs">Carpal tunnel</text><text x="893" y="1171" font-family="Liberation Sans" font-size="21.5" font-weight="bold" fill="#111" stroke="#111" stroke-width="0.35" textLength="180" lengthAdjust="spacingAndGlyphs">Flexor digitorum</text><text x="865" y="1198.5" font-family="Liberation Sans" font-size="21.5" font-weight="bold" fill="#111" stroke="#111" stroke-width="0.35" textLength="210" lengthAdjust="spacingAndGlyphs">profundus tendons</text><text x="1829" y="1219" font-family="Liberation Sans" font-size="21.5" fill="#111" stroke="#111" stroke-width="0.35" textLength="319" lengthAdjust="spacingAndGlyphs">Extensor pollicis brevis tendon</text><text x="796" y="1300" font-family="Liberation Sans" font-size="21.5" fill="#111" stroke="#111" stroke-width="0.35" textLength="303" lengthAdjust="spacingAndGlyphs">Extensor carpi ulnaris tendon</text><text x="1835" y="1288" font-family="Liberation Sans" font-size="21.5" fill="#111" stroke="#111" stroke-width="0.35" textLength="139" lengthAdjust="spacingAndGlyphs">Cephalic vein</text><text x="1774" y="1334" font-family="Liberation Sans" font-size="21.5" fill="#111" stroke="#111" stroke-width="0.35" textLength="131" lengthAdjust="spacingAndGlyphs">Radial artery</text><text x="1015" y="1367" font-family="Liberation Sans" font-size="21.5" fill="#111" stroke="#111" stroke-width="0.35" textLength="116" lengthAdjust="spacingAndGlyphs">Basilic vein</text><text x="1716" y="1381" font-family="Liberation Sans" font-size="21.5" fill="#111" stroke="#111" stroke-width="0.35" textLength="327" lengthAdjust="spacingAndGlyphs">Extensor pollicis longus tendon</text><text x="1665" y="1427" font-family="Liberation Sans" font-size="21.5" fill="#111" stroke="#111" stroke-width="0.35" textLength="385" lengthAdjust="spacingAndGlyphs">Extensor carpi radialis longus tendon</text><text x="907" y="1431" font-family="Liberation Sans" font-size="21.5" fill="#111" stroke="#111" stroke-width="0.35" textLength="302" lengthAdjust="spacingAndGlyphs">Extensor digiti minimi tendon</text><text x="1607" y="1462" font-family="Liberation Sans" font-size="21.5" fill="#111" stroke="#111" stroke-width="0.35" textLength="379" lengthAdjust="spacingAndGlyphs">Extensor carpi radialis brevis tendon</text><text x="1131" y="1488" font-family="Liberation Sans" font-size="21.5" fill="#111" stroke="#111" stroke-width="0.35" textLength="289" lengthAdjust="spacingAndGlyphs">Extensor digitorum tendons</text><text x="1540" y="1507" font-family="Liberation Sans" font-size="21.5" fill="#111" stroke="#111" stroke-width="0.35" textLength="244" lengthAdjust="spacingAndGlyphs">Extensor indicis tendon</text><text x="801" y="845" font-family="Liberation Sans" font-size="23" font-weight="bold" fill="#151515">A</text><path d="M1449.5 1512 L1463.5 1494 L1479 1512Z" fill="#4a0a62"/></svg><svg width="2160" height="200" viewBox="0 0 2160 200" style="position:absolute;left:0;top:0"><defs><linearGradient id="tg" x1="0" y1="0" x2="0" y2="1"><stop offset="0" stop-color="#ffd900"/><stop offset="1" stop-color="#f5c400"/></linearGradient></defs><text x="134.00" y="123" font-family="Liberation Sans" font-size="116" fill="url(#tg)" stroke="#f2c000" stroke-width="3" paint-order="stroke" textLength="113.00" lengthAdjust="spacingAndGlyphs">A.</text><text x="270.00" y="123" font-family="Liberation Sans" font-size="116" fill="url(#tg)" stroke="#f2c000" stroke-width="3" paint-order="stroke" textLength="384.00" lengthAdjust="spacingAndGlyphs">Ulnaire</text><text x="682.00" y="123" font-family="Liberation Sans" font-size="116" fill="url(#tg)" stroke="#f2c000" stroke-width="3" paint-order="stroke" textLength="59.00" lengthAdjust="spacingAndGlyphs">–</text><text x="768.00" y="123" font-family="Liberation Sans" font-size="116" fill="url(#tg)" stroke="#f2c000" stroke-width="3" paint-order="stroke" textLength="483.00" lengthAdjust="spacingAndGlyphs">Rapports</text></svg></body></html>
